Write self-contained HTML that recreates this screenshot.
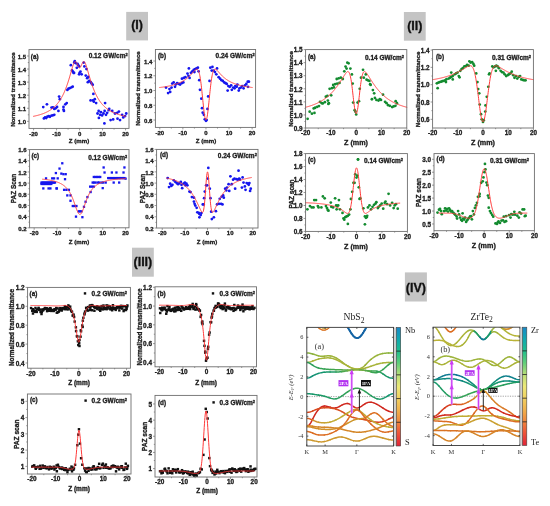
<!DOCTYPE html>
<html><head><meta charset="utf-8"><title>Z-scan figure</title>
<style>html,body{margin:0;padding:0;background:#fff;} body{width:550px;height:506px;overflow:hidden;} svg{display:block;filter:blur(0.35px);}</style>
</head><body>
<svg width="550" height="506" viewBox="0 0 550 506"><rect x="126.2" y="11.9" width="21.8" height="28.5" fill="#c4c4c4"/><text x="137.1" y="29.27" style="font-family:'Liberation Sans',sans-serif;font-size:12.5px;font-weight:bold" text-anchor="middle" fill="#111" stroke="#111" stroke-width="0.3" >(I)</text>
<rect x="403.9" y="12" width="21.8" height="28.7" fill="#c4c4c4"/><text x="414.8" y="30.18" style="font-family:'Liberation Sans',sans-serif;font-size:12.5px;font-weight:bold" text-anchor="middle" fill="#111" stroke="#111" stroke-width="0.3" >(II)</text>
<rect x="132" y="247.7" width="21.8" height="29" fill="#c4c4c4"/><text x="142.9" y="266.22" style="font-family:'Liberation Sans',sans-serif;font-size:12.5px;font-weight:bold" text-anchor="middle" fill="#111" stroke="#111" stroke-width="0.3" >(III)</text>
<rect x="404.9" y="272.4" width="22" height="29.1" fill="#c4c4c4"/><text x="415.9" y="291.68" style="font-family:'Liberation Sans',sans-serif;font-size:12.5px;font-weight:bold" text-anchor="middle" fill="#111" stroke="#111" stroke-width="0.3" >(IV)</text>
<g fill="#1616ee"><circle cx="43.25" cy="107.1" r="1.38"/><circle cx="46.93" cy="104.35" r="1.38"/><circle cx="43.94" cy="118.47" r="1.38"/><circle cx="45.09" cy="117.42" r="1.38"/><circle cx="46.24" cy="118.08" r="1.38"/><circle cx="47.39" cy="116.64" r="1.38"/><circle cx="48.77" cy="116.12" r="1.38"/><circle cx="49.92" cy="116.77" r="1.38"/><circle cx="51.53" cy="115.59" r="1.38"/><circle cx="52.91" cy="115.33" r="1.38"/><circle cx="54.29" cy="114.81" r="1.38"/><circle cx="51.53" cy="107.62" r="1.38"/><circle cx="52.91" cy="107.36" r="1.38"/><circle cx="54.29" cy="108.93" r="1.38"/><circle cx="55.67" cy="108.28" r="1.38"/><circle cx="57.05" cy="106.97" r="1.38"/><circle cx="58.43" cy="110.89" r="1.38"/><circle cx="59.11" cy="96.51" r="1.38"/><circle cx="59.8" cy="99.13" r="1.38"/><circle cx="63.48" cy="109.58" r="1.38"/><circle cx="63.94" cy="110.89" r="1.38"/><circle cx="63.48" cy="106.97" r="1.38"/><circle cx="65.32" cy="104.35" r="1.38"/><circle cx="66.7" cy="103.05" r="1.38"/><circle cx="67.39" cy="89.98" r="1.38"/><circle cx="68.54" cy="88.67" r="1.38"/><circle cx="69.92" cy="88.02" r="1.38"/><circle cx="71.53" cy="87.37" r="1.38"/><circle cx="72.68" cy="86.71" r="1.38"/><circle cx="70.84" cy="65.15" r="1.38"/><circle cx="71.99" cy="70.38" r="1.38"/><circle cx="72.91" cy="71.68" r="1.38"/><circle cx="73.6" cy="72.99" r="1.38"/><circle cx="74.06" cy="72.99" r="1.38"/><circle cx="74.29" cy="62.54" r="1.38"/><circle cx="74.75" cy="61.23" r="1.38"/><circle cx="75.9" cy="63.19" r="1.38"/><circle cx="76.82" cy="67.76" r="1.38"/><circle cx="77.51" cy="63.84" r="1.38"/><circle cx="78.2" cy="65.15" r="1.38"/><circle cx="79.11" cy="66.46" r="1.38"/><circle cx="79.57" cy="72.99" r="1.38"/><circle cx="80.49" cy="71.68" r="1.38"/><circle cx="81.64" cy="74.3" r="1.38"/><circle cx="79.11" cy="74.3" r="1.38"/><circle cx="83.71" cy="62.54" r="1.38"/><circle cx="84.4" cy="66.46" r="1.38"/><circle cx="86.47" cy="69.07" r="1.38"/><circle cx="85.78" cy="75.61" r="1.38"/><circle cx="87.16" cy="78.22" r="1.38"/><circle cx="88.31" cy="76.91" r="1.38"/><circle cx="87.85" cy="82.14" r="1.38"/><circle cx="89.23" cy="80.83" r="1.38"/><circle cx="90.84" cy="82.14" r="1.38"/><circle cx="91.53" cy="83.45" r="1.38"/><circle cx="92.68" cy="84.75" r="1.38"/><circle cx="93.37" cy="93.9" r="1.38"/><circle cx="90.61" cy="100.43" r="1.38"/><circle cx="92.91" cy="100.43" r="1.38"/><circle cx="93.83" cy="101.74" r="1.38"/><circle cx="94.75" cy="99.13" r="1.38"/><circle cx="96.13" cy="103.05" r="1.38"/><circle cx="105.09" cy="103.05" r="1.38"/><circle cx="97.51" cy="113.5" r="1.38"/><circle cx="98.66" cy="110.89" r="1.38"/><circle cx="100.03" cy="114.81" r="1.38"/><circle cx="100.95" cy="112.2" r="1.38"/><circle cx="102.1" cy="115.46" r="1.38"/><circle cx="103.48" cy="113.5" r="1.38"/><circle cx="104.63" cy="110.89" r="1.38"/><circle cx="106.01" cy="114.81" r="1.38"/><circle cx="107.16" cy="112.85" r="1.38"/><circle cx="108.77" cy="110.24" r="1.38"/><circle cx="98.89" cy="117.95" r="1.38"/><circle cx="104.4" cy="123.43" r="1.38"/><circle cx="109.23" cy="108.93" r="1.38"/><circle cx="112.22" cy="110.89" r="1.38"/><circle cx="114.98" cy="113.5" r="1.38"/><circle cx="117.28" cy="112.85" r="1.38"/><circle cx="118.89" cy="111.54" r="1.38"/><circle cx="122.1" cy="114.81" r="1.38"/><circle cx="125.09" cy="116.12" r="1.38"/><circle cx="110.61" cy="120.04" r="1.38"/><circle cx="113.14" cy="119.38" r="1.38"/><circle cx="117.51" cy="118.73" r="1.38"/><circle cx="120.03" cy="120.04" r="1.38"/><circle cx="123.25" cy="117.42" r="1.38"/><circle cx="126.24" cy="113.5" r="1.38"/></g>
<polyline points="33.6,116.29 33.83,116.24 34.06,116.19 34.29,116.15 34.52,116.1 34.75,116.05 34.98,116 35.21,115.94 35.44,115.89 35.67,115.84 35.9,115.78 36.13,115.73 36.36,115.68 36.59,115.62 36.82,115.56 37.05,115.5 37.29,115.45 37.52,115.39 37.75,115.33 37.98,115.26 38.21,115.2 38.44,115.14 38.67,115.08 38.9,115.01 39.13,114.94 39.36,114.88 39.59,114.81 39.82,114.74 40.05,114.67 40.28,114.6 40.51,114.53 40.74,114.45 40.97,114.38 41.2,114.3 41.43,114.23 41.66,114.15 41.89,114.07 42.12,113.99 42.36,113.91 42.59,113.82 42.82,113.74 43.05,113.65 43.28,113.57 43.51,113.48 43.74,113.39 43.97,113.3 44.2,113.2 44.43,113.11 44.66,113.01 44.89,112.91 45.12,112.81 45.35,112.71 45.58,112.61 45.81,112.5 46.04,112.4 46.27,112.29 46.5,112.18 46.73,112.07 46.96,111.95 47.19,111.83 47.43,111.72 47.66,111.6 47.89,111.47 48.12,111.35 48.35,111.22 48.58,111.09 48.81,110.96 49.04,110.82 49.27,110.69 49.5,110.55 49.73,110.41 49.96,110.26 50.19,110.11 50.42,109.96 50.65,109.81 50.88,109.66 51.11,109.5 51.34,109.34 51.57,109.17 51.8,109 52.03,108.83 52.27,108.66 52.5,108.48 52.73,108.3 52.96,108.11 53.19,107.92 53.42,107.73 53.65,107.53 53.88,107.33 54.11,107.13 54.34,106.92 54.57,106.71 54.8,106.49 55.03,106.27 55.26,106.04 55.49,105.81 55.72,105.58 55.95,105.34 56.18,105.09 56.41,104.84 56.64,104.59 56.87,104.33 57.1,104.06 57.34,103.79 57.57,103.51 57.8,103.23 58.03,102.94 58.26,102.64 58.49,102.34 58.72,102.03 58.95,101.71 59.18,101.39 59.41,101.06 59.64,100.72 59.87,100.38 60.1,100.03 60.33,99.67 60.56,99.3 60.79,98.93 61.02,98.55 61.25,98.16 61.48,97.76 61.71,97.35 61.94,96.93 62.17,96.51 62.41,96.07 62.64,95.63 62.87,95.17 63.1,94.71 63.33,94.23 63.56,93.75 63.79,93.26 64.02,92.75 64.25,92.24 64.48,91.71 64.71,91.17 64.94,90.62 65.17,90.06 65.4,89.49 65.63,88.91 65.86,88.32 66.09,87.71 66.32,87.09 66.55,86.46 66.78,85.82 67.01,85.17 67.25,84.5 67.48,83.83 67.71,83.14 67.94,82.44 68.17,81.72 68.4,81 68.63,80.27 68.86,79.52 69.09,78.76 69.32,78 69.55,77.22 69.78,76.44 70.01,75.65 70.24,74.85 70.47,74.05 70.7,73.24 70.93,72.43 71.16,71.62 71.39,70.81 71.62,70.01 71.85,69.21 72.08,68.43 72.32,67.66 72.55,66.91 72.78,66.19 73.01,65.5 73.24,64.84 73.47,64.23 73.7,63.66 73.93,63.15 74.16,62.71 74.39,62.32 74.62,62.02 74.85,61.79 75.08,61.64 75.31,61.58 75.54,61.6 75.77,61.71 76,61.91 76.23,62.18 76.46,62.52 76.69,62.92 76.92,63.38 77.15,63.88 77.39,64.4 77.62,64.93 77.85,65.46 78.08,65.96 78.31,66.43 78.54,66.85 78.77,67.2 79,67.47 79.23,67.66 79.46,67.75 79.69,67.75 79.92,67.66 80.15,67.47 80.38,67.2 80.61,66.85 80.84,66.43 81.07,65.96 81.3,65.46 81.53,64.93 81.76,64.4 81.99,63.88 82.23,63.38 82.46,62.92 82.69,62.52 82.92,62.18 83.15,61.91 83.38,61.71 83.61,61.6 83.84,61.58 84.07,61.64 84.3,61.79 84.53,62.02 84.76,62.32 84.99,62.71 85.22,63.15 85.45,63.66 85.68,64.23 85.91,64.84 86.14,65.5 86.37,66.19 86.6,66.91 86.83,67.66 87.06,68.43 87.3,69.21 87.53,70.01 87.76,70.81 87.99,71.62 88.22,72.43 88.45,73.24 88.68,74.05 88.91,74.85 89.14,75.65 89.37,76.44 89.6,77.22 89.83,78 90.06,78.76 90.29,79.52 90.52,80.27 90.75,81 90.98,81.72 91.21,82.44 91.44,83.14 91.67,83.83 91.9,84.5 92.13,85.17 92.37,85.82 92.6,86.46 92.83,87.09 93.06,87.71 93.29,88.32 93.52,88.91 93.75,89.49 93.98,90.06 94.21,90.62 94.44,91.17 94.67,91.71 94.9,92.24 95.13,92.75 95.36,93.26 95.59,93.75 95.82,94.23 96.05,94.71 96.28,95.17 96.51,95.63 96.74,96.07 96.97,96.51 97.2,96.93 97.44,97.35 97.67,97.76 97.9,98.16 98.13,98.55 98.36,98.93 98.59,99.3 98.82,99.67 99.05,100.03 99.28,100.38 99.51,100.72 99.74,101.06 99.97,101.39 100.2,101.71 100.43,102.03 100.66,102.34 100.89,102.64 101.12,102.94 101.35,103.23 101.58,103.51 101.81,103.79 102.04,104.06 102.28,104.33 102.51,104.59 102.74,104.84 102.97,105.09 103.2,105.34 103.43,105.58 103.66,105.81 103.89,106.04 104.12,106.27 104.35,106.49 104.58,106.71 104.81,106.92 105.04,107.13 105.27,107.33 105.5,107.53 105.73,107.73 105.96,107.92 106.19,108.11 106.42,108.3 106.65,108.48 106.88,108.66 107.11,108.83 107.35,109 107.58,109.17 107.81,109.34 108.04,109.5 108.27,109.66 108.5,109.81 108.73,109.96 108.96,110.11 109.19,110.26 109.42,110.41 109.65,110.55 109.88,110.69 110.11,110.82 110.34,110.96 110.57,111.09 110.8,111.22 111.03,111.35 111.26,111.47 111.49,111.6 111.72,111.72 111.95,111.83 112.18,111.95 112.42,112.07 112.65,112.18 112.88,112.29 113.11,112.4 113.34,112.5 113.57,112.61 113.8,112.71 114.03,112.81 114.26,112.91 114.49,113.01 114.72,113.11 114.95,113.2 115.18,113.3 115.41,113.39 115.64,113.48 115.87,113.57 116.1,113.65 116.33,113.74 116.56,113.82 116.79,113.91 117.02,113.99 117.26,114.07 117.49,114.15 117.72,114.23 117.95,114.3 118.18,114.38 118.41,114.45 118.64,114.53 118.87,114.6 119.1,114.67 119.33,114.74 119.56,114.81 119.79,114.88 120.02,114.94 120.25,115.01 120.48,115.08 120.71,115.14 120.94,115.2 121.17,115.26 121.4,115.33 121.63,115.39 121.86,115.45 122.09,115.5 122.33,115.56 122.56,115.62 122.79,115.68 123.02,115.73 123.25,115.78 123.48,115.84 123.71,115.89 123.94,115.94 124.17,116 124.4,116.05 124.63,116.1 124.86,116.15 125.09,116.19 125.32,116.24 125.55,116.29" fill="none" stroke="#ff3838" stroke-width="1.0" stroke-linejoin="round" stroke-linecap="round" />
<rect x="29" y="49.6" width="100" height="78.8" fill="none" stroke="#6e6e6e" stroke-width="0.9"/>
<text x="26" y="124.04" style="font-family:'Liberation Sans',sans-serif;font-size:6.0px;font-weight:bold" text-anchor="end" fill="#1c1c1c" stroke="#1c1c1c" stroke-width="0.32" >1.0</text>
<text x="26" y="110.98" style="font-family:'Liberation Sans',sans-serif;font-size:6.0px;font-weight:bold" text-anchor="end" fill="#1c1c1c" stroke="#1c1c1c" stroke-width="0.32" >1.1</text>
<text x="26" y="97.91" style="font-family:'Liberation Sans',sans-serif;font-size:6.0px;font-weight:bold" text-anchor="end" fill="#1c1c1c" stroke="#1c1c1c" stroke-width="0.32" >1.2</text>
<text x="26" y="84.84" style="font-family:'Liberation Sans',sans-serif;font-size:6.0px;font-weight:bold" text-anchor="end" fill="#1c1c1c" stroke="#1c1c1c" stroke-width="0.32" >1.3</text>
<text x="26" y="71.77" style="font-family:'Liberation Sans',sans-serif;font-size:6.0px;font-weight:bold" text-anchor="end" fill="#1c1c1c" stroke="#1c1c1c" stroke-width="0.32" >1.4</text>
<text x="26" y="58.7" style="font-family:'Liberation Sans',sans-serif;font-size:6.0px;font-weight:bold" text-anchor="end" fill="#1c1c1c" stroke="#1c1c1c" stroke-width="0.32" >1.5</text>
<text x="33.6" y="135.8" style="font-family:'Liberation Sans',sans-serif;font-size:6.0px;font-weight:bold" text-anchor="middle" fill="#1c1c1c" stroke="#1c1c1c" stroke-width="0.32" >-20</text>
<text x="56.59" y="135.8" style="font-family:'Liberation Sans',sans-serif;font-size:6.0px;font-weight:bold" text-anchor="middle" fill="#1c1c1c" stroke="#1c1c1c" stroke-width="0.32" >-10</text>
<text x="79.57" y="135.8" style="font-family:'Liberation Sans',sans-serif;font-size:6.0px;font-weight:bold" text-anchor="middle" fill="#1c1c1c" stroke="#1c1c1c" stroke-width="0.32" >0</text>
<text x="102.56" y="135.8" style="font-family:'Liberation Sans',sans-serif;font-size:6.0px;font-weight:bold" text-anchor="middle" fill="#1c1c1c" stroke="#1c1c1c" stroke-width="0.32" >10</text>
<text x="125.55" y="135.8" style="font-family:'Liberation Sans',sans-serif;font-size:6.0px;font-weight:bold" text-anchor="middle" fill="#1c1c1c" stroke="#1c1c1c" stroke-width="0.32" >20</text>
<path d="M27,121.34H29M27.8,114.81H29M27,108.28H29M27.8,101.74H29M27,95.21H29M27.8,88.67H29M27,82.14H29M27.8,75.61H29M27,69.07H29M27.8,62.54H29M27,56H29M33.6,128.4V130.4M45.09,128.4V129.6M56.59,128.4V130.4M68.08,128.4V129.6M79.57,128.4V130.4M91.07,128.4V129.6M102.56,128.4V130.4M114.06,128.4V129.6M125.55,128.4V130.4" stroke="#6e6e6e" stroke-width="0.7" fill="none"/>
<text transform="translate(14.7,89.5) rotate(-90)" style="font-family:'Liberation Sans',sans-serif;font-size:6.1px;font-weight:bold" text-anchor="middle" fill="#1c1c1c" stroke="#1c1c1c" stroke-width="0.32">Normalized transmittance</text>
<text x="79" y="143.2" style="font-family:'Liberation Sans',sans-serif;font-size:6.1px;font-weight:bold" text-anchor="middle" fill="#1c1c1c" stroke="#1c1c1c" stroke-width="0.32" >Z (mm)</text>
<text x="30.8" y="58.6" style="font-family:'Liberation Sans',sans-serif;font-size:6.3px;font-weight:bold" text-anchor="start" fill="#1c1c1c" stroke="#1c1c1c" stroke-width="0.32" >(a)</text>
<text x="127.7" y="58.4" style="font-family:'Liberation Sans',sans-serif;font-size:6.5px;font-weight:bold" text-anchor="end" fill="#1c1c1c" stroke="#1c1c1c" stroke-width="0.32">0.12 GW/cm<tspan style="font-size:3.90px" dy="-2.2">2</tspan></text>
<g fill="#1616ee"><circle cx="166.02" cy="87.56" r="1.38"/><circle cx="168.1" cy="93.1" r="1.38"/><circle cx="170.18" cy="91.99" r="1.38"/><circle cx="169.48" cy="89.04" r="1.38"/><circle cx="171.56" cy="87.56" r="1.38"/><circle cx="172.25" cy="83.51" r="1.38"/><circle cx="173.64" cy="82.4" r="1.38"/><circle cx="175.02" cy="86.83" r="1.38"/><circle cx="175.72" cy="84.61" r="1.38"/><circle cx="177.1" cy="83.14" r="1.38"/><circle cx="178.72" cy="83.88" r="1.38"/><circle cx="180.1" cy="84.61" r="1.38"/><circle cx="181.72" cy="83.14" r="1.38"/><circle cx="183.34" cy="82.4" r="1.38"/><circle cx="181.95" cy="78.71" r="1.38"/><circle cx="183.8" cy="77.97" r="1.38"/><circle cx="185.41" cy="77.24" r="1.38"/><circle cx="187.49" cy="73.55" r="1.38"/><circle cx="188.42" cy="75.76" r="1.38"/><circle cx="189.57" cy="77.97" r="1.38"/><circle cx="188.88" cy="68.38" r="1.38"/><circle cx="190.95" cy="72.81" r="1.38"/><circle cx="192.34" cy="71.34" r="1.38"/><circle cx="193.73" cy="69.86" r="1.38"/><circle cx="195.11" cy="69.12" r="1.38"/><circle cx="196.5" cy="68.38" r="1.38"/><circle cx="197.88" cy="67.65" r="1.38"/><circle cx="194.42" cy="72.07" r="1.38"/><circle cx="198.57" cy="71.34" r="1.38"/><circle cx="199.27" cy="80.19" r="1.38"/><circle cx="199.96" cy="89.78" r="1.38"/><circle cx="201.34" cy="98.63" r="1.38"/><circle cx="202.04" cy="108.22" r="1.38"/><circle cx="202.73" cy="112.65" r="1.38"/><circle cx="203.88" cy="114.86" r="1.38"/><circle cx="204.81" cy="119.29" r="1.38"/><circle cx="205.96" cy="120.76" r="1.38"/><circle cx="206.65" cy="120.02" r="1.38"/><circle cx="207.46" cy="108.96" r="1.38"/><circle cx="208.16" cy="96.42" r="1.38"/><circle cx="209.54" cy="80.93" r="1.38"/><circle cx="210.35" cy="67.65" r="1.38"/><circle cx="212.43" cy="66.91" r="1.38"/><circle cx="211.73" cy="70.6" r="1.38"/><circle cx="213.58" cy="70.6" r="1.38"/><circle cx="214.97" cy="72.07" r="1.38"/><circle cx="217.04" cy="68.38" r="1.38"/><circle cx="216.35" cy="74.29" r="1.38"/><circle cx="218.66" cy="77.24" r="1.38"/><circle cx="220.05" cy="78.71" r="1.38"/><circle cx="221.43" cy="80.19" r="1.38"/><circle cx="222.82" cy="80.93" r="1.38"/><circle cx="224.2" cy="82.4" r="1.38"/><circle cx="225.59" cy="83.14" r="1.38"/><circle cx="226.74" cy="83.88" r="1.38"/><circle cx="227.66" cy="90.52" r="1.38"/><circle cx="228.36" cy="86.09" r="1.38"/><circle cx="229.74" cy="86.83" r="1.38"/><circle cx="231.13" cy="85.35" r="1.38"/><circle cx="231.82" cy="89.78" r="1.38"/><circle cx="233.21" cy="87.56" r="1.38"/><circle cx="234.59" cy="88.3" r="1.38"/><circle cx="235.28" cy="86.09" r="1.38"/><circle cx="236.67" cy="86.83" r="1.38"/><circle cx="237.36" cy="84.61" r="1.38"/><circle cx="238.75" cy="90.52" r="1.38"/><circle cx="239.44" cy="88.3" r="1.38"/><circle cx="240.82" cy="87.56" r="1.38"/><circle cx="242.21" cy="86.09" r="1.38"/><circle cx="243.59" cy="88.3" r="1.38"/><circle cx="244.98" cy="85.35" r="1.38"/><circle cx="246.36" cy="83.88" r="1.38"/><circle cx="247.75" cy="81.66" r="1.38"/><circle cx="248.9" cy="81.66" r="1.38"/><circle cx="247.98" cy="86.83" r="1.38"/></g>
<polyline points="159.79,87.49 160.02,87.46 160.25,87.43 160.48,87.4 160.71,87.37 160.94,87.34 161.18,87.31 161.41,87.28 161.64,87.25 161.87,87.22 162.1,87.19 162.33,87.16 162.56,87.13 162.8,87.1 163.03,87.06 163.26,87.03 163.49,86.99 163.72,86.96 163.95,86.93 164.18,86.89 164.42,86.85 164.65,86.82 164.88,86.78 165.11,86.74 165.34,86.71 165.57,86.67 165.8,86.63 166.04,86.59 166.27,86.55 166.5,86.51 166.73,86.47 166.96,86.42 167.19,86.38 167.42,86.34 167.66,86.29 167.89,86.25 168.12,86.21 168.35,86.16 168.58,86.11 168.81,86.07 169.04,86.02 169.28,85.97 169.51,85.92 169.74,85.87 169.97,85.82 170.2,85.77 170.43,85.71 170.66,85.66 170.9,85.61 171.13,85.55 171.36,85.49 171.59,85.44 171.82,85.38 172.05,85.32 172.29,85.26 172.52,85.2 172.75,85.14 172.98,85.07 173.21,85.01 173.44,84.95 173.67,84.88 173.91,84.81 174.14,84.75 174.37,84.68 174.6,84.61 174.83,84.53 175.06,84.46 175.29,84.39 175.53,84.31 175.76,84.24 175.99,84.16 176.22,84.08 176.45,84 176.68,83.92 176.91,83.83 177.15,83.75 177.38,83.66 177.61,83.57 177.84,83.48 178.07,83.39 178.3,83.3 178.53,83.21 178.77,83.11 179,83.01 179.23,82.91 179.46,82.81 179.69,82.71 179.92,82.61 180.15,82.5 180.39,82.39 180.62,82.28 180.85,82.17 181.08,82.05 181.31,81.94 181.54,81.82 181.77,81.7 182.01,81.58 182.24,81.45 182.47,81.32 182.7,81.19 182.93,81.06 183.16,80.93 183.39,80.79 183.63,80.65 183.86,80.51 184.09,80.36 184.32,80.22 184.55,80.06 184.78,79.91 185.02,79.76 185.25,79.6 185.48,79.44 185.71,79.27 185.94,79.1 186.17,78.93 186.4,78.76 186.64,78.58 186.87,78.4 187.1,78.22 187.33,78.03 187.56,77.84 187.79,77.65 188.02,77.46 188.26,77.26 188.49,77.05 188.72,76.84 188.95,76.63 189.18,76.42 189.41,76.2 189.64,75.98 189.88,75.76 190.11,75.53 190.34,75.3 190.57,75.06 190.8,74.82 191.03,74.58 191.26,74.33 191.5,74.08 191.73,73.83 191.96,73.57 192.19,73.32 192.42,73.05 192.65,72.79 192.88,72.53 193.12,72.26 193.35,72 193.58,71.73 193.81,71.47 194.04,71.21 194.27,70.96 194.5,70.71 194.74,70.46 194.97,70.23 195.2,70.01 195.43,69.81 195.66,69.62 195.89,69.46 196.12,69.33 196.36,69.22 196.59,69.16 196.82,69.13 197.05,69.15 197.28,69.23 197.51,69.37 197.75,69.58 197.98,69.86 198.21,70.22 198.44,70.68 198.67,71.23 198.9,71.89 199.13,72.66 199.37,73.55 199.6,74.56 199.83,75.69 200.06,76.96 200.29,78.35 200.52,79.87 200.75,81.52 200.99,83.29 201.22,85.17 201.45,87.17 201.68,89.25 201.91,91.42 202.14,93.65 202.37,95.92 202.61,98.22 202.84,100.53 203.07,102.82 203.3,105.06 203.53,107.23 203.76,109.31 203.99,111.26 204.23,113.08 204.46,114.72 204.69,116.17 204.92,117.41 205.15,118.43 205.38,119.2 205.61,119.73 205.85,119.99 206.08,119.99 206.31,119.73 206.54,119.2 206.77,118.43 207,117.41 207.23,116.17 207.47,114.72 207.7,113.08 207.93,111.26 208.16,109.31 208.39,107.23 208.62,105.06 208.85,102.82 209.09,100.53 209.32,98.22 209.55,95.92 209.78,93.65 210.01,91.42 210.24,89.25 210.48,87.17 210.71,85.17 210.94,83.29 211.17,81.52 211.4,79.87 211.63,78.35 211.86,76.96 212.1,75.69 212.33,74.56 212.56,73.55 212.79,72.66 213.02,71.89 213.25,71.23 213.48,70.68 213.72,70.22 213.95,69.86 214.18,69.58 214.41,69.37 214.64,69.23 214.87,69.15 215.1,69.13 215.34,69.16 215.57,69.22 215.8,69.33 216.03,69.46 216.26,69.62 216.49,69.81 216.72,70.01 216.96,70.23 217.19,70.46 217.42,70.71 217.65,70.96 217.88,71.21 218.11,71.47 218.34,71.73 218.58,72 218.81,72.26 219.04,72.53 219.27,72.79 219.5,73.05 219.73,73.32 219.96,73.57 220.2,73.83 220.43,74.08 220.66,74.33 220.89,74.58 221.12,74.82 221.35,75.06 221.58,75.3 221.82,75.53 222.05,75.76 222.28,75.98 222.51,76.2 222.74,76.42 222.97,76.63 223.21,76.84 223.44,77.05 223.67,77.26 223.9,77.46 224.13,77.65 224.36,77.84 224.59,78.03 224.83,78.22 225.06,78.4 225.29,78.58 225.52,78.76 225.75,78.93 225.98,79.1 226.21,79.27 226.45,79.44 226.68,79.6 226.91,79.76 227.14,79.91 227.37,80.06 227.6,80.22 227.83,80.36 228.07,80.51 228.3,80.65 228.53,80.79 228.76,80.93 228.99,81.06 229.22,81.19 229.45,81.32 229.69,81.45 229.92,81.58 230.15,81.7 230.38,81.82 230.61,81.94 230.84,82.05 231.07,82.17 231.31,82.28 231.54,82.39 231.77,82.5 232,82.61 232.23,82.71 232.46,82.81 232.69,82.91 232.93,83.01 233.16,83.11 233.39,83.21 233.62,83.3 233.85,83.39 234.08,83.48 234.31,83.57 234.55,83.66 234.78,83.75 235.01,83.83 235.24,83.92 235.47,84 235.7,84.08 235.94,84.16 236.17,84.24 236.4,84.31 236.63,84.39 236.86,84.46 237.09,84.53 237.32,84.61 237.56,84.68 237.79,84.75 238.02,84.81 238.25,84.88 238.48,84.95 238.71,85.01 238.94,85.07 239.18,85.14 239.41,85.2 239.64,85.26 239.87,85.32 240.1,85.38 240.33,85.44 240.56,85.49 240.8,85.55 241.03,85.61 241.26,85.66 241.49,85.71 241.72,85.77 241.95,85.82 242.18,85.87 242.42,85.92 242.65,85.97 242.88,86.02 243.11,86.07 243.34,86.11 243.57,86.16 243.8,86.21 244.04,86.25 244.27,86.29 244.5,86.34 244.73,86.38 244.96,86.42 245.19,86.47 245.42,86.51 245.66,86.55 245.89,86.59 246.12,86.63 246.35,86.67 246.58,86.71 246.81,86.74 247.04,86.78 247.28,86.82 247.51,86.85 247.74,86.89 247.97,86.93 248.2,86.96 248.43,86.99 248.67,87.03 248.9,87.06 249.13,87.1 249.36,87.13 249.59,87.16 249.82,87.19 250.05,87.22 250.29,87.25 250.52,87.28 250.75,87.31 250.98,87.34 251.21,87.37 251.44,87.4 251.67,87.43 251.91,87.46 252.14,87.49" fill="none" stroke="#ff3838" stroke-width="1.0" stroke-linejoin="round" stroke-linecap="round" />
<rect x="155.4" y="49.5" width="100.2" height="77.9" fill="none" stroke="#6e6e6e" stroke-width="0.9"/>
<text x="152.4" y="122.72" style="font-family:'Liberation Sans',sans-serif;font-size:6.0px;font-weight:bold" text-anchor="end" fill="#1c1c1c" stroke="#1c1c1c" stroke-width="0.32" >0.6</text>
<text x="152.4" y="107.97" style="font-family:'Liberation Sans',sans-serif;font-size:6.0px;font-weight:bold" text-anchor="end" fill="#1c1c1c" stroke="#1c1c1c" stroke-width="0.32" >0.8</text>
<text x="152.4" y="93.22" style="font-family:'Liberation Sans',sans-serif;font-size:6.0px;font-weight:bold" text-anchor="end" fill="#1c1c1c" stroke="#1c1c1c" stroke-width="0.32" >1.0</text>
<text x="152.4" y="78.46" style="font-family:'Liberation Sans',sans-serif;font-size:6.0px;font-weight:bold" text-anchor="end" fill="#1c1c1c" stroke="#1c1c1c" stroke-width="0.32" >1.2</text>
<text x="152.4" y="63.71" style="font-family:'Liberation Sans',sans-serif;font-size:6.0px;font-weight:bold" text-anchor="end" fill="#1c1c1c" stroke="#1c1c1c" stroke-width="0.32" >1.4</text>
<text x="159.79" y="134.8" style="font-family:'Liberation Sans',sans-serif;font-size:6.0px;font-weight:bold" text-anchor="middle" fill="#1c1c1c" stroke="#1c1c1c" stroke-width="0.32" >-20</text>
<text x="182.87" y="134.8" style="font-family:'Liberation Sans',sans-serif;font-size:6.0px;font-weight:bold" text-anchor="middle" fill="#1c1c1c" stroke="#1c1c1c" stroke-width="0.32" >-10</text>
<text x="205.96" y="134.8" style="font-family:'Liberation Sans',sans-serif;font-size:6.0px;font-weight:bold" text-anchor="middle" fill="#1c1c1c" stroke="#1c1c1c" stroke-width="0.32" >0</text>
<text x="229.05" y="134.8" style="font-family:'Liberation Sans',sans-serif;font-size:6.0px;font-weight:bold" text-anchor="middle" fill="#1c1c1c" stroke="#1c1c1c" stroke-width="0.32" >10</text>
<text x="252.14" y="134.8" style="font-family:'Liberation Sans',sans-serif;font-size:6.0px;font-weight:bold" text-anchor="middle" fill="#1c1c1c" stroke="#1c1c1c" stroke-width="0.32" >20</text>
<path d="M153.4,120.02H155.4M154.2,112.65H155.4M153.4,105.27H155.4M154.2,97.89H155.4M153.4,90.52H155.4M154.2,83.14H155.4M153.4,75.76H155.4M154.2,68.38H155.4M153.4,61.01H155.4M159.79,127.4V129.4M171.33,127.4V128.6M182.87,127.4V129.4M194.42,127.4V128.6M205.96,127.4V129.4M217.51,127.4V128.6M229.05,127.4V129.4M240.59,127.4V128.6M252.14,127.4V129.4" stroke="#6e6e6e" stroke-width="0.7" fill="none"/>
<text transform="translate(140.3,88.5) rotate(-90)" style="font-family:'Liberation Sans',sans-serif;font-size:6.1px;font-weight:bold" text-anchor="middle" fill="#1c1c1c" stroke="#1c1c1c" stroke-width="0.32">Normalized transmittance</text>
<text x="206" y="143.2" style="font-family:'Liberation Sans',sans-serif;font-size:6.1px;font-weight:bold" text-anchor="middle" fill="#1c1c1c" stroke="#1c1c1c" stroke-width="0.32" >Z (mm)</text>
<text x="158" y="57.9" style="font-family:'Liberation Sans',sans-serif;font-size:6.3px;font-weight:bold" text-anchor="start" fill="#1c1c1c" stroke="#1c1c1c" stroke-width="0.32" >(b)</text>
<text x="254.6" y="58" style="font-family:'Liberation Sans',sans-serif;font-size:6.5px;font-weight:bold" text-anchor="end" fill="#1c1c1c" stroke="#1c1c1c" stroke-width="0.32">0.24 GW/cm<tspan style="font-size:3.90px" dy="-2.2">2</tspan></text>
<g fill="#1616ee"><rect x="40.33" y="181.41" width="2.3" height="2.3"/><rect x="41.37" y="181.41" width="2.3" height="2.3"/><rect x="42.41" y="181.41" width="2.3" height="2.3"/><rect x="43.44" y="181.41" width="2.3" height="2.3"/><rect x="44.48" y="181.41" width="2.3" height="2.3"/><rect x="45.52" y="181.41" width="2.3" height="2.3"/><rect x="46.55" y="181.41" width="2.3" height="2.3"/><rect x="47.59" y="181.41" width="2.3" height="2.3"/><rect x="48.63" y="181.41" width="2.3" height="2.3"/><rect x="49.67" y="181.41" width="2.3" height="2.3"/><rect x="50.7" y="181.41" width="2.3" height="2.3"/><rect x="51.74" y="181.41" width="2.3" height="2.3"/><rect x="52.78" y="181.41" width="2.3" height="2.3"/><rect x="53.81" y="181.41" width="2.3" height="2.3"/><rect x="40.33" y="182.8" width="2.3" height="2.3"/><rect x="41.56" y="182.8" width="2.3" height="2.3"/><rect x="42.79" y="182.8" width="2.3" height="2.3"/><rect x="44.02" y="182.8" width="2.3" height="2.3"/><rect x="45.25" y="182.8" width="2.3" height="2.3"/><rect x="46.47" y="182.8" width="2.3" height="2.3"/><rect x="47.7" y="182.8" width="2.3" height="2.3"/><rect x="48.93" y="182.8" width="2.3" height="2.3"/><rect x="50.16" y="182.8" width="2.3" height="2.3"/><rect x="42.16" y="187.27" width="2.3" height="2.3"/><rect x="47.42" y="187.27" width="2.3" height="2.3"/><rect x="49.24" y="187.27" width="2.3" height="2.3"/><rect x="55.64" y="187.27" width="2.3" height="2.3"/><rect x="55.41" y="187.27" width="2.3" height="2.3"/><rect x="44.9" y="177.22" width="2.3" height="2.3"/><rect x="51.07" y="177.22" width="2.3" height="2.3"/><rect x="52.9" y="177.22" width="2.3" height="2.3"/><rect x="56.56" y="177.22" width="2.3" height="2.3"/><rect x="54.73" y="171.91" width="2.3" height="2.3"/><rect x="60.21" y="172.47" width="2.3" height="2.3"/><rect x="62.27" y="173.03" width="2.3" height="2.3"/><rect x="64.55" y="173.03" width="2.3" height="2.3"/><rect x="58.38" y="167.44" width="2.3" height="2.3"/><rect x="61.13" y="162.13" width="2.3" height="2.3"/><rect x="63.87" y="178.05" width="2.3" height="2.3"/><rect x="62.95" y="188.67" width="2.3" height="2.3"/><rect x="65.24" y="188.67" width="2.3" height="2.3"/><rect x="67.75" y="188.67" width="2.3" height="2.3"/><rect x="66.15" y="194.25" width="2.3" height="2.3"/><rect x="69.35" y="194.25" width="2.3" height="2.3"/><rect x="69.35" y="199.62" width="2.3" height="2.3"/><rect x="71.64" y="204.87" width="2.3" height="2.3"/><rect x="73.47" y="204.87" width="2.3" height="2.3"/><rect x="75.29" y="204.87" width="2.3" height="2.3"/><rect x="77.58" y="210.17" width="2.3" height="2.3"/><rect x="78.72" y="210.17" width="2.3" height="2.3"/><rect x="80.32" y="210.17" width="2.3" height="2.3"/><rect x="74.84" y="215.48" width="2.3" height="2.3"/><rect x="81.23" y="216.04" width="2.3" height="2.3"/><rect x="82.83" y="205.65" width="2.3" height="2.3"/><rect x="84.43" y="200.62" width="2.3" height="2.3"/><rect x="86.26" y="195.93" width="2.3" height="2.3"/><rect x="89.46" y="190.9" width="2.3" height="2.3"/><rect x="89" y="185.48" width="2.3" height="2.3"/><rect x="90.83" y="185.48" width="2.3" height="2.3"/><rect x="92.66" y="185.48" width="2.3" height="2.3"/><rect x="101.57" y="186.99" width="2.3" height="2.3"/><rect x="92.66" y="175.82" width="2.3" height="2.3"/><rect x="94.26" y="175.82" width="2.3" height="2.3"/><rect x="95.86" y="175.82" width="2.3" height="2.3"/><rect x="97.46" y="175.82" width="2.3" height="2.3"/><rect x="99.06" y="175.82" width="2.3" height="2.3"/><rect x="107.06" y="176.94" width="2.3" height="2.3"/><rect x="108.53" y="176.94" width="2.3" height="2.3"/><rect x="110.01" y="176.94" width="2.3" height="2.3"/><rect x="111.48" y="176.94" width="2.3" height="2.3"/><rect x="112.96" y="176.94" width="2.3" height="2.3"/><rect x="114.43" y="176.94" width="2.3" height="2.3"/><rect x="115.91" y="176.94" width="2.3" height="2.3"/><rect x="117.38" y="176.94" width="2.3" height="2.3"/><rect x="118.86" y="176.94" width="2.3" height="2.3"/><rect x="120.33" y="176.94" width="2.3" height="2.3"/><rect x="121.8" y="176.94" width="2.3" height="2.3"/><rect x="123.28" y="176.94" width="2.3" height="2.3"/><rect x="91.52" y="181.41" width="2.3" height="2.3"/><rect x="92.89" y="181.41" width="2.3" height="2.3"/><rect x="94.49" y="181.41" width="2.3" height="2.3"/><rect x="96.77" y="181.41" width="2.3" height="2.3"/><rect x="97.92" y="181.41" width="2.3" height="2.3"/><rect x="100.2" y="181.41" width="2.3" height="2.3"/><rect x="102.03" y="181.41" width="2.3" height="2.3"/><rect x="104.54" y="181.41" width="2.3" height="2.3"/><rect x="112.54" y="181.41" width="2.3" height="2.3"/><rect x="118.02" y="181.41" width="2.3" height="2.3"/><rect x="103.4" y="171.35" width="2.3" height="2.3"/><rect x="110.71" y="171.35" width="2.3" height="2.3"/><rect x="115.28" y="171.35" width="2.3" height="2.3"/><rect x="122.37" y="171.35" width="2.3" height="2.3"/><rect x="102.49" y="166.32" width="2.3" height="2.3"/><rect x="123.28" y="166.32" width="2.3" height="2.3"/><rect x="124.42" y="177.5" width="2.3" height="2.3"/></g>
<polyline points="42.62,179.2 42.83,179.22 43.04,179.24 43.25,179.26 43.46,179.28 43.66,179.3 43.87,179.32 44.08,179.35 44.29,179.37 44.5,179.39 44.7,179.42 44.91,179.44 45.12,179.46 45.33,179.49 45.54,179.51 45.74,179.54 45.95,179.57 46.16,179.59 46.37,179.62 46.57,179.65 46.78,179.68 46.99,179.71 47.2,179.73 47.41,179.76 47.61,179.79 47.82,179.83 48.03,179.86 48.24,179.89 48.45,179.92 48.65,179.96 48.86,179.99 49.07,180.02 49.28,180.06 49.49,180.09 49.69,180.13 49.9,180.17 50.11,180.21 50.32,180.24 50.52,180.28 50.73,180.32 50.94,180.36 51.15,180.41 51.36,180.45 51.56,180.49 51.77,180.54 51.98,180.58 52.19,180.63 52.4,180.67 52.6,180.72 52.81,180.77 53.02,180.82 53.23,180.87 53.44,180.92 53.64,180.97 53.85,181.02 54.06,181.08 54.27,181.13 54.47,181.19 54.68,181.25 54.89,181.31 55.1,181.37 55.31,181.43 55.51,181.49 55.72,181.56 55.93,181.62 56.14,181.69 56.35,181.75 56.55,181.82 56.76,181.89 56.97,181.97 57.18,182.04 57.38,182.12 57.59,182.19 57.8,182.27 58.01,182.35 58.22,182.44 58.42,182.52 58.63,182.61 58.84,182.69 59.05,182.78 59.26,182.87 59.46,182.97 59.67,183.06 59.88,183.16 60.09,183.26 60.3,183.37 60.5,183.47 60.71,183.58 60.92,183.69 61.13,183.8 61.33,183.92 61.54,184.04 61.75,184.16 61.96,184.28 62.17,184.41 62.37,184.54 62.58,184.68 62.79,184.81 63,184.96 63.21,185.1 63.41,185.25 63.62,185.4 63.83,185.56 64.04,185.72 64.25,185.88 64.45,186.05 64.66,186.23 64.87,186.41 65.08,186.59 65.28,186.78 65.49,186.97 65.7,187.17 65.91,187.38 66.12,187.59 66.32,187.8 66.53,188.03 66.74,188.25 66.95,188.49 67.16,188.73 67.36,188.98 67.57,189.24 67.78,189.5 67.99,189.78 68.2,190.06 68.4,190.35 68.61,190.64 68.82,190.95 69.03,191.26 69.23,191.59 69.44,191.92 69.65,192.26 69.86,192.62 70.07,192.98 70.27,193.36 70.48,193.74 70.69,194.14 70.9,194.54 71.11,194.96 71.31,195.39 71.52,195.83 71.73,196.28 71.94,196.75 72.15,197.23 72.35,197.71 72.56,198.21 72.77,198.72 72.98,199.25 73.18,199.78 73.39,200.32 73.6,200.87 73.81,201.44 74.02,202.01 74.22,202.59 74.43,203.17 74.64,203.76 74.85,204.36 75.06,204.96 75.26,205.56 75.47,206.16 75.68,206.75 75.89,207.35 76.09,207.93 76.3,208.51 76.51,209.08 76.72,209.63 76.93,210.17 77.13,210.68 77.34,211.17 77.55,211.64 77.76,212.08 77.97,212.49 78.17,212.87 78.38,213.21 78.59,213.51 78.8,213.77 79.01,213.98 79.21,214.16 79.42,214.28 79.63,214.36 79.84,214.39 80.04,214.38 80.25,214.31 80.46,214.2 80.67,214.05 80.88,213.84 81.08,213.6 81.29,213.31 81.5,212.98 81.71,212.62 81.92,212.22 82.12,211.79 82.33,211.33 82.54,210.85 82.75,210.34 82.96,209.81 83.16,209.26 83.37,208.7 83.58,208.13 83.79,207.54 83.99,206.95 84.2,206.35 84.41,205.76 84.62,205.16 84.83,204.56 85.03,203.96 85.24,203.37 85.45,202.78 85.66,202.2 85.87,201.62 86.07,201.06 86.28,200.5 86.49,199.96 86.7,199.42 86.91,198.89 87.11,198.38 87.32,197.88 87.53,197.39 87.74,196.91 87.94,196.44 88.15,195.98 88.36,195.54 88.57,195.1 88.78,194.68 88.98,194.27 89.19,193.87 89.4,193.48 89.61,193.1 89.82,192.74 90.02,192.38 90.23,192.03 90.44,191.7 90.65,191.37 90.86,191.05 91.06,190.74 91.27,190.44 91.48,190.15 91.69,189.87 91.89,189.59 92.1,189.33 92.31,189.07 92.52,188.81 92.73,188.57 92.93,188.33 93.14,188.1 93.35,187.88 93.56,187.66 93.77,187.44 93.97,187.24 94.18,187.04 94.39,186.84 94.6,186.65 94.8,186.47 95.01,186.28 95.22,186.11 95.43,185.94 95.64,185.77 95.84,185.61 96.05,185.45 96.26,185.3 96.47,185.15 96.68,185 96.88,184.86 97.09,184.72 97.3,184.59 97.51,184.45 97.72,184.33 97.92,184.2 98.13,184.08 98.34,183.96 98.55,183.84 98.75,183.73 98.96,183.62 99.17,183.51 99.38,183.4 99.59,183.3 99.79,183.2 100,183.1 100.21,183 100.42,182.91 100.63,182.81 100.83,182.72 101.04,182.63 101.25,182.55 101.46,182.46 101.67,182.38 101.87,182.3 102.08,182.22 102.29,182.14 102.5,182.07 102.7,181.99 102.91,181.92 103.12,181.85 103.33,181.78 103.54,181.71 103.74,181.64 103.95,181.58 104.16,181.51 104.37,181.45 104.58,181.39 104.78,181.33 104.99,181.27 105.2,181.21 105.41,181.15 105.62,181.1 105.82,181.04 106.03,180.99 106.24,180.94 106.45,180.88 106.65,180.83 106.86,180.78 107.07,180.74 107.28,180.69 107.49,180.64 107.69,180.59 107.9,180.55 108.11,180.51 108.32,180.46 108.53,180.42 108.73,180.38 108.94,180.34 109.15,180.3 109.36,180.26 109.56,180.22 109.77,180.18 109.98,180.14 110.19,180.11 110.4,180.07 110.6,180.04 110.81,180 111.02,179.97 111.23,179.93 111.44,179.9 111.64,179.87 111.85,179.84 112.06,179.81 112.27,179.77 112.48,179.74 112.68,179.72 112.89,179.69 113.1,179.66 113.31,179.63 113.51,179.6 113.72,179.58 113.93,179.55 114.14,179.52 114.35,179.5 114.55,179.47 114.76,179.45 114.97,179.42 115.18,179.4 115.39,179.38 115.59,179.35 115.8,179.33 116.01,179.31 116.22,179.29 116.43,179.27 116.63,179.24 116.84,179.22 117.05,179.2 117.26,179.18 117.46,179.16 117.67,179.14 117.88,179.13 118.09,179.11 118.3,179.09 118.5,179.07 118.71,179.05 118.92,179.04 119.13,179.02 119.34,179 119.54,178.99 119.75,178.97 119.96,178.95 120.17,178.94 120.38,178.92 120.58,178.91 120.79,178.89 121,178.88 121.21,178.86 121.41,178.85 121.62,178.83 121.83,178.82 122.04,178.81 122.25,178.79 122.45,178.78 122.66,178.77 122.87,178.75 123.08,178.74 123.29,178.73 123.49,178.72 123.7,178.7 123.91,178.69 124.12,178.68 124.33,178.67 124.53,178.66 124.74,178.65 124.95,178.64 125.16,178.63 125.36,178.62 125.57,178.6" fill="none" stroke="#ff3838" stroke-width="1.0" stroke-linejoin="round" stroke-linecap="round" />
<rect x="29.6" y="149.6" width="99.4" height="78.2" fill="none" stroke="#6e6e6e" stroke-width="0.9"/>
<text x="26.6" y="230.5" style="font-family:'Liberation Sans',sans-serif;font-size:6.0px;font-weight:bold" text-anchor="end" fill="#1c1c1c" stroke="#1c1c1c" stroke-width="0.32" >0.2</text>
<text x="26.6" y="219.33" style="font-family:'Liberation Sans',sans-serif;font-size:6.0px;font-weight:bold" text-anchor="end" fill="#1c1c1c" stroke="#1c1c1c" stroke-width="0.32" >0.4</text>
<text x="26.6" y="208.16" style="font-family:'Liberation Sans',sans-serif;font-size:6.0px;font-weight:bold" text-anchor="end" fill="#1c1c1c" stroke="#1c1c1c" stroke-width="0.32" >0.6</text>
<text x="26.6" y="196.99" style="font-family:'Liberation Sans',sans-serif;font-size:6.0px;font-weight:bold" text-anchor="end" fill="#1c1c1c" stroke="#1c1c1c" stroke-width="0.32" >0.8</text>
<text x="26.6" y="185.81" style="font-family:'Liberation Sans',sans-serif;font-size:6.0px;font-weight:bold" text-anchor="end" fill="#1c1c1c" stroke="#1c1c1c" stroke-width="0.32" >1.0</text>
<text x="26.6" y="174.64" style="font-family:'Liberation Sans',sans-serif;font-size:6.0px;font-weight:bold" text-anchor="end" fill="#1c1c1c" stroke="#1c1c1c" stroke-width="0.32" >1.2</text>
<text x="26.6" y="163.47" style="font-family:'Liberation Sans',sans-serif;font-size:6.0px;font-weight:bold" text-anchor="end" fill="#1c1c1c" stroke="#1c1c1c" stroke-width="0.32" >1.4</text>
<text x="26.6" y="152.3" style="font-family:'Liberation Sans',sans-serif;font-size:6.0px;font-weight:bold" text-anchor="end" fill="#1c1c1c" stroke="#1c1c1c" stroke-width="0.32" >1.6</text>
<text x="34.17" y="235.2" style="font-family:'Liberation Sans',sans-serif;font-size:6.0px;font-weight:bold" text-anchor="middle" fill="#1c1c1c" stroke="#1c1c1c" stroke-width="0.32" >-20</text>
<text x="57.02" y="235.2" style="font-family:'Liberation Sans',sans-serif;font-size:6.0px;font-weight:bold" text-anchor="middle" fill="#1c1c1c" stroke="#1c1c1c" stroke-width="0.32" >-10</text>
<text x="79.87" y="235.2" style="font-family:'Liberation Sans',sans-serif;font-size:6.0px;font-weight:bold" text-anchor="middle" fill="#1c1c1c" stroke="#1c1c1c" stroke-width="0.32" >0</text>
<text x="102.72" y="235.2" style="font-family:'Liberation Sans',sans-serif;font-size:6.0px;font-weight:bold" text-anchor="middle" fill="#1c1c1c" stroke="#1c1c1c" stroke-width="0.32" >10</text>
<text x="125.57" y="235.2" style="font-family:'Liberation Sans',sans-serif;font-size:6.0px;font-weight:bold" text-anchor="middle" fill="#1c1c1c" stroke="#1c1c1c" stroke-width="0.32" >20</text>
<path d="M27.6,227.8H29.6M28.4,222.21H29.6M27.6,216.63H29.6M28.4,211.04H29.6M27.6,205.46H29.6M28.4,199.87H29.6M27.6,194.29H29.6M28.4,188.7H29.6M27.6,183.11H29.6M28.4,177.53H29.6M27.6,171.94H29.6M28.4,166.36H29.6M27.6,160.77H29.6M28.4,155.19H29.6M27.6,149.6H29.6M34.17,227.8V229.8M45.6,227.8V229M57.02,227.8V229.8M68.45,227.8V229M79.87,227.8V229.8M91.3,227.8V229M102.72,227.8V229.8M114.15,227.8V229M125.57,227.8V229.8" stroke="#6e6e6e" stroke-width="0.7" fill="none"/>
<text transform="translate(15.7,188.5) rotate(-90)" style="font-family:'Liberation Sans',sans-serif;font-size:6.4px;font-weight:bold" text-anchor="middle" fill="#1c1c1c" stroke="#1c1c1c" stroke-width="0.32">PAZ Scan</text>
<text x="79" y="243.8" style="font-family:'Liberation Sans',sans-serif;font-size:6.1px;font-weight:bold" text-anchor="middle" fill="#1c1c1c" stroke="#1c1c1c" stroke-width="0.32" >Z (mm)</text>
<text x="31.4" y="158.3" style="font-family:'Liberation Sans',sans-serif;font-size:6.3px;font-weight:bold" text-anchor="start" fill="#1c1c1c" stroke="#1c1c1c" stroke-width="0.32" >(c)</text>
<text x="127.2" y="160.4" style="font-family:'Liberation Sans',sans-serif;font-size:6.5px;font-weight:bold" text-anchor="end" fill="#1c1c1c" stroke="#1c1c1c" stroke-width="0.32">0.12 GW/cm<tspan style="font-size:3.90px" dy="-2.2">2</tspan></text>
<g fill="#1616ee"><circle cx="167.69" cy="178.03" r="1.38"/><circle cx="169.05" cy="187.02" r="1.38"/><circle cx="170.18" cy="183.65" r="1.38"/><circle cx="171.31" cy="185.89" r="1.38"/><circle cx="172.44" cy="184.77" r="1.38"/><circle cx="173.8" cy="180.28" r="1.38"/><circle cx="175.39" cy="181.96" r="1.38"/><circle cx="176.74" cy="183.09" r="1.38"/><circle cx="178.1" cy="184.21" r="1.38"/><circle cx="179.46" cy="183.09" r="1.38"/><circle cx="180.82" cy="181.96" r="1.38"/><circle cx="181.5" cy="184.77" r="1.38"/><circle cx="182.18" cy="188.14" r="1.38"/><circle cx="183.53" cy="183.65" r="1.38"/><circle cx="184.89" cy="182.52" r="1.38"/><circle cx="185.35" cy="185.33" r="1.38"/><circle cx="186.48" cy="183.65" r="1.38"/><circle cx="187.38" cy="185.33" r="1.38"/><circle cx="189.42" cy="191.51" r="1.38"/><circle cx="190.55" cy="192.07" r="1.38"/><circle cx="191.91" cy="197.12" r="1.38"/><circle cx="193.95" cy="197.68" r="1.38"/><circle cx="193.95" cy="201.61" r="1.38"/><circle cx="194.62" cy="203.86" r="1.38"/><circle cx="195.3" cy="205.54" r="1.38"/><circle cx="196.66" cy="207.79" r="1.38"/><circle cx="197.34" cy="212.28" r="1.38"/><circle cx="198.7" cy="212.84" r="1.38"/><circle cx="199.38" cy="213.96" r="1.38"/><circle cx="200.74" cy="215.09" r="1.38"/><circle cx="199.38" cy="217.33" r="1.38"/><circle cx="201.42" cy="213.12" r="1.38"/><circle cx="202.77" cy="204.42" r="1.38"/><circle cx="203.68" cy="204.42" r="1.38"/><circle cx="204.13" cy="198.24" r="1.38"/><circle cx="204.81" cy="191.51" r="1.38"/><circle cx="206.17" cy="185.33" r="1.38"/><circle cx="207.07" cy="185.33" r="1.38"/><circle cx="207.75" cy="178.59" r="1.38"/><circle cx="208.32" cy="167.93" r="1.38"/><circle cx="209.79" cy="188.7" r="1.38"/><circle cx="210.47" cy="198.24" r="1.38"/><circle cx="211.15" cy="211.72" r="1.38"/><circle cx="211.83" cy="219.02" r="1.38"/><circle cx="213.86" cy="217.33" r="1.38"/><circle cx="215.9" cy="211.16" r="1.38"/><circle cx="217.03" cy="204.42" r="1.38"/><circle cx="219.07" cy="203.86" r="1.38"/><circle cx="221.11" cy="203.86" r="1.38"/><circle cx="222.46" cy="204.42" r="1.38"/><circle cx="219.75" cy="198.81" r="1.38"/><circle cx="221.79" cy="196.56" r="1.38"/><circle cx="223.82" cy="197.68" r="1.38"/><circle cx="223.14" cy="195.44" r="1.38"/><circle cx="225.18" cy="188.7" r="1.38"/><circle cx="226.99" cy="187.58" r="1.38"/><circle cx="226.31" cy="190.38" r="1.38"/><circle cx="229.25" cy="190.95" r="1.38"/><circle cx="228.58" cy="184.21" r="1.38"/><circle cx="230.39" cy="176.35" r="1.38"/><circle cx="231.74" cy="184.21" r="1.38"/><circle cx="233.1" cy="179.72" r="1.38"/><circle cx="234.46" cy="178.59" r="1.38"/><circle cx="235.14" cy="188.7" r="1.38"/><circle cx="236.5" cy="179.16" r="1.38"/><circle cx="237.86" cy="179.72" r="1.38"/><circle cx="239.21" cy="178.59" r="1.38"/><circle cx="238.53" cy="170.73" r="1.38"/><circle cx="239.89" cy="179.72" r="1.38"/><circle cx="242.61" cy="177.47" r="1.38"/><circle cx="241.93" cy="187.58" r="1.38"/><circle cx="243.51" cy="182.52" r="1.38"/><circle cx="244.87" cy="186.45" r="1.38"/><circle cx="245.55" cy="189.82" r="1.38"/><circle cx="246.68" cy="183.09" r="1.38"/><circle cx="248.04" cy="183.65" r="1.38"/><circle cx="248.72" cy="184.77" r="1.38"/><circle cx="249.4" cy="183.09" r="1.38"/><circle cx="250.08" cy="190.95" r="1.38"/><circle cx="250.76" cy="188.7" r="1.38"/></g>
<polyline points="166.79,178.15 167,178.19 167.21,178.23 167.42,178.28 167.63,178.32 167.84,178.37 168.05,178.41 168.27,178.46 168.48,178.51 168.69,178.56 168.9,178.61 169.11,178.66 169.32,178.71 169.54,178.76 169.75,178.81 169.96,178.86 170.17,178.92 170.38,178.97 170.59,179.02 170.81,179.08 171.02,179.14 171.23,179.19 171.44,179.25 171.65,179.31 171.86,179.37 172.08,179.43 172.29,179.49 172.5,179.56 172.71,179.62 172.92,179.69 173.13,179.75 173.34,179.82 173.56,179.89 173.77,179.95 173.98,180.02 174.19,180.09 174.4,180.17 174.61,180.24 174.83,180.31 175.04,180.39 175.25,180.47 175.46,180.54 175.67,180.62 175.88,180.7 176.1,180.78 176.31,180.87 176.52,180.95 176.73,181.04 176.94,181.12 177.15,181.21 177.36,181.3 177.58,181.39 177.79,181.49 178,181.58 178.21,181.68 178.42,181.77 178.63,181.87 178.85,181.97 179.06,182.08 179.27,182.18 179.48,182.29 179.69,182.39 179.9,182.5 180.12,182.61 180.33,182.73 180.54,182.84 180.75,182.96 180.96,183.08 181.17,183.2 181.39,183.33 181.6,183.45 181.81,183.58 182.02,183.71 182.23,183.84 182.44,183.98 182.65,184.11 182.87,184.25 183.08,184.4 183.29,184.54 183.5,184.69 183.71,184.84 183.92,184.99 184.14,185.15 184.35,185.31 184.56,185.47 184.77,185.63 184.98,185.8 185.19,185.97 185.41,186.14 185.62,186.32 185.83,186.5 186.04,186.68 186.25,186.87 186.46,187.06 186.67,187.25 186.89,187.45 187.1,187.65 187.31,187.86 187.52,188.06 187.73,188.28 187.94,188.49 188.16,188.71 188.37,188.94 188.58,189.17 188.79,189.4 189,189.64 189.21,189.88 189.43,190.12 189.64,190.37 189.85,190.63 190.06,190.89 190.27,191.15 190.48,191.42 190.69,191.69 190.91,191.97 191.12,192.26 191.33,192.55 191.54,192.84 191.75,193.14 191.96,193.44 192.18,193.75 192.39,194.07 192.6,194.39 192.81,194.72 193.02,195.05 193.23,195.38 193.45,195.73 193.66,196.08 193.87,196.43 194.08,196.79 194.29,197.15 194.5,197.52 194.72,197.9 194.93,198.28 195.14,198.67 195.35,199.06 195.56,199.46 195.77,199.86 195.98,200.27 196.2,200.69 196.41,201.1 196.62,201.53 196.83,201.96 197.04,202.39 197.25,202.82 197.47,203.27 197.68,203.71 197.89,204.16 198.1,204.61 198.31,205.07 198.52,205.52 198.74,205.98 198.95,206.44 199.16,206.91 199.37,207.37 199.58,207.83 199.79,208.29 200,208.75 200.22,209.2 200.43,209.65 200.64,210.08 200.85,210.51 201.06,210.91 201.27,211.29 201.49,211.64 201.7,211.94 201.91,212.19 202.12,212.37 202.33,212.47 202.54,212.47 202.76,212.34 202.97,212.06 203.18,211.62 203.39,210.98 203.6,210.11 203.81,209.01 204.03,207.65 204.24,206.02 204.45,204.12 204.66,201.95 204.87,199.53 205.08,196.89 205.29,194.07 205.51,191.14 205.72,188.14 205.93,185.18 206.14,182.31 206.35,179.64 206.56,177.25 206.78,175.22 206.99,173.63 207.2,172.52 207.41,171.94 207.62,171.91 207.83,172.44 208.05,173.5 208.26,175.06 208.47,177.05 208.68,179.41 208.89,182.05 209.1,184.9 209.31,187.86 209.53,190.86 209.74,193.8 209.95,196.63 210.16,199.29 210.37,201.73 210.58,203.92 210.8,205.85 211.01,207.51 211.22,208.89 211.43,210.02 211.64,210.9 211.85,211.57 212.07,212.03 212.28,212.32 212.49,212.46 212.7,212.48 212.91,212.39 213.12,212.21 213.34,211.97 213.55,211.67 213.76,211.32 213.97,210.95 214.18,210.55 214.39,210.12 214.6,209.69 214.82,209.24 215.03,208.79 215.24,208.33 215.45,207.87 215.66,207.41 215.87,206.95 216.09,206.49 216.3,206.03 216.51,205.57 216.72,205.11 216.93,204.65 217.14,204.2 217.36,203.75 217.57,203.31 217.78,202.87 217.99,202.43 218.2,202 218.41,201.57 218.62,201.14 218.84,200.72 219.05,200.31 219.26,199.9 219.47,199.5 219.68,199.1 219.89,198.71 220.11,198.32 220.32,197.94 220.53,197.56 220.74,197.19 220.95,196.82 221.16,196.46 221.38,196.11 221.59,195.76 221.8,195.42 222.01,195.08 222.22,194.75 222.43,194.42 222.65,194.1 222.86,193.78 223.07,193.47 223.28,193.17 223.49,192.87 223.7,192.57 223.91,192.28 224.13,192 224.34,191.72 224.55,191.45 224.76,191.18 224.97,190.91 225.18,190.65 225.4,190.4 225.61,190.15 225.82,189.9 226.03,189.66 226.24,189.42 226.45,189.19 226.67,188.96 226.88,188.73 227.09,188.51 227.3,188.3 227.51,188.08 227.72,187.88 227.93,187.67 228.15,187.47 228.36,187.27 228.57,187.08 228.78,186.89 228.99,186.7 229.2,186.52 229.42,186.34 229.63,186.16 229.84,185.99 230.05,185.81 230.26,185.65 230.47,185.48 230.69,185.32 230.9,185.16 231.11,185.01 231.32,184.85 231.53,184.7 231.74,184.56 231.96,184.41 232.17,184.27 232.38,184.13 232.59,183.99 232.8,183.85 233.01,183.72 233.22,183.59 233.44,183.46 233.65,183.34 233.86,183.21 234.07,183.09 234.28,182.97 234.49,182.85 234.71,182.74 234.92,182.63 235.13,182.51 235.34,182.4 235.55,182.3 235.76,182.19 235.98,182.09 236.19,181.98 236.4,181.88 236.61,181.78 236.82,181.68 237.03,181.59 237.24,181.49 237.46,181.4 237.67,181.31 237.88,181.22 238.09,181.13 238.3,181.04 238.51,180.96 238.73,180.87 238.94,180.79 239.15,180.71 239.36,180.63 239.57,180.55 239.78,180.47 240,180.4 240.21,180.32 240.42,180.25 240.63,180.17 240.84,180.1 241.05,180.03 241.27,179.96 241.48,179.89 241.69,179.82 241.9,179.76 242.11,179.69 242.32,179.63 242.53,179.56 242.75,179.5 242.96,179.44 243.17,179.38 243.38,179.32 243.59,179.26 243.8,179.2 244.02,179.14 244.23,179.09 244.44,179.03 244.65,178.97 244.86,178.92 245.07,178.87 245.29,178.81 245.5,178.76 245.71,178.71 245.92,178.66 246.13,178.61 246.34,178.56 246.55,178.51 246.77,178.47 246.98,178.42 247.19,178.37 247.4,178.33 247.61,178.28 247.82,178.24 248.04,178.19 248.25,178.15 248.46,178.11 248.67,178.06 248.88,178.02 249.09,177.98 249.31,177.94 249.52,177.9 249.73,177.86 249.94,177.82 250.15,177.78 250.36,177.75 250.58,177.71 250.79,177.67 251,177.63 251.21,177.6" fill="none" stroke="#ff3838" stroke-width="1.0" stroke-linejoin="round" stroke-linecap="round" />
<rect x="156.6" y="149.4" width="101.4" height="78.6" fill="none" stroke="#6e6e6e" stroke-width="0.9"/>
<text x="153.6" y="230.7" style="font-family:'Liberation Sans',sans-serif;font-size:6.0px;font-weight:bold" text-anchor="end" fill="#1c1c1c" stroke="#1c1c1c" stroke-width="0.32" >0.2</text>
<text x="153.6" y="219.47" style="font-family:'Liberation Sans',sans-serif;font-size:6.0px;font-weight:bold" text-anchor="end" fill="#1c1c1c" stroke="#1c1c1c" stroke-width="0.32" >0.4</text>
<text x="153.6" y="208.24" style="font-family:'Liberation Sans',sans-serif;font-size:6.0px;font-weight:bold" text-anchor="end" fill="#1c1c1c" stroke="#1c1c1c" stroke-width="0.32" >0.6</text>
<text x="153.6" y="197.01" style="font-family:'Liberation Sans',sans-serif;font-size:6.0px;font-weight:bold" text-anchor="end" fill="#1c1c1c" stroke="#1c1c1c" stroke-width="0.32" >0.8</text>
<text x="153.6" y="185.79" style="font-family:'Liberation Sans',sans-serif;font-size:6.0px;font-weight:bold" text-anchor="end" fill="#1c1c1c" stroke="#1c1c1c" stroke-width="0.32" >1.0</text>
<text x="153.6" y="174.56" style="font-family:'Liberation Sans',sans-serif;font-size:6.0px;font-weight:bold" text-anchor="end" fill="#1c1c1c" stroke="#1c1c1c" stroke-width="0.32" >1.2</text>
<text x="153.6" y="163.33" style="font-family:'Liberation Sans',sans-serif;font-size:6.0px;font-weight:bold" text-anchor="end" fill="#1c1c1c" stroke="#1c1c1c" stroke-width="0.32" >1.4</text>
<text x="153.6" y="152.1" style="font-family:'Liberation Sans',sans-serif;font-size:6.0px;font-weight:bold" text-anchor="end" fill="#1c1c1c" stroke="#1c1c1c" stroke-width="0.32" >1.6</text>
<text x="162.26" y="235.4" style="font-family:'Liberation Sans',sans-serif;font-size:6.0px;font-weight:bold" text-anchor="middle" fill="#1c1c1c" stroke="#1c1c1c" stroke-width="0.32" >-20</text>
<text x="184.89" y="235.4" style="font-family:'Liberation Sans',sans-serif;font-size:6.0px;font-weight:bold" text-anchor="middle" fill="#1c1c1c" stroke="#1c1c1c" stroke-width="0.32" >-10</text>
<text x="207.53" y="235.4" style="font-family:'Liberation Sans',sans-serif;font-size:6.0px;font-weight:bold" text-anchor="middle" fill="#1c1c1c" stroke="#1c1c1c" stroke-width="0.32" >0</text>
<text x="230.16" y="235.4" style="font-family:'Liberation Sans',sans-serif;font-size:6.0px;font-weight:bold" text-anchor="middle" fill="#1c1c1c" stroke="#1c1c1c" stroke-width="0.32" >10</text>
<text x="252.79" y="235.4" style="font-family:'Liberation Sans',sans-serif;font-size:6.0px;font-weight:bold" text-anchor="middle" fill="#1c1c1c" stroke="#1c1c1c" stroke-width="0.32" >20</text>
<path d="M154.6,228H156.6M155.4,222.39H156.6M154.6,216.77H156.6M155.4,211.16H156.6M154.6,205.54H156.6M155.4,199.93H156.6M154.6,194.31H156.6M155.4,188.7H156.6M154.6,183.09H156.6M155.4,177.47H156.6M154.6,171.86H156.6M155.4,166.24H156.6M154.6,160.63H156.6M155.4,155.01H156.6M154.6,149.4H156.6M162.26,228V230M173.58,228V229.2M184.89,228V230M196.21,228V229.2M207.53,228V230M218.84,228V229.2M230.16,228V230M241.48,228V229.2M252.79,228V230" stroke="#6e6e6e" stroke-width="0.7" fill="none"/>
<text transform="translate(144.7,188.5) rotate(-90)" style="font-family:'Liberation Sans',sans-serif;font-size:6.4px;font-weight:bold" text-anchor="middle" fill="#1c1c1c" stroke="#1c1c1c" stroke-width="0.32">PAZ Scan</text>
<text x="207" y="243.8" style="font-family:'Liberation Sans',sans-serif;font-size:6.1px;font-weight:bold" text-anchor="middle" fill="#1c1c1c" stroke="#1c1c1c" stroke-width="0.32" >Z (mm)</text>
<text x="160" y="157.3" style="font-family:'Liberation Sans',sans-serif;font-size:6.3px;font-weight:bold" text-anchor="start" fill="#1c1c1c" stroke="#1c1c1c" stroke-width="0.32" >(d)</text>
<text x="256.8" y="158.4" style="font-family:'Liberation Sans',sans-serif;font-size:6.5px;font-weight:bold" text-anchor="end" fill="#1c1c1c" stroke="#1c1c1c" stroke-width="0.32">0.24 GW/cm<tspan style="font-size:3.90px" dy="-2.2">2</tspan></text>
<g fill="#138b2f"><circle cx="307.62" cy="118.85" r="1.38"/><circle cx="309.65" cy="111.67" r="1.38"/><circle cx="311.93" cy="113.63" r="1.38"/><circle cx="314.46" cy="112.97" r="1.38"/><circle cx="313.7" cy="108.4" r="1.38"/><circle cx="315.21" cy="107.75" r="1.38"/><circle cx="317.24" cy="106.83" r="1.38"/><circle cx="319.01" cy="106.05" r="1.38"/><circle cx="320.02" cy="101.87" r="1.38"/><circle cx="321.79" cy="103.17" r="1.38"/><circle cx="322.8" cy="103.43" r="1.38"/><circle cx="324.83" cy="102.13" r="1.38"/><circle cx="327.86" cy="100.56" r="1.38"/><circle cx="328.37" cy="103.96" r="1.38"/><circle cx="328.88" cy="103.17" r="1.38"/><circle cx="325.84" cy="96.64" r="1.38"/><circle cx="327.36" cy="95.99" r="1.38"/><circle cx="331.15" cy="95.33" r="1.38"/><circle cx="329.63" cy="88.8" r="1.38"/><circle cx="331.91" cy="88.15" r="1.38"/><circle cx="333.94" cy="87.49" r="1.38"/><circle cx="333.18" cy="84.88" r="1.38"/><circle cx="335.2" cy="84.23" r="1.38"/><circle cx="337.23" cy="83.57" r="1.38"/><circle cx="339.5" cy="82.92" r="1.38"/><circle cx="336.72" cy="79" r="1.38"/><circle cx="338.74" cy="78.35" r="1.38"/><circle cx="340.77" cy="77.69" r="1.38"/><circle cx="342.79" cy="79" r="1.38"/><circle cx="344.31" cy="71.29" r="1.38"/><circle cx="345.57" cy="66.59" r="1.38"/><circle cx="347.35" cy="62.67" r="1.38"/><circle cx="348.61" cy="63.32" r="1.38"/><circle cx="346.59" cy="68.55" r="1.38"/><circle cx="350.38" cy="68.55" r="1.38"/><circle cx="351.9" cy="74.43" r="1.38"/><circle cx="352.66" cy="83.57" r="1.38"/><circle cx="353.16" cy="102.52" r="1.38"/><circle cx="354.68" cy="110.23" r="1.38"/><circle cx="356.2" cy="114.41" r="1.38"/><circle cx="355.44" cy="111.67" r="1.38"/><circle cx="357.59" cy="102.52" r="1.38"/><circle cx="358.98" cy="101.21" r="1.38"/><circle cx="359.74" cy="88.8" r="1.38"/><circle cx="361.01" cy="77.69" r="1.38"/><circle cx="363.79" cy="77.69" r="1.38"/><circle cx="363.03" cy="69.85" r="1.38"/><circle cx="365.81" cy="74.43" r="1.38"/><circle cx="366.57" cy="79.65" r="1.38"/><circle cx="367.84" cy="80.31" r="1.38"/><circle cx="369.36" cy="80.96" r="1.38"/><circle cx="370.12" cy="84.23" r="1.38"/><circle cx="370.62" cy="84.88" r="1.38"/><circle cx="372.9" cy="90.11" r="1.38"/><circle cx="374.16" cy="93.37" r="1.38"/><circle cx="371.89" cy="99.25" r="1.38"/><circle cx="374.92" cy="97.95" r="1.38"/><circle cx="376.44" cy="99.91" r="1.38"/><circle cx="378.46" cy="100.56" r="1.38"/><circle cx="379.73" cy="99.25" r="1.38"/><circle cx="380.99" cy="99.91" r="1.38"/><circle cx="383.02" cy="94.68" r="1.38"/><circle cx="385.04" cy="101.87" r="1.38"/><circle cx="386.56" cy="103.17" r="1.38"/><circle cx="388.08" cy="105.13" r="1.38"/><circle cx="389.85" cy="105.79" r="1.38"/><circle cx="392.13" cy="107.09" r="1.38"/><circle cx="393.64" cy="106.44" r="1.38"/><circle cx="395.42" cy="105.79" r="1.38"/><circle cx="396.93" cy="103.17" r="1.38"/><circle cx="395.67" cy="101.21" r="1.38"/></g>
<polyline points="305.6,107.25 305.85,107.19 306.11,107.12 306.36,107.05 306.61,106.99 306.87,106.92 307.12,106.85 307.38,106.77 307.63,106.7 307.88,106.63 308.14,106.56 308.39,106.48 308.64,106.41 308.9,106.33 309.15,106.25 309.4,106.17 309.66,106.09 309.91,106.01 310.17,105.93 310.42,105.85 310.67,105.76 310.93,105.68 311.18,105.59 311.43,105.51 311.69,105.42 311.94,105.33 312.19,105.24 312.45,105.15 312.7,105.05 312.96,104.96 313.21,104.87 313.46,104.77 313.72,104.67 313.97,104.57 314.22,104.47 314.48,104.37 314.73,104.27 314.98,104.16 315.24,104.06 315.49,103.95 315.75,103.84 316,103.73 316.25,103.62 316.51,103.5 316.76,103.39 317.01,103.27 317.27,103.15 317.52,103.04 317.77,102.91 318.03,102.79 318.28,102.67 318.54,102.54 318.79,102.41 319.04,102.28 319.3,102.15 319.55,102.02 319.8,101.88 320.06,101.74 320.31,101.6 320.56,101.46 320.82,101.32 321.07,101.17 321.33,101.03 321.58,100.88 321.83,100.72 322.09,100.57 322.34,100.41 322.59,100.26 322.85,100.1 323.1,99.93 323.35,99.77 323.61,99.6 323.86,99.43 324.12,99.26 324.37,99.08 324.62,98.91 324.88,98.73 325.13,98.54 325.38,98.36 325.64,98.17 325.89,97.98 326.14,97.79 326.4,97.59 326.65,97.39 326.91,97.19 327.16,96.99 327.41,96.78 327.67,96.57 327.92,96.36 328.17,96.14 328.43,95.92 328.68,95.7 328.93,95.47 329.19,95.24 329.44,95.01 329.7,94.78 329.95,94.54 330.2,94.3 330.46,94.05 330.71,93.8 330.96,93.55 331.22,93.29 331.47,93.04 331.72,92.77 331.98,92.51 332.23,92.24 332.49,91.96 332.74,91.69 332.99,91.4 333.25,91.12 333.5,90.83 333.75,90.54 334.01,90.24 334.26,89.94 334.51,89.64 334.77,89.33 335.02,89.02 335.28,88.71 335.53,88.39 335.78,88.07 336.04,87.74 336.29,87.41 336.54,87.08 336.8,86.74 337.05,86.4 337.3,86.05 337.56,85.7 337.81,85.35 338.07,85 338.32,84.64 338.57,84.27 338.83,83.91 339.08,83.54 339.33,83.16 339.59,82.79 339.84,82.41 340.09,82.03 340.35,81.64 340.6,81.25 340.86,80.86 341.11,80.47 341.36,80.07 341.62,79.68 341.87,79.28 342.12,78.88 342.38,78.47 342.63,78.07 342.88,77.67 343.14,77.26 343.39,76.86 343.65,76.46 343.9,76.05 344.15,75.66 344.41,75.26 344.66,74.87 344.91,74.49 345.17,74.12 345.42,73.75 345.67,73.41 345.93,73.07 346.18,72.76 346.44,72.47 346.69,72.21 346.94,71.99 347.2,71.81 347.45,71.67 347.7,71.59 347.96,71.57 348.21,71.62 348.46,71.76 348.72,71.98 348.97,72.31 349.23,72.74 349.48,73.29 349.73,73.98 349.99,74.79 350.24,75.75 350.49,76.86 350.75,78.12 351,79.52 351.25,81.08 351.51,82.78 351.76,84.61 352.02,86.56 352.27,88.62 352.52,90.77 352.78,92.97 353.03,95.22 353.28,97.47 353.54,99.69 353.79,101.86 354.04,103.94 354.3,105.89 354.55,107.69 354.81,109.29 355.06,110.68 355.31,111.82 355.57,112.7 355.82,113.29 356.07,113.59 356.33,113.59 356.58,113.29 356.83,112.7 357.09,111.82 357.34,110.68 357.59,109.29 357.85,107.69 358.1,105.89 358.36,103.94 358.61,101.86 358.86,99.69 359.12,97.47 359.37,95.22 359.62,92.97 359.88,90.77 360.13,88.62 360.38,86.56 360.64,84.61 360.89,82.78 361.15,81.08 361.4,79.52 361.65,78.12 361.91,76.86 362.16,75.75 362.41,74.79 362.67,73.98 362.92,73.29 363.17,72.74 363.43,72.31 363.68,71.98 363.94,71.76 364.19,71.62 364.44,71.57 364.7,71.59 364.95,71.67 365.2,71.81 365.46,71.99 365.71,72.21 365.96,72.47 366.22,72.76 366.47,73.07 366.73,73.41 366.98,73.75 367.23,74.12 367.49,74.49 367.74,74.87 367.99,75.26 368.25,75.66 368.5,76.05 368.75,76.46 369.01,76.86 369.26,77.26 369.52,77.67 369.77,78.07 370.02,78.47 370.28,78.88 370.53,79.28 370.78,79.68 371.04,80.07 371.29,80.47 371.54,80.86 371.8,81.25 372.05,81.64 372.31,82.03 372.56,82.41 372.81,82.79 373.07,83.16 373.32,83.54 373.57,83.91 373.83,84.27 374.08,84.64 374.33,85 374.59,85.35 374.84,85.7 375.1,86.05 375.35,86.4 375.6,86.74 375.86,87.08 376.11,87.41 376.36,87.74 376.62,88.07 376.87,88.39 377.12,88.71 377.38,89.02 377.63,89.33 377.89,89.64 378.14,89.94 378.39,90.24 378.65,90.54 378.9,90.83 379.15,91.12 379.41,91.4 379.66,91.69 379.91,91.96 380.17,92.24 380.42,92.51 380.68,92.77 380.93,93.04 381.18,93.29 381.44,93.55 381.69,93.8 381.94,94.05 382.2,94.3 382.45,94.54 382.7,94.78 382.96,95.01 383.21,95.24 383.47,95.47 383.72,95.7 383.97,95.92 384.23,96.14 384.48,96.36 384.73,96.57 384.99,96.78 385.24,96.99 385.49,97.19 385.75,97.39 386,97.59 386.26,97.79 386.51,97.98 386.76,98.17 387.02,98.36 387.27,98.54 387.52,98.73 387.78,98.91 388.03,99.08 388.28,99.26 388.54,99.43 388.79,99.6 389.05,99.77 389.3,99.93 389.55,100.1 389.81,100.26 390.06,100.41 390.31,100.57 390.57,100.72 390.82,100.88 391.07,101.03 391.33,101.17 391.58,101.32 391.84,101.46 392.09,101.6 392.34,101.74 392.6,101.88 392.85,102.02 393.1,102.15 393.36,102.28 393.61,102.41 393.86,102.54 394.12,102.67 394.37,102.79 394.63,102.91 394.88,103.04 395.13,103.15 395.39,103.27 395.64,103.39 395.89,103.5 396.15,103.62 396.4,103.73 396.65,103.84 396.91,103.95 397.16,104.06 397.42,104.16 397.67,104.27 397.92,104.37 398.18,104.47 398.43,104.57 398.68,104.67 398.94,104.77 399.19,104.87 399.44,104.96 399.7,105.05 399.95,105.15 400.21,105.24 400.46,105.33 400.71,105.42 400.97,105.51 401.22,105.59 401.47,105.68 401.73,105.76 401.98,105.85 402.23,105.93 402.49,106.01 402.74,106.09 403,106.17 403.25,106.25 403.5,106.33 403.76,106.41 404.01,106.48 404.26,106.56 404.52,106.63 404.77,106.7 405.02,106.77 405.28,106.85 405.53,106.92 405.79,106.99 406.04,107.05 406.29,107.12 406.55,107.19 406.8,107.25" fill="none" stroke="#ff3838" stroke-width="1.0" stroke-linejoin="round" stroke-linecap="round" />
<rect x="305.6" y="49.6" width="101.2" height="78.4" fill="none" stroke="#6e6e6e" stroke-width="0.9"/>
<text x="302.6" y="130.7" style="font-family:'Liberation Sans',sans-serif;font-size:6.3px;font-weight:bold" text-anchor="end" fill="#1c1c1c" stroke="#1c1c1c" stroke-width="0.32" >0.9</text>
<text x="302.6" y="117.63" style="font-family:'Liberation Sans',sans-serif;font-size:6.3px;font-weight:bold" text-anchor="end" fill="#1c1c1c" stroke="#1c1c1c" stroke-width="0.32" >1.0</text>
<text x="302.6" y="104.57" style="font-family:'Liberation Sans',sans-serif;font-size:6.3px;font-weight:bold" text-anchor="end" fill="#1c1c1c" stroke="#1c1c1c" stroke-width="0.32" >1.1</text>
<text x="302.6" y="91.5" style="font-family:'Liberation Sans',sans-serif;font-size:6.3px;font-weight:bold" text-anchor="end" fill="#1c1c1c" stroke="#1c1c1c" stroke-width="0.32" >1.2</text>
<text x="302.6" y="78.43" style="font-family:'Liberation Sans',sans-serif;font-size:6.3px;font-weight:bold" text-anchor="end" fill="#1c1c1c" stroke="#1c1c1c" stroke-width="0.32" >1.3</text>
<text x="302.6" y="65.37" style="font-family:'Liberation Sans',sans-serif;font-size:6.3px;font-weight:bold" text-anchor="end" fill="#1c1c1c" stroke="#1c1c1c" stroke-width="0.32" >1.4</text>
<text x="302.6" y="52.3" style="font-family:'Liberation Sans',sans-serif;font-size:6.3px;font-weight:bold" text-anchor="end" fill="#1c1c1c" stroke="#1c1c1c" stroke-width="0.32" >1.5</text>
<text x="305.6" y="135.4" style="font-family:'Liberation Sans',sans-serif;font-size:6.3px;font-weight:bold" text-anchor="middle" fill="#1c1c1c" stroke="#1c1c1c" stroke-width="0.32" >-20</text>
<text x="330.9" y="135.4" style="font-family:'Liberation Sans',sans-serif;font-size:6.3px;font-weight:bold" text-anchor="middle" fill="#1c1c1c" stroke="#1c1c1c" stroke-width="0.32" >-10</text>
<text x="356.2" y="135.4" style="font-family:'Liberation Sans',sans-serif;font-size:6.3px;font-weight:bold" text-anchor="middle" fill="#1c1c1c" stroke="#1c1c1c" stroke-width="0.32" >0</text>
<text x="381.5" y="135.4" style="font-family:'Liberation Sans',sans-serif;font-size:6.3px;font-weight:bold" text-anchor="middle" fill="#1c1c1c" stroke="#1c1c1c" stroke-width="0.32" >10</text>
<text x="406.8" y="135.4" style="font-family:'Liberation Sans',sans-serif;font-size:6.3px;font-weight:bold" text-anchor="middle" fill="#1c1c1c" stroke="#1c1c1c" stroke-width="0.32" >20</text>
<path d="M303.6,128H305.6M304.4,121.47H305.6M303.6,114.93H305.6M304.4,108.4H305.6M303.6,101.87H305.6M304.4,95.33H305.6M303.6,88.8H305.6M304.4,82.27H305.6M303.6,75.73H305.6M304.4,69.2H305.6M303.6,62.67H305.6M304.4,56.13H305.6M303.6,49.6H305.6M305.6,128V130M318.25,128V129.2M330.9,128V130M343.55,128V129.2M356.2,128V130M368.85,128V129.2M381.5,128V130M394.15,128V129.2M406.8,128V130" stroke="#6e6e6e" stroke-width="0.7" fill="none"/>
<text transform="translate(292.93,89) rotate(-90)" style="font-family:'Liberation Sans',sans-serif;font-size:6.2px;font-weight:bold" text-anchor="middle" fill="#1c1c1c" stroke="#1c1c1c" stroke-width="0.32">Normalized transmittance</text>
<text x="356" y="145.19" style="font-family:'Liberation Sans',sans-serif;font-size:7.2px;font-weight:bold" text-anchor="middle" fill="#1c1c1c" stroke="#1c1c1c" stroke-width="0.32" >Z (mm)</text>
<text x="308" y="59.3" style="font-family:'Liberation Sans',sans-serif;font-size:6.3px;font-weight:bold" text-anchor="start" fill="#1c1c1c" stroke="#1c1c1c" stroke-width="0.32" >(a)</text>
<text x="404" y="60" style="font-family:'Liberation Sans',sans-serif;font-size:6.5px;font-weight:bold" text-anchor="end" fill="#1c1c1c" stroke="#1c1c1c" stroke-width="0.32">0.14 GW/cm<tspan style="font-size:3.90px" dy="-2.2">2</tspan></text>
<g fill="#138b2f"><circle cx="437.64" cy="88.15" r="1.38"/><circle cx="436.88" cy="83.3" r="1.38"/><circle cx="438.4" cy="82.52" r="1.38"/><circle cx="439.66" cy="82.09" r="1.38"/><circle cx="441.17" cy="81.65" r="1.38"/><circle cx="442.43" cy="81.22" r="1.38"/><circle cx="443.94" cy="80.79" r="1.38"/><circle cx="445.2" cy="80.35" r="1.38"/><circle cx="445.96" cy="82.09" r="1.38"/><circle cx="446.46" cy="79.14" r="1.38"/><circle cx="448.73" cy="78.62" r="1.38"/><circle cx="449.99" cy="77.75" r="1.38"/><circle cx="451.25" cy="76.89" r="1.38"/><circle cx="452.76" cy="76.02" r="1.38"/><circle cx="451.25" cy="72.56" r="1.38"/><circle cx="452.76" cy="79.49" r="1.38"/><circle cx="454.78" cy="74.29" r="1.38"/><circle cx="456.04" cy="73.42" r="1.38"/><circle cx="457.55" cy="72.56" r="1.38"/><circle cx="458.81" cy="76.02" r="1.38"/><circle cx="460.32" cy="70.82" r="1.38"/><circle cx="459.56" cy="77.32" r="1.38"/><circle cx="461.58" cy="69.09" r="1.38"/><circle cx="462.84" cy="68.23" r="1.38"/><circle cx="464.35" cy="66.49" r="1.38"/><circle cx="465.86" cy="66.06" r="1.38"/><circle cx="467.12" cy="64.76" r="1.38"/><circle cx="468.64" cy="65.63" r="1.38"/><circle cx="469.39" cy="61.3" r="1.38"/><circle cx="470.65" cy="62.59" r="1.38"/><circle cx="472.16" cy="62.16" r="1.38"/><circle cx="473.42" cy="63.89" r="1.38"/><circle cx="474.18" cy="65.63" r="1.38"/><circle cx="476.2" cy="73.42" r="1.38"/><circle cx="477.46" cy="82.09" r="1.38"/><circle cx="478.21" cy="89.02" r="1.38"/><circle cx="479.22" cy="93.35" r="1.38"/><circle cx="479.72" cy="104.61" r="1.38"/><circle cx="480.98" cy="114.14" r="1.38"/><circle cx="481.74" cy="119.34" r="1.38"/><circle cx="483" cy="121.94" r="1.38"/><circle cx="483.76" cy="120.2" r="1.38"/><circle cx="485.52" cy="105.48" r="1.38"/><circle cx="485.27" cy="111.54" r="1.38"/><circle cx="486.78" cy="96.81" r="1.38"/><circle cx="488.29" cy="86.85" r="1.38"/><circle cx="489.05" cy="74.29" r="1.38"/><circle cx="489.55" cy="73.42" r="1.38"/><circle cx="492.32" cy="66.49" r="1.38"/><circle cx="493.58" cy="67.36" r="1.38"/><circle cx="495.1" cy="66.49" r="1.38"/><circle cx="496.36" cy="65.63" r="1.38"/><circle cx="497.62" cy="66.49" r="1.38"/><circle cx="498.88" cy="68.23" r="1.38"/><circle cx="495.85" cy="70.82" r="1.38"/><circle cx="500.64" cy="70.82" r="1.38"/><circle cx="501.9" cy="72.12" r="1.38"/><circle cx="503.41" cy="72.56" r="1.38"/><circle cx="504.67" cy="74.29" r="1.38"/><circle cx="506.18" cy="76.02" r="1.38"/><circle cx="507.7" cy="75.16" r="1.38"/><circle cx="508.96" cy="74.29" r="1.38"/><circle cx="510.47" cy="73.42" r="1.38"/><circle cx="511.73" cy="71.69" r="1.38"/><circle cx="513.24" cy="75.16" r="1.38"/><circle cx="514.5" cy="77.75" r="1.38"/><circle cx="516.01" cy="76.02" r="1.38"/><circle cx="517.27" cy="78.62" r="1.38"/><circle cx="518.78" cy="76.89" r="1.38"/><circle cx="520.04" cy="76.02" r="1.38"/><circle cx="521.3" cy="79.49" r="1.38"/><circle cx="522.82" cy="79.92" r="1.38"/><circle cx="524.08" cy="80.35" r="1.38"/><circle cx="525.59" cy="80.35" r="1.38"/></g>
<polyline points="432.6,79.66 432.85,79.62 433.11,79.58 433.36,79.54 433.61,79.5 433.86,79.45 434.12,79.41 434.37,79.37 434.62,79.32 434.87,79.28 435.13,79.23 435.38,79.19 435.63,79.14 435.88,79.1 436.14,79.05 436.39,79 436.64,78.95 436.89,78.91 437.15,78.86 437.4,78.81 437.65,78.76 437.91,78.71 438.16,78.66 438.41,78.6 438.66,78.55 438.92,78.5 439.17,78.44 439.42,78.39 439.67,78.33 439.93,78.28 440.18,78.22 440.43,78.17 440.68,78.11 440.94,78.05 441.19,77.99 441.44,77.93 441.69,77.87 441.95,77.81 442.2,77.75 442.45,77.69 442.71,77.62 442.96,77.56 443.21,77.49 443.46,77.43 443.72,77.36 443.97,77.29 444.22,77.23 444.47,77.16 444.73,77.09 444.98,77.02 445.23,76.95 445.48,76.87 445.74,76.8 445.99,76.73 446.24,76.65 446.49,76.58 446.75,76.5 447,76.42 447.25,76.34 447.51,76.27 447.76,76.19 448.01,76.1 448.26,76.02 448.52,75.94 448.77,75.86 449.02,75.77 449.27,75.68 449.53,75.6 449.78,75.51 450.03,75.42 450.28,75.33 450.54,75.24 450.79,75.15 451.04,75.05 451.29,74.96 451.55,74.86 451.8,74.77 452.05,74.67 452.31,74.57 452.56,74.47 452.81,74.37 453.06,74.27 453.32,74.16 453.57,74.06 453.82,73.95 454.07,73.85 454.33,73.74 454.58,73.63 454.83,73.52 455.08,73.4 455.34,73.29 455.59,73.18 455.84,73.06 456.09,72.95 456.35,72.83 456.6,72.71 456.85,72.59 457.11,72.47 457.36,72.34 457.61,72.22 457.86,72.09 458.12,71.97 458.37,71.84 458.62,71.71 458.87,71.58 459.13,71.45 459.38,71.31 459.63,71.18 459.88,71.04 460.14,70.91 460.39,70.77 460.64,70.63 460.89,70.49 461.15,70.35 461.4,70.2 461.65,70.06 461.91,69.91 462.16,69.77 462.41,69.62 462.66,69.47 462.92,69.32 463.17,69.17 463.42,69.02 463.67,68.87 463.93,68.72 464.18,68.57 464.43,68.41 464.68,68.26 464.94,68.11 465.19,67.95 465.44,67.8 465.69,67.65 465.95,67.49 466.2,67.34 466.45,67.19 466.71,67.05 466.96,66.9 467.21,66.76 467.46,66.62 467.72,66.49 467.97,66.37 468.22,66.25 468.47,66.13 468.73,66.03 468.98,65.94 469.23,65.86 469.48,65.8 469.74,65.75 469.99,65.73 470.24,65.72 470.49,65.74 470.75,65.79 471,65.86 471.25,65.97 471.51,66.12 471.76,66.32 472.01,66.55 472.26,66.84 472.52,67.18 472.77,67.58 473.02,68.04 473.27,68.57 473.53,69.17 473.78,69.85 474.03,70.61 474.28,71.45 474.54,72.37 474.79,73.39 475.04,74.49 475.29,75.69 475.55,76.97 475.8,78.35 476.05,79.82 476.31,81.38 476.56,83.03 476.81,84.75 477.06,86.55 477.32,88.41 477.57,90.34 477.82,92.31 478.07,94.33 478.33,96.37 478.58,98.43 478.83,100.49 479.08,102.54 479.34,104.56 479.59,106.54 479.84,108.47 480.09,110.32 480.35,112.08 480.6,113.74 480.85,115.28 481.11,116.68 481.36,117.95 481.61,119.05 481.86,119.99 482.12,120.75 482.37,121.33 482.62,121.72 482.87,121.91 483.13,121.91 483.38,121.72 483.63,121.33 483.88,120.75 484.14,119.99 484.39,119.05 484.64,117.95 484.89,116.68 485.15,115.28 485.4,113.74 485.65,112.08 485.91,110.32 486.16,108.47 486.41,106.54 486.66,104.56 486.92,102.54 487.17,100.49 487.42,98.43 487.67,96.37 487.93,94.33 488.18,92.31 488.43,90.34 488.68,88.41 488.94,86.55 489.19,84.75 489.44,83.03 489.69,81.38 489.95,79.82 490.2,78.35 490.45,76.97 490.71,75.69 490.96,74.49 491.21,73.39 491.46,72.37 491.72,71.45 491.97,70.61 492.22,69.85 492.47,69.17 492.73,68.57 492.98,68.04 493.23,67.58 493.48,67.18 493.74,66.84 493.99,66.55 494.24,66.32 494.49,66.12 494.75,65.97 495,65.86 495.25,65.79 495.51,65.74 495.76,65.72 496.01,65.73 496.26,65.75 496.52,65.8 496.77,65.86 497.02,65.94 497.27,66.03 497.53,66.13 497.78,66.25 498.03,66.37 498.28,66.49 498.54,66.62 498.79,66.76 499.04,66.9 499.29,67.05 499.55,67.19 499.8,67.34 500.05,67.49 500.31,67.65 500.56,67.8 500.81,67.95 501.06,68.11 501.32,68.26 501.57,68.41 501.82,68.57 502.07,68.72 502.33,68.87 502.58,69.02 502.83,69.17 503.08,69.32 503.34,69.47 503.59,69.62 503.84,69.77 504.09,69.91 504.35,70.06 504.6,70.2 504.85,70.35 505.11,70.49 505.36,70.63 505.61,70.77 505.86,70.91 506.12,71.04 506.37,71.18 506.62,71.31 506.87,71.45 507.13,71.58 507.38,71.71 507.63,71.84 507.88,71.97 508.14,72.09 508.39,72.22 508.64,72.34 508.89,72.47 509.15,72.59 509.4,72.71 509.65,72.83 509.91,72.95 510.16,73.06 510.41,73.18 510.66,73.29 510.92,73.4 511.17,73.52 511.42,73.63 511.67,73.74 511.93,73.85 512.18,73.95 512.43,74.06 512.68,74.16 512.94,74.27 513.19,74.37 513.44,74.47 513.69,74.57 513.95,74.67 514.2,74.77 514.45,74.86 514.71,74.96 514.96,75.05 515.21,75.15 515.46,75.24 515.72,75.33 515.97,75.42 516.22,75.51 516.47,75.6 516.73,75.68 516.98,75.77 517.23,75.86 517.48,75.94 517.74,76.02 517.99,76.1 518.24,76.19 518.49,76.27 518.75,76.34 519,76.42 519.25,76.5 519.51,76.58 519.76,76.65 520.01,76.73 520.26,76.8 520.52,76.87 520.77,76.95 521.02,77.02 521.27,77.09 521.53,77.16 521.78,77.23 522.03,77.29 522.28,77.36 522.54,77.43 522.79,77.49 523.04,77.56 523.29,77.62 523.55,77.69 523.8,77.75 524.05,77.81 524.31,77.87 524.56,77.93 524.81,77.99 525.06,78.05 525.32,78.11 525.57,78.17 525.82,78.22 526.07,78.28 526.33,78.33 526.58,78.39 526.83,78.44 527.08,78.5 527.34,78.55 527.59,78.6 527.84,78.66 528.09,78.71 528.35,78.76 528.6,78.81 528.85,78.86 529.11,78.91 529.36,78.95 529.61,79 529.86,79.05 530.12,79.1 530.37,79.14 530.62,79.19 530.87,79.23 531.13,79.28 531.38,79.32 531.63,79.37 531.88,79.41 532.14,79.45 532.39,79.5 532.64,79.54 532.89,79.58 533.15,79.62 533.4,79.66" fill="none" stroke="#ff3838" stroke-width="1.0" stroke-linejoin="round" stroke-linecap="round" />
<rect x="432.6" y="49.6" width="100.8" height="78.4" fill="none" stroke="#6e6e6e" stroke-width="0.9"/>
<text x="429.6" y="122.04" style="font-family:'Liberation Sans',sans-serif;font-size:6.3px;font-weight:bold" text-anchor="end" fill="#1c1c1c" stroke="#1c1c1c" stroke-width="0.32" >0.6</text>
<text x="429.6" y="104.71" style="font-family:'Liberation Sans',sans-serif;font-size:6.3px;font-weight:bold" text-anchor="end" fill="#1c1c1c" stroke="#1c1c1c" stroke-width="0.32" >0.8</text>
<text x="429.6" y="87.39" style="font-family:'Liberation Sans',sans-serif;font-size:6.3px;font-weight:bold" text-anchor="end" fill="#1c1c1c" stroke="#1c1c1c" stroke-width="0.32" >1.0</text>
<text x="429.6" y="70.06" style="font-family:'Liberation Sans',sans-serif;font-size:6.3px;font-weight:bold" text-anchor="end" fill="#1c1c1c" stroke="#1c1c1c" stroke-width="0.32" >1.2</text>
<text x="429.6" y="52.73" style="font-family:'Liberation Sans',sans-serif;font-size:6.3px;font-weight:bold" text-anchor="end" fill="#1c1c1c" stroke="#1c1c1c" stroke-width="0.32" >1.4</text>
<text x="432.6" y="135.4" style="font-family:'Liberation Sans',sans-serif;font-size:6.3px;font-weight:bold" text-anchor="middle" fill="#1c1c1c" stroke="#1c1c1c" stroke-width="0.32" >-20</text>
<text x="457.8" y="135.4" style="font-family:'Liberation Sans',sans-serif;font-size:6.3px;font-weight:bold" text-anchor="middle" fill="#1c1c1c" stroke="#1c1c1c" stroke-width="0.32" >-10</text>
<text x="483" y="135.4" style="font-family:'Liberation Sans',sans-serif;font-size:6.3px;font-weight:bold" text-anchor="middle" fill="#1c1c1c" stroke="#1c1c1c" stroke-width="0.32" >0</text>
<text x="508.2" y="135.4" style="font-family:'Liberation Sans',sans-serif;font-size:6.3px;font-weight:bold" text-anchor="middle" fill="#1c1c1c" stroke="#1c1c1c" stroke-width="0.32" >10</text>
<text x="533.4" y="135.4" style="font-family:'Liberation Sans',sans-serif;font-size:6.3px;font-weight:bold" text-anchor="middle" fill="#1c1c1c" stroke="#1c1c1c" stroke-width="0.32" >20</text>
<path d="M430.6,119.34H432.6M431.4,110.67H432.6M430.6,102.01H432.6M431.4,93.35H432.6M430.6,84.69H432.6M431.4,76.02H432.6M430.6,67.36H432.6M431.4,58.7H432.6M430.6,50.03H432.6M432.6,128V130M445.2,128V129.2M457.8,128V130M470.4,128V129.2M483,128V130M495.6,128V129.2M508.2,128V130M520.8,128V129.2M533.4,128V130" stroke="#6e6e6e" stroke-width="0.7" fill="none"/>
<text transform="translate(419.73,89.5) rotate(-90)" style="font-family:'Liberation Sans',sans-serif;font-size:6.2px;font-weight:bold" text-anchor="middle" fill="#1c1c1c" stroke="#1c1c1c" stroke-width="0.32">Normalized transmittance</text>
<text x="483" y="145.19" style="font-family:'Liberation Sans',sans-serif;font-size:7.2px;font-weight:bold" text-anchor="middle" fill="#1c1c1c" stroke="#1c1c1c" stroke-width="0.32" >Z (mm)</text>
<text x="436" y="59.3" style="font-family:'Liberation Sans',sans-serif;font-size:6.3px;font-weight:bold" text-anchor="start" fill="#1c1c1c" stroke="#1c1c1c" stroke-width="0.32" >(b)</text>
<text x="531" y="60" style="font-family:'Liberation Sans',sans-serif;font-size:6.5px;font-weight:bold" text-anchor="end" fill="#1c1c1c" stroke="#1c1c1c" stroke-width="0.32">0.31 GW/cm<tspan style="font-size:3.90px" dy="-2.2">2</tspan></text>
<g fill="#138b2f"><circle cx="307.38" cy="209.36" r="1.38"/><circle cx="309.93" cy="206.12" r="1.38"/><circle cx="311.71" cy="207.41" r="1.38"/><circle cx="313.49" cy="207.41" r="1.38"/><circle cx="314.25" cy="200.02" r="1.38"/><circle cx="316.03" cy="200.02" r="1.38"/><circle cx="317.82" cy="206.12" r="1.38"/><circle cx="318.58" cy="207.41" r="1.38"/><circle cx="321.38" cy="207.41" r="1.38"/><circle cx="322.91" cy="196.39" r="1.38"/><circle cx="324.69" cy="198.34" r="1.38"/><circle cx="325.96" cy="206.12" r="1.38"/><circle cx="326.98" cy="208.06" r="1.38"/><circle cx="327.74" cy="210" r="1.38"/><circle cx="328.5" cy="210.65" r="1.38"/><circle cx="330.8" cy="202.55" r="1.38"/><circle cx="331.3" cy="206.76" r="1.38"/><circle cx="333.09" cy="207.41" r="1.38"/><circle cx="335.12" cy="198.34" r="1.38"/><circle cx="336.14" cy="205.47" r="1.38"/><circle cx="337.16" cy="206.12" r="1.38"/><circle cx="338.18" cy="205.47" r="1.38"/><circle cx="336.65" cy="209.36" r="1.38"/><circle cx="338.94" cy="200.02" r="1.38"/><circle cx="339.96" cy="209.36" r="1.38"/><circle cx="342.5" cy="212.92" r="1.38"/><circle cx="343.52" cy="218.43" r="1.38"/><circle cx="344.28" cy="219.73" r="1.38"/><circle cx="345.3" cy="217.14" r="1.38"/><circle cx="346.57" cy="216.49" r="1.38"/><circle cx="347.85" cy="215.84" r="1.38"/><circle cx="349.12" cy="214.54" r="1.38"/><circle cx="347.85" cy="223.88" r="1.38"/><circle cx="350.39" cy="209.36" r="1.38"/><circle cx="350.9" cy="198.98" r="1.38"/><circle cx="352.17" cy="191.85" r="1.38"/><circle cx="353.45" cy="182.78" r="1.38"/><circle cx="354.59" cy="182.78" r="1.38"/><circle cx="355.23" cy="174.35" r="1.38"/><circle cx="356.5" cy="177.59" r="1.38"/><circle cx="357.26" cy="175.64" r="1.38"/><circle cx="358.79" cy="187.31" r="1.38"/><circle cx="359.55" cy="198.98" r="1.38"/><circle cx="358.03" cy="159.44" r="1.38"/><circle cx="360.32" cy="198.34" r="1.38"/><circle cx="363.37" cy="208.32" r="1.38"/><circle cx="364.9" cy="216.49" r="1.38"/><circle cx="365.92" cy="217.78" r="1.38"/><circle cx="366.68" cy="217.14" r="1.38"/><circle cx="367.19" cy="215.84" r="1.38"/><circle cx="364.9" cy="224.27" r="1.38"/><circle cx="367.95" cy="207.41" r="1.38"/><circle cx="369.48" cy="205.47" r="1.38"/><circle cx="371.01" cy="209.36" r="1.38"/><circle cx="372.53" cy="206.76" r="1.38"/><circle cx="374.06" cy="204.82" r="1.38"/><circle cx="375.59" cy="203.52" r="1.38"/><circle cx="376.35" cy="202.22" r="1.38"/><circle cx="377.88" cy="208.06" r="1.38"/><circle cx="378.64" cy="206.76" r="1.38"/><circle cx="380.17" cy="205.47" r="1.38"/><circle cx="381.7" cy="203.52" r="1.38"/><circle cx="383.22" cy="208.71" r="1.38"/><circle cx="384.75" cy="202.87" r="1.38"/><circle cx="385.51" cy="201.58" r="1.38"/><circle cx="387.04" cy="204.17" r="1.38"/><circle cx="388.57" cy="193.8" r="1.38"/><circle cx="390.09" cy="205.47" r="1.38"/><circle cx="392.13" cy="202.87" r="1.38"/><circle cx="393.66" cy="208.06" r="1.38"/><circle cx="395.95" cy="204.17" r="1.38"/><circle cx="394.67" cy="205.47" r="1.38"/><circle cx="397.73" cy="208.71" r="1.38"/></g>
<polyline points="305.6,202.72 305.84,202.73 306.07,202.74 306.31,202.75 306.54,202.76 306.78,202.77 307.02,202.78 307.25,202.79 307.49,202.8 307.72,202.82 307.96,202.83 308.2,202.84 308.43,202.85 308.67,202.86 308.9,202.87 309.14,202.89 309.38,202.9 309.61,202.91 309.85,202.92 310.08,202.94 310.32,202.95 310.56,202.96 310.79,202.98 311.03,202.99 311.26,203 311.5,203.02 311.74,203.03 311.97,203.05 312.21,203.06 312.44,203.07 312.68,203.09 312.92,203.1 313.15,203.12 313.39,203.14 313.62,203.15 313.86,203.17 314.1,203.18 314.33,203.2 314.57,203.22 314.8,203.23 315.04,203.25 315.28,203.27 315.51,203.29 315.75,203.3 315.98,203.32 316.22,203.34 316.46,203.36 316.69,203.38 316.93,203.4 317.16,203.42 317.4,203.44 317.64,203.46 317.87,203.48 318.11,203.5 318.34,203.52 318.58,203.55 318.82,203.57 319.05,203.59 319.29,203.61 319.52,203.64 319.76,203.66 320,203.68 320.23,203.71 320.47,203.73 320.7,203.76 320.94,203.78 321.18,203.81 321.41,203.84 321.65,203.86 321.88,203.89 322.12,203.92 322.36,203.95 322.59,203.98 322.83,204.01 323.06,204.04 323.3,204.07 323.54,204.1 323.77,204.13 324.01,204.16 324.24,204.2 324.48,204.23 324.72,204.26 324.95,204.3 325.19,204.33 325.42,204.37 325.66,204.41 325.9,204.44 326.13,204.48 326.37,204.52 326.6,204.56 326.84,204.6 327.08,204.64 327.31,204.68 327.55,204.73 327.78,204.77 328.02,204.81 328.26,204.86 328.49,204.9 328.73,204.95 328.96,205 329.2,205.05 329.44,205.1 329.67,205.15 329.91,205.2 330.14,205.25 330.38,205.31 330.62,205.36 330.85,205.42 331.09,205.48 331.32,205.53 331.56,205.59 331.8,205.66 332.03,205.72 332.27,205.78 332.5,205.85 332.74,205.91 332.98,205.98 333.21,206.05 333.45,206.12 333.68,206.19 333.92,206.26 334.16,206.34 334.39,206.42 334.63,206.5 334.86,206.58 335.1,206.66 335.34,206.74 335.57,206.83 335.81,206.91 336.04,207 336.28,207.09 336.52,207.19 336.75,207.28 336.99,207.38 337.22,207.48 337.46,207.58 337.7,207.69 337.93,207.79 338.17,207.9 338.4,208.01 338.64,208.13 338.88,208.24 339.11,208.36 339.35,208.48 339.58,208.61 339.82,208.73 340.06,208.86 340.29,208.99 340.53,209.13 340.76,209.27 341,209.41 341.24,209.55 341.47,209.7 341.71,209.85 341.94,210 342.18,210.16 342.42,210.31 342.65,210.48 342.89,210.64 343.12,210.81 343.36,210.98 343.6,211.15 343.83,211.32 344.07,211.49 344.3,211.67 344.54,211.85 344.78,212.02 345.01,212.19 345.25,212.36 345.48,212.53 345.72,212.69 345.96,212.84 346.19,212.98 346.43,213.11 346.66,213.22 346.9,213.31 347.14,213.38 347.37,213.42 347.61,213.42 347.84,213.38 348.08,213.29 348.32,213.15 348.55,212.95 348.79,212.68 349.02,212.33 349.26,211.9 349.5,211.37 349.73,210.74 349.97,210.01 350.2,209.16 350.44,208.19 350.68,207.1 350.91,205.87 351.15,204.52 351.38,203.04 351.62,201.44 351.86,199.71 352.09,197.88 352.33,195.94 352.56,193.91 352.8,191.82 353.04,189.67 353.27,187.49 353.51,185.3 353.74,183.13 353.98,181.01 354.22,178.95 354.45,177 354.69,175.17 354.92,173.5 355.16,172.01 355.4,170.72 355.63,169.65 355.87,168.82 356.1,168.24 356.34,167.92 356.58,167.88 356.81,168.1 357.05,168.58 357.28,169.33 357.52,170.31 357.76,171.53 357.99,172.95 358.23,174.57 358.46,176.34 358.7,178.25 358.94,180.28 359.17,182.38 359.41,184.54 359.64,186.72 359.88,188.91 360.12,191.07 360.35,193.18 360.59,195.24 360.82,197.21 361.06,199.08 361.3,200.85 361.53,202.49 361.77,204.02 362,205.41 362.24,206.68 362.48,207.82 362.71,208.83 362.95,209.72 363.18,210.5 363.42,211.16 363.66,211.72 363.89,212.19 364.13,212.56 364.36,212.86 364.6,213.09 364.84,213.25 365.07,213.35 365.31,213.41 365.54,213.42 365.78,213.4 366.02,213.34 366.25,213.26 366.49,213.15 366.72,213.03 366.96,212.89 367.2,212.75 367.43,212.59 367.67,212.42 367.9,212.25 368.14,212.08 368.38,211.91 368.61,211.73 368.85,211.56 369.08,211.38 369.32,211.21 369.56,211.04 369.79,210.87 370.03,210.7 370.26,210.53 370.5,210.37 370.74,210.21 370.97,210.05 371.21,209.9 371.44,209.75 371.68,209.6 371.92,209.46 372.15,209.32 372.39,209.18 372.62,209.04 372.86,208.91 373.1,208.78 373.33,208.65 373.57,208.52 373.8,208.4 374.04,208.28 374.28,208.17 374.51,208.05 374.75,207.94 374.98,207.83 375.22,207.72 375.46,207.62 375.69,207.52 375.93,207.42 376.16,207.32 376.4,207.22 376.64,207.13 376.87,207.04 377.11,206.95 377.34,206.86 377.58,206.77 377.82,206.69 378.05,206.6 378.29,206.52 378.52,206.44 378.76,206.37 379,206.29 379.23,206.22 379.47,206.14 379.7,206.07 379.94,206 380.18,205.94 380.41,205.87 380.65,205.8 380.88,205.74 381.12,205.68 381.36,205.62 381.59,205.56 381.83,205.5 382.06,205.44 382.3,205.38 382.54,205.33 382.77,205.27 383.01,205.22 383.24,205.17 383.48,205.12 383.72,205.07 383.95,205.02 384.19,204.97 384.42,204.92 384.66,204.87 384.9,204.83 385.13,204.78 385.37,204.74 385.6,204.7 385.84,204.66 386.08,204.61 386.31,204.57 386.55,204.53 386.78,204.5 387.02,204.46 387.26,204.42 387.49,204.38 387.73,204.35 387.96,204.31 388.2,204.28 388.44,204.24 388.67,204.21 388.91,204.17 389.14,204.14 389.38,204.11 389.62,204.08 389.85,204.05 390.09,204.02 390.32,203.99 390.56,203.96 390.8,203.93 391.03,203.9 391.27,203.87 391.5,203.85 391.74,203.82 391.98,203.79 392.21,203.77 392.45,203.74 392.68,203.72 392.92,203.69 393.16,203.67 393.39,203.64 393.63,203.62 393.86,203.6 394.1,203.58 394.34,203.55 394.57,203.53 394.81,203.51 395.04,203.49 395.28,203.47 395.52,203.45 395.75,203.43 395.99,203.41 396.22,203.39 396.46,203.37 396.7,203.35 396.93,203.33 397.17,203.31 397.4,203.29 397.64,203.27 397.88,203.26 398.11,203.24 398.35,203.22 398.58,203.21 398.82,203.19 399.06,203.17 399.29,203.16 399.53,203.14 399.76,203.13" fill="none" stroke="#ff3838" stroke-width="1.0" stroke-linejoin="round" stroke-linecap="round" />
<rect x="305.6" y="153.6" width="101.8" height="77.8" fill="none" stroke="#6e6e6e" stroke-width="0.9"/>
<text x="302.6" y="234.1" style="font-family:'Liberation Sans',sans-serif;font-size:6.3px;font-weight:bold" text-anchor="end" fill="#1c1c1c" stroke="#1c1c1c" stroke-width="0.32" >0.6</text>
<text x="302.6" y="221.13" style="font-family:'Liberation Sans',sans-serif;font-size:6.3px;font-weight:bold" text-anchor="end" fill="#1c1c1c" stroke="#1c1c1c" stroke-width="0.32" >0.8</text>
<text x="302.6" y="208.17" style="font-family:'Liberation Sans',sans-serif;font-size:6.3px;font-weight:bold" text-anchor="end" fill="#1c1c1c" stroke="#1c1c1c" stroke-width="0.32" >1.0</text>
<text x="302.6" y="195.2" style="font-family:'Liberation Sans',sans-serif;font-size:6.3px;font-weight:bold" text-anchor="end" fill="#1c1c1c" stroke="#1c1c1c" stroke-width="0.32" >1.2</text>
<text x="302.6" y="182.23" style="font-family:'Liberation Sans',sans-serif;font-size:6.3px;font-weight:bold" text-anchor="end" fill="#1c1c1c" stroke="#1c1c1c" stroke-width="0.32" >1.4</text>
<text x="302.6" y="169.27" style="font-family:'Liberation Sans',sans-serif;font-size:6.3px;font-weight:bold" text-anchor="end" fill="#1c1c1c" stroke="#1c1c1c" stroke-width="0.32" >1.6</text>
<text x="302.6" y="156.3" style="font-family:'Liberation Sans',sans-serif;font-size:6.3px;font-weight:bold" text-anchor="end" fill="#1c1c1c" stroke="#1c1c1c" stroke-width="0.32" >1.8</text>
<text x="305.6" y="238.8" style="font-family:'Liberation Sans',sans-serif;font-size:6.3px;font-weight:bold" text-anchor="middle" fill="#1c1c1c" stroke="#1c1c1c" stroke-width="0.32" >-20</text>
<text x="331.05" y="238.8" style="font-family:'Liberation Sans',sans-serif;font-size:6.3px;font-weight:bold" text-anchor="middle" fill="#1c1c1c" stroke="#1c1c1c" stroke-width="0.32" >-10</text>
<text x="356.5" y="238.8" style="font-family:'Liberation Sans',sans-serif;font-size:6.3px;font-weight:bold" text-anchor="middle" fill="#1c1c1c" stroke="#1c1c1c" stroke-width="0.32" >0</text>
<text x="381.95" y="238.8" style="font-family:'Liberation Sans',sans-serif;font-size:6.3px;font-weight:bold" text-anchor="middle" fill="#1c1c1c" stroke="#1c1c1c" stroke-width="0.32" >10</text>
<text x="407.4" y="238.8" style="font-family:'Liberation Sans',sans-serif;font-size:6.3px;font-weight:bold" text-anchor="middle" fill="#1c1c1c" stroke="#1c1c1c" stroke-width="0.32" >20</text>
<path d="M303.6,231.4H305.6M304.4,224.92H305.6M303.6,218.43H305.6M304.4,211.95H305.6M303.6,205.47H305.6M304.4,198.98H305.6M303.6,192.5H305.6M304.4,186.02H305.6M303.6,179.53H305.6M304.4,173.05H305.6M303.6,166.57H305.6M304.4,160.08H305.6M303.6,153.6H305.6M305.6,231.4V233.4M318.33,231.4V232.6M331.05,231.4V233.4M343.77,231.4V232.6M356.5,231.4V233.4M369.23,231.4V232.6M381.95,231.4V233.4M394.67,231.4V232.6M407.4,231.4V233.4" stroke="#6e6e6e" stroke-width="0.7" fill="none"/>
<text transform="translate(294.44,194) rotate(-90)" style="font-family:'Liberation Sans',sans-serif;font-size:6.5px;font-weight:bold" text-anchor="middle" fill="#1c1c1c" stroke="#1c1c1c" stroke-width="0.32">PAZ scan</text>
<text x="356" y="248.99" style="font-family:'Liberation Sans',sans-serif;font-size:7.2px;font-weight:bold" text-anchor="middle" fill="#1c1c1c" stroke="#1c1c1c" stroke-width="0.32" >Z (mm)</text>
<text x="308" y="161.7" style="font-family:'Liberation Sans',sans-serif;font-size:6.3px;font-weight:bold" text-anchor="start" fill="#1c1c1c" stroke="#1c1c1c" stroke-width="0.32" >(c)</text>
<text x="403" y="163.4" style="font-family:'Liberation Sans',sans-serif;font-size:6.5px;font-weight:bold" text-anchor="end" fill="#1c1c1c" stroke="#1c1c1c" stroke-width="0.32">0.14 GW/cm<tspan style="font-size:3.90px" dy="-2.2">2</tspan></text>
<circle cx="358" cy="159.4" r="1.3" fill="#138b2f"/>
<g fill="#138b2f"><circle cx="437.51" cy="212.59" r="1.38"/><circle cx="439.02" cy="209.74" r="1.38"/><circle cx="440.02" cy="208.97" r="1.38"/><circle cx="441.03" cy="211.04" r="1.38"/><circle cx="441.78" cy="214.14" r="1.38"/><circle cx="444.04" cy="211.04" r="1.38"/><circle cx="445.04" cy="208.45" r="1.38"/><circle cx="446.05" cy="210.52" r="1.38"/><circle cx="447.05" cy="208.97" r="1.38"/><circle cx="448.06" cy="211.55" r="1.38"/><circle cx="449.06" cy="208.45" r="1.38"/><circle cx="450.06" cy="210" r="1.38"/><circle cx="451.07" cy="211.55" r="1.38"/><circle cx="452.07" cy="211.04" r="1.38"/><circle cx="453.08" cy="212.59" r="1.38"/><circle cx="454.08" cy="213.62" r="1.38"/><circle cx="455.08" cy="214.66" r="1.38"/><circle cx="456.59" cy="216.47" r="1.38"/><circle cx="457.09" cy="218.54" r="1.38"/><circle cx="458.1" cy="211.04" r="1.38"/><circle cx="459.1" cy="214.4" r="1.38"/><circle cx="460.1" cy="217.51" r="1.38"/><circle cx="461.11" cy="219.83" r="1.38"/><circle cx="462.11" cy="220.87" r="1.38"/><circle cx="462.61" cy="213.37" r="1.38"/><circle cx="463.12" cy="218.54" r="1.38"/><circle cx="464.12" cy="219.57" r="1.38"/><circle cx="465.12" cy="217.51" r="1.38"/><circle cx="466.13" cy="221.9" r="1.38"/><circle cx="467.13" cy="220.35" r="1.38"/><circle cx="468.14" cy="218.8" r="1.38"/><circle cx="469.14" cy="217.76" r="1.38"/><circle cx="470.14" cy="216.47" r="1.38"/><circle cx="471.15" cy="216.21" r="1.38"/><circle cx="471.9" cy="219.32" r="1.38"/><circle cx="472.9" cy="211.04" r="1.38"/><circle cx="473.91" cy="214.4" r="1.38"/><circle cx="474.91" cy="207.93" r="1.38"/><circle cx="475.92" cy="205.34" r="1.38"/><circle cx="476.92" cy="202.76" r="1.38"/><circle cx="477.93" cy="196.81" r="1.38"/><circle cx="479.43" cy="196.29" r="1.38"/><circle cx="479.68" cy="193.96" r="1.38"/><circle cx="484.95" cy="163.95" r="1.38"/><circle cx="485.45" cy="169.38" r="1.38"/><circle cx="484.45" cy="172.23" r="1.38"/><circle cx="483.45" cy="177.4" r="1.38"/><circle cx="481.19" cy="182.84" r="1.38"/><circle cx="482.69" cy="181.28" r="1.38"/><circle cx="486.46" cy="182.58" r="1.38"/><circle cx="487.21" cy="185.16" r="1.38"/><circle cx="487.96" cy="195.51" r="1.38"/><circle cx="488.72" cy="197.84" r="1.38"/><circle cx="488.72" cy="207.67" r="1.38"/><circle cx="489.97" cy="211.04" r="1.38"/><circle cx="490.98" cy="213.11" r="1.38"/><circle cx="492.23" cy="214.92" r="1.38"/><circle cx="493.24" cy="216.73" r="1.38"/><circle cx="495.5" cy="223.46" r="1.38"/><circle cx="497.75" cy="222.42" r="1.38"/><circle cx="498.51" cy="221.39" r="1.38"/><circle cx="500.01" cy="222.94" r="1.38"/><circle cx="501.52" cy="220.61" r="1.38"/><circle cx="503.02" cy="220.35" r="1.38"/><circle cx="504.53" cy="221.9" r="1.38"/><circle cx="506.04" cy="221.13" r="1.38"/><circle cx="497" cy="223.97" r="1.38"/><circle cx="503.78" cy="216.73" r="1.38"/><circle cx="506.04" cy="216.21" r="1.38"/><circle cx="509.05" cy="215.18" r="1.38"/><circle cx="510.55" cy="217.51" r="1.38"/><circle cx="511.31" cy="214.14" r="1.38"/><circle cx="512.81" cy="214.66" r="1.38"/><circle cx="514.32" cy="211.81" r="1.38"/><circle cx="515.07" cy="214.66" r="1.38"/><circle cx="517.33" cy="215.69" r="1.38"/><circle cx="518.84" cy="217.51" r="1.38"/><circle cx="519.59" cy="212.33" r="1.38"/><circle cx="521.1" cy="213.62" r="1.38"/><circle cx="522.6" cy="209.48" r="1.38"/><circle cx="524.11" cy="209.48" r="1.38"/><circle cx="524.86" cy="216.21" r="1.38"/><circle cx="525.62" cy="215.69" r="1.38"/></g>
<polyline points="439.02,213.11 439.24,213.11 439.46,213.11 439.68,213.11 439.9,213.11 440.12,213.11 440.34,213.11 440.56,213.11 440.78,213.11 441,213.11 441.22,213.11 441.44,213.11 441.66,213.11 441.88,213.11 442.1,213.11 442.32,213.11 442.54,213.11 442.76,213.11 442.98,213.11 443.2,213.11 443.42,213.11 443.64,213.11 443.86,213.12 444.08,213.12 444.3,213.12 444.52,213.12 444.74,213.12 444.96,213.12 445.18,213.12 445.41,213.13 445.63,213.13 445.85,213.13 446.07,213.13 446.29,213.14 446.51,213.14 446.73,213.14 446.95,213.15 447.17,213.15 447.39,213.15 447.61,213.16 447.83,213.16 448.05,213.17 448.27,213.18 448.49,213.18 448.71,213.19 448.93,213.2 449.15,213.2 449.37,213.21 449.59,213.22 449.81,213.23 450.03,213.24 450.25,213.26 450.47,213.27 450.69,213.28 450.91,213.3 451.13,213.31 451.35,213.33 451.57,213.35 451.79,213.37 452.01,213.39 452.23,213.41 452.45,213.43 452.67,213.46 452.89,213.48 453.11,213.51 453.33,213.54 453.55,213.57 453.77,213.6 453.99,213.64 454.21,213.67 454.43,213.71 454.65,213.75 454.87,213.79 455.09,213.84 455.31,213.88 455.53,213.93 455.75,213.98 455.97,214.03 456.19,214.09 456.41,214.14 456.63,214.2 456.85,214.26 457.07,214.33 457.29,214.39 457.51,214.46 457.73,214.53 457.96,214.6 458.18,214.68 458.4,214.75 458.62,214.83 458.84,214.91 459.06,214.99 459.28,215.08 459.5,215.16 459.72,215.25 459.94,215.34 460.16,215.43 460.38,215.52 460.6,215.62 460.82,215.71 461.04,215.8 461.26,215.9 461.48,216 461.7,216.09 461.92,216.19 462.14,216.29 462.36,216.39 462.58,216.48 462.8,216.58 463.02,216.67 463.24,216.77 463.46,216.86 463.68,216.96 463.9,217.05 464.12,217.14 464.34,217.22 464.56,217.31 464.78,217.39 465,217.47 465.22,217.55 465.44,217.62 465.66,217.69 465.88,217.76 466.1,217.82 466.32,217.88 466.54,217.94 466.76,217.99 466.98,218.03 467.2,218.08 467.42,218.11 467.64,218.14 467.86,218.17 468.08,218.19 468.3,218.2 468.52,218.21 468.74,218.21 468.96,218.2 469.18,218.19 469.4,218.17 469.62,218.14 469.84,218.1 470.06,218.05 470.28,218 470.51,217.93 470.73,217.85 470.95,217.76 471.17,217.66 471.39,217.54 471.61,217.41 471.83,217.26 472.05,217.1 472.27,216.91 472.49,216.71 472.71,216.49 472.93,216.24 473.15,215.97 473.37,215.67 473.59,215.34 473.81,214.98 474.03,214.59 474.25,214.16 474.47,213.7 474.69,213.2 474.91,212.66 475.13,212.07 475.35,211.44 475.57,210.76 475.79,210.03 476.01,209.26 476.23,208.43 476.45,207.55 476.67,206.62 476.89,205.63 477.11,204.59 477.33,203.5 477.55,202.36 477.77,201.17 477.99,199.93 478.21,198.64 478.43,197.31 478.65,195.94 478.87,194.54 479.09,193.11 479.31,191.66 479.53,190.18 479.75,188.7 479.97,187.21 480.19,185.73 480.41,184.25 480.63,182.8 480.85,181.37 481.07,179.98 481.29,178.63 481.51,177.34 481.73,176.11 481.95,174.94 482.17,173.86 482.39,172.86 482.61,171.95 482.83,171.15 483.06,170.44 483.28,169.85 483.5,169.37 483.72,169.01 483.94,168.76 484.16,168.64 484.38,168.7 484.6,168.9 484.82,169.21 485.04,169.64 485.26,170.19 485.48,170.85 485.7,171.62 485.92,172.49 486.14,173.45 486.36,174.5 486.58,175.63 486.8,176.84 487.02,178.11 487.24,179.43 487.46,180.81 487.68,182.22 487.9,183.67 488.12,185.13 488.34,186.62 488.56,188.1 488.78,189.59 489,191.07 489.22,192.53 489.44,193.97 489.66,195.39 489.88,196.77 490.1,198.11 490.32,199.42 490.54,200.68 490.76,201.89 490.98,203.05 491.2,204.16 491.42,205.22 491.64,206.23 491.86,207.18 492.08,208.09 492.3,208.93 492.52,209.73 492.74,210.48 492.96,211.17 493.18,211.82 493.4,212.43 493.62,212.99 493.84,213.5 494.06,213.98 494.28,214.42 494.5,214.83 494.72,215.2 494.94,215.54 495.16,215.85 495.38,216.13 495.61,216.39 495.83,216.62 496.05,216.83 496.27,217.03 496.49,217.2 496.71,217.35 496.93,217.49 497.15,217.61 497.37,217.72 497.59,217.82 497.81,217.9 498.03,217.97 498.25,218.03 498.47,218.08 498.69,218.13 498.91,218.16 499.13,218.18 499.35,218.2 499.57,218.21 499.79,218.21 500.01,218.21 500.23,218.2 500.45,218.18 500.67,218.15 500.89,218.13 501.11,218.09 501.33,218.05 501.55,218.01 501.77,217.96 501.99,217.91 502.21,217.85 502.43,217.79 502.65,217.72 502.87,217.65 503.09,217.58 503.31,217.5 503.53,217.42 503.75,217.34 503.97,217.26 504.19,217.17 504.41,217.08 504.63,216.99 504.85,216.9 505.07,216.81 505.29,216.71 505.51,216.62 505.73,216.52 505.95,216.42 506.17,216.33 506.39,216.23 506.61,216.13 506.83,216.04 507.05,215.94 507.27,215.84 507.49,215.75 507.71,215.65 507.93,215.56 508.16,215.47 508.38,215.38 508.6,215.29 508.82,215.2 509.04,215.11 509.26,215.03 509.48,214.94 509.7,214.86 509.92,214.78 510.14,214.71 510.36,214.63 510.58,214.56 510.8,214.49 511.02,214.42 511.24,214.35 511.46,214.29 511.68,214.23 511.9,214.17 512.12,214.11 512.34,214.05 512.56,214 512.78,213.95 513,213.9 513.22,213.86 513.44,213.81 513.66,213.77 513.88,213.73 514.1,213.69 514.32,213.65 514.54,213.62 514.76,213.58 514.98,213.55 515.2,213.52 515.42,213.49 515.64,213.47 515.86,213.44 516.08,213.42 516.3,213.4 516.52,213.38 516.74,213.36 516.96,213.34 517.18,213.32 517.4,213.3 517.62,213.29 517.84,213.28 518.06,213.26 518.28,213.25 518.5,213.24 518.72,213.23 518.94,213.22 519.16,213.21 519.38,213.2 519.6,213.19 519.82,213.18 520.04,213.18 520.26,213.17 520.48,213.17 520.71,213.16 520.93,213.16 521.15,213.15 521.37,213.15 521.59,213.14 521.81,213.14 522.03,213.14 522.25,213.13 522.47,213.13 522.69,213.13 522.91,213.13 523.13,213.12 523.35,213.12 523.57,213.12 523.79,213.12 524.01,213.12 524.23,213.12 524.45,213.12 524.67,213.12 524.89,213.11 525.11,213.11 525.33,213.11 525.55,213.11 525.77,213.11 525.99,213.11 526.21,213.11 526.43,213.11 526.65,213.11 526.87,213.11" fill="none" stroke="#ff3838" stroke-width="1.0" stroke-linejoin="round" stroke-linecap="round" />
<rect x="434" y="153.6" width="100.4" height="77.1" fill="none" stroke="#6e6e6e" stroke-width="0.9"/>
<text x="431" y="226.67" style="font-family:'Liberation Sans',sans-serif;font-size:6.3px;font-weight:bold" text-anchor="end" fill="#1c1c1c" stroke="#1c1c1c" stroke-width="0.32" >0.5</text>
<text x="431" y="213.74" style="font-family:'Liberation Sans',sans-serif;font-size:6.3px;font-weight:bold" text-anchor="end" fill="#1c1c1c" stroke="#1c1c1c" stroke-width="0.32" >1.0</text>
<text x="431" y="200.8" style="font-family:'Liberation Sans',sans-serif;font-size:6.3px;font-weight:bold" text-anchor="end" fill="#1c1c1c" stroke="#1c1c1c" stroke-width="0.32" >1.5</text>
<text x="431" y="187.86" style="font-family:'Liberation Sans',sans-serif;font-size:6.3px;font-weight:bold" text-anchor="end" fill="#1c1c1c" stroke="#1c1c1c" stroke-width="0.32" >2.0</text>
<text x="431" y="174.93" style="font-family:'Liberation Sans',sans-serif;font-size:6.3px;font-weight:bold" text-anchor="end" fill="#1c1c1c" stroke="#1c1c1c" stroke-width="0.32" >2.5</text>
<text x="431" y="161.99" style="font-family:'Liberation Sans',sans-serif;font-size:6.3px;font-weight:bold" text-anchor="end" fill="#1c1c1c" stroke="#1c1c1c" stroke-width="0.32" >3.0</text>
<text x="434" y="238.1" style="font-family:'Liberation Sans',sans-serif;font-size:6.3px;font-weight:bold" text-anchor="middle" fill="#1c1c1c" stroke="#1c1c1c" stroke-width="0.32" >-20</text>
<text x="459.1" y="238.1" style="font-family:'Liberation Sans',sans-serif;font-size:6.3px;font-weight:bold" text-anchor="middle" fill="#1c1c1c" stroke="#1c1c1c" stroke-width="0.32" >-10</text>
<text x="484.2" y="238.1" style="font-family:'Liberation Sans',sans-serif;font-size:6.3px;font-weight:bold" text-anchor="middle" fill="#1c1c1c" stroke="#1c1c1c" stroke-width="0.32" >0</text>
<text x="509.3" y="238.1" style="font-family:'Liberation Sans',sans-serif;font-size:6.3px;font-weight:bold" text-anchor="middle" fill="#1c1c1c" stroke="#1c1c1c" stroke-width="0.32" >10</text>
<text x="534.4" y="238.1" style="font-family:'Liberation Sans',sans-serif;font-size:6.3px;font-weight:bold" text-anchor="middle" fill="#1c1c1c" stroke="#1c1c1c" stroke-width="0.32" >20</text>
<path d="M432,223.97H434M432.8,217.51H434M432,211.04H434M432.8,204.57H434M432,198.1H434M432.8,191.63H434M432,185.16H434M432.8,178.7H434M432,172.23H434M432.8,165.76H434M432,159.29H434M434,230.7V232.7M446.55,230.7V231.9M459.1,230.7V232.7M471.65,230.7V231.9M484.2,230.7V232.7M496.75,230.7V231.9M509.3,230.7V232.7M521.85,230.7V231.9M534.4,230.7V232.7" stroke="#6e6e6e" stroke-width="0.7" fill="none"/>
<text transform="translate(421.44,192.5) rotate(-90)" style="font-family:'Liberation Sans',sans-serif;font-size:6.5px;font-weight:bold" text-anchor="middle" fill="#1c1c1c" stroke="#1c1c1c" stroke-width="0.32">PAZ scan</text>
<text x="483.8" y="247.59" style="font-family:'Liberation Sans',sans-serif;font-size:7.2px;font-weight:bold" text-anchor="middle" fill="#1c1c1c" stroke="#1c1c1c" stroke-width="0.32" >Z (mm)</text>
<text x="436.6" y="161.3" style="font-family:'Liberation Sans',sans-serif;font-size:6.3px;font-weight:bold" text-anchor="start" fill="#1c1c1c" stroke="#1c1c1c" stroke-width="0.32" >(d)</text>
<text x="529" y="163.4" style="font-family:'Liberation Sans',sans-serif;font-size:6.5px;font-weight:bold" text-anchor="end" fill="#1c1c1c" stroke="#1c1c1c" stroke-width="0.32">0.31 GW/cm<tspan style="font-size:3.90px" dy="-2.2">2</tspan></text>
<g fill="#111111"><rect x="29.86" y="306.83" width="2.44" height="2.44"/><rect x="31.03" y="309.63" width="2.44" height="2.44"/><rect x="31.61" y="308" width="2.44" height="2.44"/><rect x="31.76" y="312.29" width="2.44" height="2.44"/><rect x="32.36" y="309.09" width="2.44" height="2.44"/><rect x="33.04" y="309.9" width="2.44" height="2.44"/><rect x="33.86" y="310.61" width="2.44" height="2.44"/><rect x="34.25" y="306.73" width="2.44" height="2.44"/><rect x="34.64" y="309.52" width="2.44" height="2.44"/><rect x="35.53" y="310.7" width="2.44" height="2.44"/><rect x="35.91" y="308.25" width="2.44" height="2.44"/><rect x="37.34" y="306.65" width="2.44" height="2.44"/><rect x="38.02" y="308.67" width="2.44" height="2.44"/><rect x="37.51" y="307.53" width="2.44" height="2.44"/><rect x="38.89" y="308.39" width="2.44" height="2.44"/><rect x="39.32" y="310.74" width="2.44" height="2.44"/><rect x="40.3" y="312.79" width="2.44" height="2.44"/><rect x="40.61" y="310.62" width="2.44" height="2.44"/><rect x="41.05" y="308.38" width="2.44" height="2.44"/><rect x="41.82" y="309.27" width="2.44" height="2.44"/><rect x="42.03" y="308.39" width="2.44" height="2.44"/><rect x="42.98" y="307.92" width="2.44" height="2.44"/><rect x="43.72" y="306.8" width="2.44" height="2.44"/><rect x="43.88" y="307.15" width="2.44" height="2.44"/><rect x="45.04" y="307.3" width="2.44" height="2.44"/><rect x="45.46" y="307.1" width="2.44" height="2.44"/><rect x="46.26" y="307.93" width="2.44" height="2.44"/><rect x="45.87" y="309.91" width="2.44" height="2.44"/><rect x="46.88" y="307.67" width="2.44" height="2.44"/><rect x="47.97" y="309.52" width="2.44" height="2.44"/><rect x="48.2" y="309.02" width="2.44" height="2.44"/><rect x="49.04" y="306.97" width="2.44" height="2.44"/><rect x="49.76" y="308.87" width="2.44" height="2.44"/><rect x="49.41" y="307.58" width="2.44" height="2.44"/><rect x="50.06" y="309.71" width="2.44" height="2.44"/><rect x="51.4" y="308.77" width="2.44" height="2.44"/><rect x="52.03" y="309.2" width="2.44" height="2.44"/><rect x="52.44" y="309.77" width="2.44" height="2.44"/><rect x="52.53" y="309.18" width="2.44" height="2.44"/><rect x="53.26" y="307.95" width="2.44" height="2.44"/><rect x="54.02" y="308.34" width="2.44" height="2.44"/><rect x="54.47" y="308.42" width="2.44" height="2.44"/><rect x="55.03" y="306.81" width="2.44" height="2.44"/><rect x="55.57" y="311.48" width="2.44" height="2.44"/><rect x="56.67" y="311.06" width="2.44" height="2.44"/><rect x="56.44" y="307.23" width="2.44" height="2.44"/><rect x="57.63" y="310.39" width="2.44" height="2.44"/><rect x="58.23" y="308.67" width="2.44" height="2.44"/><rect x="59.08" y="306.92" width="2.44" height="2.44"/><rect x="58.61" y="308.92" width="2.44" height="2.44"/><rect x="59.92" y="307.95" width="2.44" height="2.44"/><rect x="60.5" y="309.32" width="2.44" height="2.44"/><rect x="60.87" y="307.32" width="2.44" height="2.44"/><rect x="60.97" y="307.83" width="2.44" height="2.44"/><rect x="61.54" y="306.86" width="2.44" height="2.44"/><rect x="62.28" y="307.01" width="2.44" height="2.44"/><rect x="63.61" y="305.14" width="2.44" height="2.44"/><rect x="63.44" y="307.98" width="2.44" height="2.44"/><rect x="64" y="306.9" width="2.44" height="2.44"/><rect x="64.84" y="307.77" width="2.44" height="2.44"/><rect x="65.59" y="306.02" width="2.44" height="2.44"/><rect x="66.43" y="308.23" width="2.44" height="2.44"/><rect x="67.14" y="304.17" width="2.44" height="2.44"/><rect x="67.08" y="305.37" width="2.44" height="2.44"/><rect x="68.44" y="305.95" width="2.44" height="2.44"/><rect x="67.96" y="307.32" width="2.44" height="2.44"/><rect x="68.97" y="305.43" width="2.44" height="2.44"/><rect x="69.35" y="308.27" width="2.44" height="2.44"/><rect x="70.11" y="309.86" width="2.44" height="2.44"/><rect x="70.81" y="310.69" width="2.44" height="2.44"/><rect x="71.46" y="314.36" width="2.44" height="2.44"/><rect x="71.95" y="313.88" width="2.44" height="2.44"/><rect x="72.3" y="313.38" width="2.44" height="2.44"/><rect x="72.88" y="315.73" width="2.44" height="2.44"/><rect x="73.49" y="320.36" width="2.44" height="2.44"/><rect x="74.67" y="326.07" width="2.44" height="2.44"/><rect x="74.88" y="329.91" width="2.44" height="2.44"/><rect x="75.67" y="334.95" width="2.44" height="2.44"/><rect x="76.15" y="335.28" width="2.44" height="2.44"/><rect x="76.66" y="340.1" width="2.44" height="2.44"/><rect x="77.61" y="339.6" width="2.44" height="2.44"/><rect x="77.98" y="341.91" width="2.44" height="2.44"/><rect x="78.26" y="338.77" width="2.44" height="2.44"/><rect x="79.65" y="329.1" width="2.44" height="2.44"/><rect x="79.34" y="335.45" width="2.44" height="2.44"/><rect x="79.82" y="330.05" width="2.44" height="2.44"/><rect x="80.98" y="324.24" width="2.44" height="2.44"/><rect x="81.42" y="325.76" width="2.44" height="2.44"/><rect x="81.63" y="319.48" width="2.44" height="2.44"/><rect x="82.13" y="316.57" width="2.44" height="2.44"/><rect x="83.23" y="313.18" width="2.44" height="2.44"/><rect x="83.52" y="311.95" width="2.44" height="2.44"/><rect x="83.88" y="310.34" width="2.44" height="2.44"/><rect x="84.93" y="306.58" width="2.44" height="2.44"/><rect x="85.69" y="308.8" width="2.44" height="2.44"/><rect x="85.56" y="307.24" width="2.44" height="2.44"/><rect x="86.7" y="309.37" width="2.44" height="2.44"/><rect x="86.79" y="305.9" width="2.44" height="2.44"/><rect x="88.22" y="305.63" width="2.44" height="2.44"/><rect x="88.77" y="308.8" width="2.44" height="2.44"/><rect x="88.76" y="304.21" width="2.44" height="2.44"/><rect x="89.15" y="306.49" width="2.44" height="2.44"/><rect x="90.72" y="303.88" width="2.44" height="2.44"/><rect x="90.82" y="304.82" width="2.44" height="2.44"/><rect x="90.95" y="309.01" width="2.44" height="2.44"/><rect x="91.51" y="304.51" width="2.44" height="2.44"/><rect x="92.97" y="305.64" width="2.44" height="2.44"/><rect x="93.2" y="309.51" width="2.44" height="2.44"/><rect x="93.45" y="306.28" width="2.44" height="2.44"/><rect x="94.41" y="306.56" width="2.44" height="2.44"/><rect x="94.68" y="306.51" width="2.44" height="2.44"/><rect x="95.84" y="305.03" width="2.44" height="2.44"/><rect x="96.07" y="307.84" width="2.44" height="2.44"/><rect x="97.22" y="306.16" width="2.44" height="2.44"/><rect x="97.27" y="305.62" width="2.44" height="2.44"/><rect x="98.32" y="306.26" width="2.44" height="2.44"/><rect x="98.12" y="308.4" width="2.44" height="2.44"/><rect x="99.03" y="309.54" width="2.44" height="2.44"/><rect x="99.6" y="307.88" width="2.44" height="2.44"/><rect x="100.55" y="304.84" width="2.44" height="2.44"/><rect x="100.26" y="305.44" width="2.44" height="2.44"/><rect x="101.75" y="308.13" width="2.44" height="2.44"/><rect x="102.3" y="304.31" width="2.44" height="2.44"/><rect x="102.41" y="307.65" width="2.44" height="2.44"/><rect x="102.56" y="306.08" width="2.44" height="2.44"/><rect x="104.02" y="307.73" width="2.44" height="2.44"/><rect x="104.5" y="306.94" width="2.44" height="2.44"/><rect x="105.37" y="304.14" width="2.44" height="2.44"/><rect x="105.53" y="307.93" width="2.44" height="2.44"/><rect x="106.6" y="305.4" width="2.44" height="2.44"/><rect x="106.4" y="305.68" width="2.44" height="2.44"/><rect x="107.02" y="304.6" width="2.44" height="2.44"/><rect x="108.07" y="307.31" width="2.44" height="2.44"/><rect x="108.62" y="305.11" width="2.44" height="2.44"/><rect x="109.24" y="308.15" width="2.44" height="2.44"/><rect x="110.03" y="306.94" width="2.44" height="2.44"/><rect x="110.4" y="306.54" width="2.44" height="2.44"/><rect x="110.95" y="309.04" width="2.44" height="2.44"/><rect x="111.72" y="304" width="2.44" height="2.44"/><rect x="112.07" y="306.37" width="2.44" height="2.44"/><rect x="112.25" y="307.69" width="2.44" height="2.44"/><rect x="113.46" y="307.25" width="2.44" height="2.44"/><rect x="113.35" y="307.14" width="2.44" height="2.44"/><rect x="114.49" y="308.69" width="2.44" height="2.44"/><rect x="114.87" y="307.02" width="2.44" height="2.44"/><rect x="115.27" y="306.97" width="2.44" height="2.44"/><rect x="115.62" y="306.01" width="2.44" height="2.44"/><rect x="117.05" y="306.3" width="2.44" height="2.44"/><rect x="116.67" y="305.75" width="2.44" height="2.44"/><rect x="118.12" y="309.17" width="2.44" height="2.44"/><rect x="118.57" y="306.47" width="2.44" height="2.44"/><rect x="118.89" y="305.65" width="2.44" height="2.44"/><rect x="119.71" y="304.97" width="2.44" height="2.44"/><rect x="119.84" y="304.63" width="2.44" height="2.44"/><rect x="121.12" y="304.99" width="2.44" height="2.44"/><rect x="120.89" y="307.36" width="2.44" height="2.44"/><rect x="121.96" y="304.88" width="2.44" height="2.44"/><rect x="122.4" y="309.86" width="2.44" height="2.44"/><rect x="123.24" y="308.67" width="2.44" height="2.44"/><rect x="123.59" y="305" width="2.44" height="2.44"/><rect x="124.75" y="308.81" width="2.44" height="2.44"/><rect x="125.21" y="306.06" width="2.44" height="2.44"/><rect x="125.85" y="305.32" width="2.44" height="2.44"/><rect x="125.4" y="307.48" width="2.44" height="2.44"/><rect x="126.14" y="304.23" width="2.44" height="2.44"/><rect x="77.06" y="343.83" width="2.44" height="2.44"/><rect x="78.26" y="344.77" width="2.44" height="2.44"/></g>
<polyline points="30.95,305.47 31.19,305.47 31.43,305.47 31.67,305.47 31.91,305.48 32.15,305.48 32.38,305.48 32.62,305.48 32.86,305.48 33.1,305.48 33.34,305.48 33.58,305.49 33.82,305.49 34.06,305.49 34.3,305.49 34.54,305.49 34.78,305.49 35.02,305.5 35.26,305.5 35.5,305.5 35.74,305.5 35.98,305.5 36.22,305.51 36.46,305.51 36.7,305.51 36.94,305.51 37.18,305.51 37.42,305.52 37.66,305.52 37.9,305.52 38.14,305.52 38.38,305.53 38.62,305.53 38.86,305.53 39.1,305.53 39.34,305.54 39.58,305.54 39.81,305.54 40.05,305.54 40.29,305.55 40.53,305.55 40.77,305.55 41.01,305.56 41.25,305.56 41.49,305.56 41.73,305.57 41.97,305.57 42.21,305.57 42.45,305.58 42.69,305.58 42.93,305.58 43.17,305.59 43.41,305.59 43.65,305.59 43.89,305.6 44.13,305.6 44.37,305.61 44.61,305.61 44.85,305.61 45.09,305.62 45.33,305.62 45.57,305.63 45.81,305.63 46.05,305.64 46.29,305.64 46.53,305.65 46.77,305.65 47,305.66 47.24,305.66 47.48,305.67 47.72,305.67 47.96,305.68 48.2,305.69 48.44,305.69 48.68,305.7 48.92,305.7 49.16,305.71 49.4,305.72 49.64,305.72 49.88,305.73 50.12,305.74 50.36,305.74 50.6,305.75 50.84,305.76 51.08,305.77 51.32,305.77 51.56,305.78 51.8,305.79 52.04,305.8 52.28,305.81 52.52,305.81 52.76,305.82 53,305.83 53.24,305.84 53.48,305.85 53.72,305.85 53.96,305.86 54.19,305.87 54.43,305.88 54.67,305.88 54.91,305.89 55.15,305.9 55.39,305.9 55.63,305.91 55.87,305.91 56.11,305.92 56.35,305.92 56.59,305.92 56.83,305.93 57.07,305.93 57.31,305.93 57.55,305.93 57.79,305.92 58.03,305.92 58.27,305.91 58.51,305.91 58.75,305.9 58.99,305.89 59.23,305.88 59.47,305.87 59.71,305.85 59.95,305.84 60.19,305.82 60.43,305.8 60.67,305.78 60.91,305.76 61.15,305.73 61.38,305.71 61.62,305.68 61.86,305.66 62.1,305.63 62.34,305.6 62.58,305.58 62.82,305.55 63.06,305.52 63.3,305.5 63.54,305.48 63.78,305.45 64.02,305.43 64.26,305.42 64.5,305.41 64.74,305.4 64.98,305.39 65.22,305.39 65.46,305.4 65.7,305.42 65.94,305.44 66.18,305.47 66.42,305.51 66.66,305.56 66.9,305.62 67.14,305.69 67.38,305.78 67.62,305.87 67.86,305.99 68.1,306.11 68.34,306.26 68.58,306.42 68.81,306.6 69.05,306.79 69.29,307.01 69.53,307.25 69.77,307.51 70.01,307.8 70.25,308.11 70.49,308.45 70.73,308.82 70.97,309.22 71.21,309.65 71.45,310.11 71.69,310.61 71.93,311.15 72.17,311.73 72.41,312.36 72.65,313.03 72.89,313.75 73.13,314.53 73.37,315.36 73.61,316.25 73.85,317.21 74.09,318.23 74.33,319.32 74.57,320.49 74.81,321.72 75.05,323.03 75.29,324.41 75.53,325.86 75.77,327.36 76,328.91 76.24,330.5 76.48,332.1 76.72,333.7 76.96,335.25 77.2,336.74 77.44,338.12 77.68,339.35 77.92,340.4 78.16,341.24 78.4,341.83 78.64,342.15 78.88,342.15 79.12,341.83 79.36,341.24 79.6,340.4 79.84,339.35 80.08,338.12 80.32,336.74 80.56,335.25 80.8,333.7 81.04,332.1 81.28,330.5 81.52,328.91 81.76,327.36 82,325.86 82.24,324.41 82.48,323.03 82.72,321.72 82.96,320.49 83.19,319.32 83.43,318.23 83.67,317.21 83.91,316.25 84.15,315.36 84.39,314.53 84.63,313.75 84.87,313.03 85.11,312.36 85.35,311.73 85.59,311.15 85.83,310.61 86.07,310.11 86.31,309.65 86.55,309.22 86.79,308.82 87.03,308.45 87.27,308.11 87.51,307.8 87.75,307.51 87.99,307.25 88.23,307.01 88.47,306.79 88.71,306.6 88.95,306.42 89.19,306.26 89.43,306.11 89.67,305.99 89.91,305.87 90.15,305.78 90.38,305.69 90.62,305.62 90.86,305.56 91.1,305.51 91.34,305.47 91.58,305.44 91.82,305.42 92.06,305.4 92.3,305.39 92.54,305.39 92.78,305.4 93.02,305.41 93.26,305.42 93.5,305.43 93.74,305.45 93.98,305.48 94.22,305.5 94.46,305.52 94.7,305.55 94.94,305.58 95.18,305.6 95.42,305.63 95.66,305.66 95.9,305.68 96.14,305.71 96.38,305.73 96.62,305.76 96.86,305.78 97.1,305.8 97.34,305.82 97.57,305.84 97.81,305.85 98.05,305.87 98.29,305.88 98.53,305.89 98.77,305.9 99.01,305.91 99.25,305.91 99.49,305.92 99.73,305.92 99.97,305.93 100.21,305.93 100.45,305.93 100.69,305.93 100.93,305.92 101.17,305.92 101.41,305.92 101.65,305.91 101.89,305.91 102.13,305.9 102.37,305.9 102.61,305.89 102.85,305.88 103.09,305.88 103.33,305.87 103.57,305.86 103.81,305.85 104.05,305.85 104.29,305.84 104.53,305.83 104.77,305.82 105,305.81 105.24,305.81 105.48,305.8 105.72,305.79 105.96,305.78 106.2,305.77 106.44,305.77 106.68,305.76 106.92,305.75 107.16,305.74 107.4,305.74 107.64,305.73 107.88,305.72 108.12,305.72 108.36,305.71 108.6,305.7 108.84,305.7 109.08,305.69 109.32,305.69 109.56,305.68 109.8,305.67 110.04,305.67 110.28,305.66 110.52,305.66 110.76,305.65 111,305.65 111.24,305.64 111.48,305.64 111.72,305.63 111.96,305.63 112.19,305.62 112.43,305.62 112.67,305.61 112.91,305.61 113.15,305.61 113.39,305.6 113.63,305.6 113.87,305.59 114.11,305.59 114.35,305.59 114.59,305.58 114.83,305.58 115.07,305.58 115.31,305.57 115.55,305.57 115.79,305.57 116.03,305.56 116.27,305.56 116.51,305.56 116.75,305.55 116.99,305.55 117.23,305.55 117.47,305.54 117.71,305.54 117.95,305.54 118.19,305.54 118.43,305.53 118.67,305.53 118.91,305.53 119.15,305.53 119.38,305.52 119.62,305.52 119.86,305.52 120.1,305.52 120.34,305.51 120.58,305.51 120.82,305.51 121.06,305.51 121.3,305.51 121.54,305.5 121.78,305.5 122.02,305.5 122.26,305.5 122.5,305.5 122.74,305.49 122.98,305.49 123.22,305.49 123.46,305.49 123.7,305.49 123.94,305.49 124.18,305.48 124.42,305.48 124.66,305.48 124.9,305.48 125.14,305.48 125.38,305.48 125.62,305.48 125.86,305.47 126.1,305.47 126.34,305.47 126.57,305.47" fill="none" stroke="#ff3838" stroke-width="1.0" stroke-linejoin="round" stroke-linecap="round" />
<rect x="27.6" y="287.4" width="102.8" height="80.8" fill="none" stroke="#6e6e6e" stroke-width="0.9"/>
<text x="24.6" y="365.7" style="font-family:'Liberation Sans',sans-serif;font-size:6.4px;font-weight:bold" text-anchor="end" fill="#1c1c1c" stroke="#1c1c1c" stroke-width="0.32" >0.4</text>
<text x="24.6" y="346.8" style="font-family:'Liberation Sans',sans-serif;font-size:6.4px;font-weight:bold" text-anchor="end" fill="#1c1c1c" stroke="#1c1c1c" stroke-width="0.32" >0.6</text>
<text x="24.6" y="327.9" style="font-family:'Liberation Sans',sans-serif;font-size:6.4px;font-weight:bold" text-anchor="end" fill="#1c1c1c" stroke="#1c1c1c" stroke-width="0.32" >0.8</text>
<text x="24.6" y="309" style="font-family:'Liberation Sans',sans-serif;font-size:6.4px;font-weight:bold" text-anchor="end" fill="#1c1c1c" stroke="#1c1c1c" stroke-width="0.32" >1.0</text>
<text x="24.6" y="290.1" style="font-family:'Liberation Sans',sans-serif;font-size:6.4px;font-weight:bold" text-anchor="end" fill="#1c1c1c" stroke="#1c1c1c" stroke-width="0.32" >1.2</text>
<text x="30.95" y="375.6" style="font-family:'Liberation Sans',sans-serif;font-size:6.4px;font-weight:bold" text-anchor="middle" fill="#1c1c1c" stroke="#1c1c1c" stroke-width="0.32" >-20</text>
<text x="54.85" y="375.6" style="font-family:'Liberation Sans',sans-serif;font-size:6.4px;font-weight:bold" text-anchor="middle" fill="#1c1c1c" stroke="#1c1c1c" stroke-width="0.32" >-10</text>
<text x="78.76" y="375.6" style="font-family:'Liberation Sans',sans-serif;font-size:6.4px;font-weight:bold" text-anchor="middle" fill="#1c1c1c" stroke="#1c1c1c" stroke-width="0.32" >0</text>
<text x="102.67" y="375.6" style="font-family:'Liberation Sans',sans-serif;font-size:6.4px;font-weight:bold" text-anchor="middle" fill="#1c1c1c" stroke="#1c1c1c" stroke-width="0.32" >10</text>
<text x="126.57" y="375.6" style="font-family:'Liberation Sans',sans-serif;font-size:6.4px;font-weight:bold" text-anchor="middle" fill="#1c1c1c" stroke="#1c1c1c" stroke-width="0.32" >20</text>
<path d="M25.6,363H27.6M26.4,353.55H27.6M25.6,344.1H27.6M26.4,334.65H27.6M25.6,325.2H27.6M26.4,315.75H27.6M25.6,306.3H27.6M26.4,296.85H27.6M25.6,287.4H27.6M30.95,368.2V370.2M42.9,368.2V369.4M54.85,368.2V370.2M66.81,368.2V369.4M78.76,368.2V370.2M90.71,368.2V369.4M102.67,368.2V370.2M114.62,368.2V369.4M126.57,368.2V370.2" stroke="#6e6e6e" stroke-width="0.7" fill="none"/>
<text transform="translate(13.87,327.5) rotate(-90)" style="font-family:'Liberation Sans',sans-serif;font-size:6.3px;font-weight:bold" text-anchor="middle" fill="#1c1c1c" stroke="#1c1c1c" stroke-width="0.32">Normalized transmittance</text>
<text x="79" y="384.74" style="font-family:'Liberation Sans',sans-serif;font-size:6.5px;font-weight:bold" text-anchor="middle" fill="#1c1c1c" stroke="#1c1c1c" stroke-width="0.32" >Z (mm)</text>
<text x="29.6" y="295.7" style="font-family:'Liberation Sans',sans-serif;font-size:6.3px;font-weight:bold" text-anchor="start" fill="#1c1c1c" stroke="#1c1c1c" stroke-width="0.32" >(a)</text>
<text x="127" y="295.8" style="font-family:'Liberation Sans',sans-serif;font-size:6.5px;font-weight:bold" text-anchor="end" fill="#1c1c1c" stroke="#1c1c1c" stroke-width="0.32">0.2 GW/cm<tspan style="font-size:3.90px" dy="-2.2">2</tspan></text>
<rect x="83.8" y="292.2" width="2.4" height="2.4" fill="#111111"/>
<g fill="#111111"><rect x="159.03" y="311.79" width="2.44" height="2.44"/><rect x="158.73" y="307.11" width="2.44" height="2.44"/><rect x="160.02" y="308.11" width="2.44" height="2.44"/><rect x="160.73" y="309.06" width="2.44" height="2.44"/><rect x="161.01" y="306.53" width="2.44" height="2.44"/><rect x="161.26" y="307.84" width="2.44" height="2.44"/><rect x="161.81" y="308.05" width="2.44" height="2.44"/><rect x="163.04" y="306.84" width="2.44" height="2.44"/><rect x="162.92" y="307.67" width="2.44" height="2.44"/><rect x="163.4" y="306.49" width="2.44" height="2.44"/><rect x="164.68" y="308.65" width="2.44" height="2.44"/><rect x="165.57" y="310.3" width="2.44" height="2.44"/><rect x="165.03" y="312.53" width="2.44" height="2.44"/><rect x="166.2" y="304.93" width="2.44" height="2.44"/><rect x="167.12" y="308.77" width="2.44" height="2.44"/><rect x="167.46" y="307.77" width="2.44" height="2.44"/><rect x="168.17" y="308.69" width="2.44" height="2.44"/><rect x="168.24" y="305.76" width="2.44" height="2.44"/><rect x="169.55" y="309.64" width="2.44" height="2.44"/><rect x="169.88" y="308.49" width="2.44" height="2.44"/><rect x="170.25" y="309.2" width="2.44" height="2.44"/><rect x="170.36" y="308.57" width="2.44" height="2.44"/><rect x="171.2" y="308.74" width="2.44" height="2.44"/><rect x="172.13" y="307.79" width="2.44" height="2.44"/><rect x="172.43" y="307.57" width="2.44" height="2.44"/><rect x="173" y="310.13" width="2.44" height="2.44"/><rect x="173.79" y="306.57" width="2.44" height="2.44"/><rect x="174.24" y="309.97" width="2.44" height="2.44"/><rect x="174.98" y="308.83" width="2.44" height="2.44"/><rect x="175.49" y="306.3" width="2.44" height="2.44"/><rect x="176.31" y="308.7" width="2.44" height="2.44"/><rect x="176.55" y="305.97" width="2.44" height="2.44"/><rect x="177.58" y="308.39" width="2.44" height="2.44"/><rect x="177.46" y="306.44" width="2.44" height="2.44"/><rect x="177.77" y="306.83" width="2.44" height="2.44"/><rect x="178.59" y="308.68" width="2.44" height="2.44"/><rect x="178.94" y="307.78" width="2.44" height="2.44"/><rect x="180.36" y="305.2" width="2.44" height="2.44"/><rect x="180.01" y="309.6" width="2.44" height="2.44"/><rect x="181.27" y="306.84" width="2.44" height="2.44"/><rect x="181.75" y="306.49" width="2.44" height="2.44"/><rect x="182.64" y="308.22" width="2.44" height="2.44"/><rect x="182.49" y="307.79" width="2.44" height="2.44"/><rect x="183.84" y="307.74" width="2.44" height="2.44"/><rect x="183.82" y="307.6" width="2.44" height="2.44"/><rect x="184.87" y="306.02" width="2.44" height="2.44"/><rect x="184.9" y="306.94" width="2.44" height="2.44"/><rect x="186.17" y="307.49" width="2.44" height="2.44"/><rect x="186.08" y="307.59" width="2.44" height="2.44"/><rect x="186.47" y="307.1" width="2.44" height="2.44"/><rect x="187.31" y="307.47" width="2.44" height="2.44"/><rect x="187.54" y="305.72" width="2.44" height="2.44"/><rect x="188.96" y="307.87" width="2.44" height="2.44"/><rect x="188.75" y="304.47" width="2.44" height="2.44"/><rect x="189.6" y="305.65" width="2.44" height="2.44"/><rect x="190.83" y="305.63" width="2.44" height="2.44"/><rect x="191.46" y="302.7" width="2.44" height="2.44"/><rect x="191.41" y="303.96" width="2.44" height="2.44"/><rect x="192.42" y="306.8" width="2.44" height="2.44"/><rect x="192.32" y="307.71" width="2.44" height="2.44"/><rect x="193.3" y="305.95" width="2.44" height="2.44"/><rect x="194.23" y="308.41" width="2.44" height="2.44"/><rect x="194.37" y="304.87" width="2.44" height="2.44"/><rect x="195.01" y="303.93" width="2.44" height="2.44"/><rect x="194.94" y="302.87" width="2.44" height="2.44"/><rect x="195.89" y="306.49" width="2.44" height="2.44"/><rect x="196.14" y="308" width="2.44" height="2.44"/><rect x="196.98" y="307.89" width="2.44" height="2.44"/><rect x="197.58" y="308.13" width="2.44" height="2.44"/><rect x="198.68" y="309.41" width="2.44" height="2.44"/><rect x="198.39" y="309.54" width="2.44" height="2.44"/><rect x="199.42" y="315.68" width="2.44" height="2.44"/><rect x="199.86" y="313.69" width="2.44" height="2.44"/><rect x="200.81" y="321.24" width="2.44" height="2.44"/><rect x="201.05" y="320.29" width="2.44" height="2.44"/><rect x="201.26" y="322.84" width="2.44" height="2.44"/><rect x="202.82" y="339.63" width="2.44" height="2.44"/><rect x="203.26" y="344.62" width="2.44" height="2.44"/><rect x="203.97" y="350.35" width="2.44" height="2.44"/><rect x="204" y="351.43" width="2.44" height="2.44"/><rect x="204.8" y="359.47" width="2.44" height="2.44"/><rect x="205.26" y="357.64" width="2.44" height="2.44"/><rect x="205.94" y="356.54" width="2.44" height="2.44"/><rect x="206.12" y="356.54" width="2.44" height="2.44"/><rect x="206.74" y="347.68" width="2.44" height="2.44"/><rect x="206.99" y="345.57" width="2.44" height="2.44"/><rect x="207.89" y="333.48" width="2.44" height="2.44"/><rect x="208.39" y="331.28" width="2.44" height="2.44"/><rect x="209.34" y="320.94" width="2.44" height="2.44"/><rect x="209.92" y="321.03" width="2.44" height="2.44"/><rect x="210.39" y="316.45" width="2.44" height="2.44"/><rect x="210.75" y="315.23" width="2.44" height="2.44"/><rect x="211.06" y="312.57" width="2.44" height="2.44"/><rect x="212.7" y="309.33" width="2.44" height="2.44"/><rect x="212.53" y="309.51" width="2.44" height="2.44"/><rect x="213.28" y="306.84" width="2.44" height="2.44"/><rect x="214.43" y="304.7" width="2.44" height="2.44"/><rect x="214.37" y="306.4" width="2.44" height="2.44"/><rect x="214.8" y="305.75" width="2.44" height="2.44"/><rect x="215.61" y="305.69" width="2.44" height="2.44"/><rect x="216.25" y="305.31" width="2.44" height="2.44"/><rect x="217.15" y="302.27" width="2.44" height="2.44"/><rect x="216.8" y="302.47" width="2.44" height="2.44"/><rect x="217.84" y="303.21" width="2.44" height="2.44"/><rect x="218.79" y="305.78" width="2.44" height="2.44"/><rect x="219.29" y="304.69" width="2.44" height="2.44"/><rect x="219.71" y="306.85" width="2.44" height="2.44"/><rect x="219.64" y="305.85" width="2.44" height="2.44"/><rect x="220.58" y="304.55" width="2.44" height="2.44"/><rect x="221.41" y="307.88" width="2.44" height="2.44"/><rect x="221.67" y="305.46" width="2.44" height="2.44"/><rect x="222.5" y="307.18" width="2.44" height="2.44"/><rect x="223.26" y="304.06" width="2.44" height="2.44"/><rect x="223.23" y="306.36" width="2.44" height="2.44"/><rect x="223.68" y="302.39" width="2.44" height="2.44"/><rect x="224.59" y="309.31" width="2.44" height="2.44"/><rect x="224.89" y="308.22" width="2.44" height="2.44"/><rect x="225.55" y="305.87" width="2.44" height="2.44"/><rect x="226.96" y="305.37" width="2.44" height="2.44"/><rect x="226.92" y="306.04" width="2.44" height="2.44"/><rect x="227.32" y="306.94" width="2.44" height="2.44"/><rect x="228.52" y="306.43" width="2.44" height="2.44"/><rect x="228.34" y="307.34" width="2.44" height="2.44"/><rect x="229.66" y="307.89" width="2.44" height="2.44"/><rect x="229.92" y="307.76" width="2.44" height="2.44"/><rect x="230.64" y="307.64" width="2.44" height="2.44"/><rect x="230.69" y="307.57" width="2.44" height="2.44"/><rect x="231.3" y="306.88" width="2.44" height="2.44"/><rect x="232.42" y="306.97" width="2.44" height="2.44"/><rect x="232.29" y="309.63" width="2.44" height="2.44"/><rect x="233.1" y="303.79" width="2.44" height="2.44"/><rect x="234.02" y="308.68" width="2.44" height="2.44"/><rect x="234.23" y="307.47" width="2.44" height="2.44"/><rect x="234.98" y="307.85" width="2.44" height="2.44"/><rect x="236.19" y="306.4" width="2.44" height="2.44"/><rect x="236.77" y="304.38" width="2.44" height="2.44"/><rect x="236.92" y="306.57" width="2.44" height="2.44"/><rect x="237.46" y="305.21" width="2.44" height="2.44"/><rect x="237.42" y="306.32" width="2.44" height="2.44"/><rect x="239.13" y="308.72" width="2.44" height="2.44"/><rect x="239.23" y="306.88" width="2.44" height="2.44"/><rect x="240.06" y="305.41" width="2.44" height="2.44"/><rect x="240.36" y="306.78" width="2.44" height="2.44"/><rect x="241.31" y="303.39" width="2.44" height="2.44"/><rect x="241.54" y="307.17" width="2.44" height="2.44"/><rect x="242.26" y="305.66" width="2.44" height="2.44"/><rect x="242.18" y="310.02" width="2.44" height="2.44"/><rect x="243.08" y="306.19" width="2.44" height="2.44"/><rect x="243.97" y="306.32" width="2.44" height="2.44"/><rect x="243.85" y="308.15" width="2.44" height="2.44"/><rect x="244.82" y="306.63" width="2.44" height="2.44"/><rect x="245.07" y="305.93" width="2.44" height="2.44"/><rect x="246.04" y="307.52" width="2.44" height="2.44"/><rect x="246.99" y="306.05" width="2.44" height="2.44"/><rect x="246.7" y="307.56" width="2.44" height="2.44"/><rect x="248.11" y="307.37" width="2.44" height="2.44"/><rect x="248.41" y="308.07" width="2.44" height="2.44"/><rect x="249.01" y="306.6" width="2.44" height="2.44"/><rect x="249.13" y="306.4" width="2.44" height="2.44"/><rect x="249.98" y="307.45" width="2.44" height="2.44"/><rect x="250.39" y="307.43" width="2.44" height="2.44"/><rect x="250.66" y="306.48" width="2.44" height="2.44"/><rect x="251.23" y="304.97" width="2.44" height="2.44"/><rect x="252.3" y="307.78" width="2.44" height="2.44"/><rect x="253.22" y="306.64" width="2.44" height="2.44"/></g>
<polyline points="159.46,305.22 159.7,305.22 159.94,305.22 160.17,305.22 160.41,305.23 160.64,305.23 160.88,305.23 161.11,305.23 161.35,305.23 161.58,305.23 161.82,305.23 162.06,305.24 162.29,305.24 162.53,305.24 162.76,305.24 163,305.24 163.23,305.24 163.47,305.25 163.7,305.25 163.94,305.25 164.17,305.25 164.41,305.25 164.65,305.25 164.88,305.26 165.12,305.26 165.35,305.26 165.59,305.26 165.82,305.27 166.06,305.27 166.29,305.27 166.53,305.27 166.77,305.27 167,305.28 167.24,305.28 167.47,305.28 167.71,305.28 167.94,305.29 168.18,305.29 168.41,305.29 168.65,305.29 168.89,305.3 169.12,305.3 169.36,305.3 169.59,305.31 169.83,305.31 170.06,305.31 170.3,305.31 170.53,305.32 170.77,305.32 171.01,305.32 171.24,305.33 171.48,305.33 171.71,305.34 171.95,305.34 172.18,305.34 172.42,305.35 172.65,305.35 172.89,305.35 173.13,305.36 173.36,305.36 173.6,305.37 173.83,305.37 174.07,305.38 174.3,305.38 174.54,305.38 174.77,305.39 175.01,305.39 175.25,305.4 175.48,305.4 175.72,305.41 175.95,305.41 176.19,305.42 176.42,305.42 176.66,305.43 176.89,305.43 177.13,305.44 177.37,305.44 177.6,305.45 177.84,305.45 178.07,305.46 178.31,305.46 178.54,305.47 178.78,305.47 179.01,305.48 179.25,305.48 179.49,305.48 179.72,305.49 179.96,305.49 180.19,305.49 180.43,305.5 180.66,305.5 180.9,305.5 181.13,305.5 181.37,305.5 181.61,305.5 181.84,305.5 182.08,305.5 182.31,305.49 182.55,305.49 182.78,305.48 183.02,305.48 183.25,305.47 183.49,305.46 183.73,305.45 183.96,305.43 184.2,305.42 184.43,305.41 184.67,305.39 184.9,305.37 185.14,305.35 185.37,305.33 185.61,305.3 185.84,305.28 186.08,305.25 186.32,305.22 186.55,305.19 186.79,305.16 187.02,305.13 187.26,305.09 187.49,305.06 187.73,305.02 187.96,304.98 188.2,304.94 188.44,304.9 188.67,304.86 188.91,304.83 189.14,304.79 189.38,304.75 189.61,304.71 189.85,304.68 190.08,304.65 190.32,304.61 190.56,304.59 190.79,304.56 191.03,304.54 191.26,304.52 191.5,304.51 191.73,304.5 191.97,304.5 192.2,304.51 192.44,304.52 192.68,304.53 192.91,304.56 193.15,304.6 193.38,304.64 193.62,304.69 193.85,304.76 194.09,304.83 194.32,304.92 194.56,305.01 194.8,305.12 195.03,305.25 195.27,305.38 195.5,305.54 195.74,305.7 195.97,305.89 196.21,306.09 196.44,306.3 196.68,306.54 196.92,306.79 197.15,307.07 197.39,307.37 197.62,307.69 197.86,308.04 198.09,308.41 198.33,308.81 198.56,309.25 198.8,309.71 199.04,310.22 199.27,310.76 199.51,311.34 199.74,311.97 199.98,312.65 200.21,313.39 200.45,314.19 200.68,315.06 200.92,316 201.16,317.02 201.39,318.14 201.63,319.35 201.86,320.66 202.1,322.1 202.33,323.66 202.57,325.36 202.8,327.2 203.04,329.19 203.28,331.34 203.51,333.63 203.75,336.08 203.98,338.66 204.22,341.34 204.45,344.1 204.69,346.88 204.92,349.61 205.16,352.21 205.39,354.6 205.63,356.67 205.87,358.34 206.1,359.51 206.34,360.12 206.57,360.12 206.81,359.51 207.04,358.34 207.28,356.67 207.51,354.6 207.75,352.21 207.99,349.61 208.22,346.88 208.46,344.1 208.69,341.34 208.93,338.66 209.16,336.08 209.4,333.63 209.63,331.34 209.87,329.19 210.11,327.2 210.34,325.36 210.58,323.66 210.81,322.1 211.05,320.66 211.28,319.35 211.52,318.14 211.75,317.02 211.99,316 212.23,315.06 212.46,314.19 212.7,313.39 212.93,312.65 213.17,311.97 213.4,311.34 213.64,310.76 213.87,310.22 214.11,309.71 214.35,309.25 214.58,308.81 214.82,308.41 215.05,308.04 215.29,307.69 215.52,307.37 215.76,307.07 215.99,306.79 216.23,306.54 216.47,306.3 216.7,306.09 216.94,305.89 217.17,305.7 217.41,305.54 217.64,305.38 217.88,305.25 218.11,305.12 218.35,305.01 218.59,304.92 218.82,304.83 219.06,304.76 219.29,304.69 219.53,304.64 219.76,304.6 220,304.56 220.23,304.53 220.47,304.52 220.71,304.51 220.94,304.5 221.18,304.5 221.41,304.51 221.65,304.52 221.88,304.54 222.12,304.56 222.35,304.59 222.59,304.61 222.83,304.65 223.06,304.68 223.3,304.71 223.53,304.75 223.77,304.79 224,304.83 224.24,304.86 224.47,304.9 224.71,304.94 224.94,304.98 225.18,305.02 225.42,305.06 225.65,305.09 225.89,305.13 226.12,305.16 226.36,305.19 226.59,305.22 226.83,305.25 227.06,305.28 227.3,305.3 227.54,305.33 227.77,305.35 228.01,305.37 228.24,305.39 228.48,305.41 228.71,305.42 228.95,305.43 229.18,305.45 229.42,305.46 229.66,305.47 229.89,305.48 230.13,305.48 230.36,305.49 230.6,305.49 230.83,305.5 231.07,305.5 231.3,305.5 231.54,305.5 231.78,305.5 232.01,305.5 232.25,305.5 232.48,305.5 232.72,305.49 232.95,305.49 233.19,305.49 233.42,305.48 233.66,305.48 233.9,305.48 234.13,305.47 234.37,305.47 234.6,305.46 234.84,305.46 235.07,305.45 235.31,305.45 235.54,305.44 235.78,305.44 236.02,305.43 236.25,305.43 236.49,305.42 236.72,305.42 236.96,305.41 237.19,305.41 237.43,305.4 237.66,305.4 237.9,305.39 238.14,305.39 238.37,305.38 238.61,305.38 238.84,305.38 239.08,305.37 239.31,305.37 239.55,305.36 239.78,305.36 240.02,305.35 240.26,305.35 240.49,305.35 240.73,305.34 240.96,305.34 241.2,305.34 241.43,305.33 241.67,305.33 241.9,305.32 242.14,305.32 242.38,305.32 242.61,305.31 242.85,305.31 243.08,305.31 243.32,305.31 243.55,305.3 243.79,305.3 244.02,305.3 244.26,305.29 244.49,305.29 244.73,305.29 244.97,305.29 245.2,305.28 245.44,305.28 245.67,305.28 245.91,305.28 246.14,305.27 246.38,305.27 246.61,305.27 246.85,305.27 247.09,305.27 247.32,305.26 247.56,305.26 247.79,305.26 248.03,305.26 248.26,305.25 248.5,305.25 248.73,305.25 248.97,305.25 249.21,305.25 249.44,305.25 249.68,305.24 249.91,305.24 250.15,305.24 250.38,305.24 250.62,305.24 250.85,305.24 251.09,305.23 251.33,305.23 251.56,305.23 251.8,305.23 252.03,305.23 252.27,305.23 252.5,305.23 252.74,305.22 252.97,305.22 253.21,305.22 253.45,305.22" fill="none" stroke="#ff3838" stroke-width="1.0" stroke-linejoin="round" stroke-linecap="round" />
<rect x="155" y="286.8" width="101.5" height="80" fill="none" stroke="#6e6e6e" stroke-width="0.9"/>
<text x="152" y="365.09" style="font-family:'Liberation Sans',sans-serif;font-size:6.4px;font-weight:bold" text-anchor="end" fill="#1c1c1c" stroke="#1c1c1c" stroke-width="0.32" >0.4</text>
<text x="152" y="346.31" style="font-family:'Liberation Sans',sans-serif;font-size:6.4px;font-weight:bold" text-anchor="end" fill="#1c1c1c" stroke="#1c1c1c" stroke-width="0.32" >0.6</text>
<text x="152" y="327.53" style="font-family:'Liberation Sans',sans-serif;font-size:6.4px;font-weight:bold" text-anchor="end" fill="#1c1c1c" stroke="#1c1c1c" stroke-width="0.32" >0.8</text>
<text x="152" y="308.75" style="font-family:'Liberation Sans',sans-serif;font-size:6.4px;font-weight:bold" text-anchor="end" fill="#1c1c1c" stroke="#1c1c1c" stroke-width="0.32" >1.0</text>
<text x="152" y="289.97" style="font-family:'Liberation Sans',sans-serif;font-size:6.4px;font-weight:bold" text-anchor="end" fill="#1c1c1c" stroke="#1c1c1c" stroke-width="0.32" >1.2</text>
<text x="159.46" y="374.2" style="font-family:'Liberation Sans',sans-serif;font-size:6.4px;font-weight:bold" text-anchor="middle" fill="#1c1c1c" stroke="#1c1c1c" stroke-width="0.32" >-20</text>
<text x="182.96" y="374.2" style="font-family:'Liberation Sans',sans-serif;font-size:6.4px;font-weight:bold" text-anchor="middle" fill="#1c1c1c" stroke="#1c1c1c" stroke-width="0.32" >-10</text>
<text x="206.45" y="374.2" style="font-family:'Liberation Sans',sans-serif;font-size:6.4px;font-weight:bold" text-anchor="middle" fill="#1c1c1c" stroke="#1c1c1c" stroke-width="0.32" >0</text>
<text x="229.95" y="374.2" style="font-family:'Liberation Sans',sans-serif;font-size:6.4px;font-weight:bold" text-anchor="middle" fill="#1c1c1c" stroke="#1c1c1c" stroke-width="0.32" >10</text>
<text x="253.45" y="374.2" style="font-family:'Liberation Sans',sans-serif;font-size:6.4px;font-weight:bold" text-anchor="middle" fill="#1c1c1c" stroke="#1c1c1c" stroke-width="0.32" >20</text>
<path d="M153,362.39H155M153.8,353H155M153,343.61H155M153.8,334.22H155M153,324.83H155M153.8,315.44H155M153,306.05H155M153.8,296.66H155M153,287.27H155M159.46,366.8V368.8M171.21,366.8V368M182.96,366.8V368.8M194.71,366.8V368M206.45,366.8V368.8M218.2,366.8V368M229.95,366.8V368.8M241.7,366.8V368M253.45,366.8V368.8" stroke="#6e6e6e" stroke-width="0.7" fill="none"/>
<text transform="translate(141.87,327) rotate(-90)" style="font-family:'Liberation Sans',sans-serif;font-size:6.3px;font-weight:bold" text-anchor="middle" fill="#1c1c1c" stroke="#1c1c1c" stroke-width="0.32">Normalized transmittance</text>
<text x="206" y="384.74" style="font-family:'Liberation Sans',sans-serif;font-size:6.5px;font-weight:bold" text-anchor="middle" fill="#1c1c1c" stroke="#1c1c1c" stroke-width="0.32" >Z (mm)</text>
<text x="157.6" y="295.7" style="font-family:'Liberation Sans',sans-serif;font-size:6.3px;font-weight:bold" text-anchor="start" fill="#1c1c1c" stroke="#1c1c1c" stroke-width="0.32" >(b)</text>
<text x="255" y="295.8" style="font-family:'Liberation Sans',sans-serif;font-size:6.5px;font-weight:bold" text-anchor="end" fill="#1c1c1c" stroke="#1c1c1c" stroke-width="0.32">0.3 GW/cm<tspan style="font-size:3.90px" dy="-2.2">2</tspan></text>
<rect x="211.8" y="292.2" width="2.4" height="2.4" fill="#111111"/>
<g fill="#111111"><rect x="31.03" y="465.45" width="2.44" height="2.44"/><rect x="31.64" y="464.87" width="2.44" height="2.44"/><rect x="32.97" y="464.16" width="2.44" height="2.44"/><rect x="34.08" y="466.01" width="2.44" height="2.44"/><rect x="34.52" y="467.57" width="2.44" height="2.44"/><rect x="35.4" y="466.06" width="2.44" height="2.44"/><rect x="35.64" y="465.84" width="2.44" height="2.44"/><rect x="37.01" y="465.49" width="2.44" height="2.44"/><rect x="38.35" y="467.59" width="2.44" height="2.44"/><rect x="39.05" y="464.6" width="2.44" height="2.44"/><rect x="39.71" y="467.36" width="2.44" height="2.44"/><rect x="39.77" y="466.8" width="2.44" height="2.44"/><rect x="41.51" y="464.35" width="2.44" height="2.44"/><rect x="42.27" y="466.6" width="2.44" height="2.44"/><rect x="42.25" y="466.34" width="2.44" height="2.44"/><rect x="43.61" y="465.28" width="2.44" height="2.44"/><rect x="43.68" y="465.48" width="2.44" height="2.44"/><rect x="44.6" y="466.87" width="2.44" height="2.44"/><rect x="45.64" y="467.02" width="2.44" height="2.44"/><rect x="46.25" y="465.83" width="2.44" height="2.44"/><rect x="47.77" y="468.12" width="2.44" height="2.44"/><rect x="48.64" y="465.56" width="2.44" height="2.44"/><rect x="48.88" y="466.35" width="2.44" height="2.44"/><rect x="49.65" y="465.91" width="2.44" height="2.44"/><rect x="50.21" y="467.5" width="2.44" height="2.44"/><rect x="50.98" y="466.76" width="2.44" height="2.44"/><rect x="52.53" y="465.51" width="2.44" height="2.44"/><rect x="53.2" y="468.28" width="2.44" height="2.44"/><rect x="53.36" y="466.69" width="2.44" height="2.44"/><rect x="54.66" y="466.76" width="2.44" height="2.44"/><rect x="55.37" y="464.22" width="2.44" height="2.44"/><rect x="56.7" y="463.55" width="2.44" height="2.44"/><rect x="57.35" y="465.58" width="2.44" height="2.44"/><rect x="58.02" y="466.06" width="2.44" height="2.44"/><rect x="58.76" y="467.27" width="2.44" height="2.44"/><rect x="60.04" y="466.71" width="2.44" height="2.44"/><rect x="60.88" y="466.36" width="2.44" height="2.44"/><rect x="60.91" y="467.78" width="2.44" height="2.44"/><rect x="61.6" y="467.11" width="2.44" height="2.44"/><rect x="63.06" y="467.2" width="2.44" height="2.44"/><rect x="63" y="468.6" width="2.44" height="2.44"/><rect x="64.16" y="468.86" width="2.44" height="2.44"/><rect x="64.61" y="467.07" width="2.44" height="2.44"/><rect x="65.71" y="468.61" width="2.44" height="2.44"/><rect x="66.22" y="471.03" width="2.44" height="2.44"/><rect x="67.28" y="468.64" width="2.44" height="2.44"/><rect x="68.68" y="467.5" width="2.44" height="2.44"/><rect x="69.62" y="468.25" width="2.44" height="2.44"/><rect x="70.28" y="465.39" width="2.44" height="2.44"/><rect x="70.81" y="470.11" width="2.44" height="2.44"/><rect x="71.68" y="466.46" width="2.44" height="2.44"/><rect x="72.18" y="468.52" width="2.44" height="2.44"/><rect x="72.75" y="467.22" width="2.44" height="2.44"/><rect x="73.87" y="463.6" width="2.44" height="2.44"/><rect x="83.14" y="467.11" width="2.44" height="2.44"/><rect x="83.9" y="469.4" width="2.44" height="2.44"/><rect x="84.57" y="467.5" width="2.44" height="2.44"/><rect x="85.56" y="470.96" width="2.44" height="2.44"/><rect x="86.16" y="467.3" width="2.44" height="2.44"/><rect x="87.34" y="469.54" width="2.44" height="2.44"/><rect x="87.4" y="466.76" width="2.44" height="2.44"/><rect x="88.68" y="467.29" width="2.44" height="2.44"/><rect x="89.74" y="467.79" width="2.44" height="2.44"/><rect x="89.81" y="468.31" width="2.44" height="2.44"/><rect x="90.94" y="468.17" width="2.44" height="2.44"/><rect x="91.45" y="466.43" width="2.44" height="2.44"/><rect x="92.37" y="465.04" width="2.44" height="2.44"/><rect x="92.71" y="465.61" width="2.44" height="2.44"/><rect x="93.45" y="468.09" width="2.44" height="2.44"/><rect x="95.13" y="468.2" width="2.44" height="2.44"/><rect x="95.57" y="467.12" width="2.44" height="2.44"/><rect x="96.57" y="465.86" width="2.44" height="2.44"/><rect x="97.51" y="466.84" width="2.44" height="2.44"/><rect x="97.93" y="462.58" width="2.44" height="2.44"/><rect x="98.68" y="467.06" width="2.44" height="2.44"/><rect x="99.24" y="466.74" width="2.44" height="2.44"/><rect x="100.79" y="463.59" width="2.44" height="2.44"/><rect x="101.64" y="462.43" width="2.44" height="2.44"/><rect x="102.32" y="466.64" width="2.44" height="2.44"/><rect x="103.29" y="464.58" width="2.44" height="2.44"/><rect x="103.83" y="465.2" width="2.44" height="2.44"/><rect x="104.69" y="463.3" width="2.44" height="2.44"/><rect x="104.89" y="466.54" width="2.44" height="2.44"/><rect x="106.38" y="466.01" width="2.44" height="2.44"/><rect x="106.66" y="466.73" width="2.44" height="2.44"/><rect x="107.59" y="467.03" width="2.44" height="2.44"/><rect x="108.25" y="467.26" width="2.44" height="2.44"/><rect x="109.35" y="467.1" width="2.44" height="2.44"/><rect x="110.26" y="465.35" width="2.44" height="2.44"/><rect x="110.96" y="464.87" width="2.44" height="2.44"/><rect x="111.46" y="465.86" width="2.44" height="2.44"/><rect x="112.15" y="464.36" width="2.44" height="2.44"/><rect x="113.69" y="465.55" width="2.44" height="2.44"/><rect x="113.85" y="465.02" width="2.44" height="2.44"/><rect x="114.81" y="470.11" width="2.44" height="2.44"/><rect x="115.21" y="465.9" width="2.44" height="2.44"/><rect x="116.26" y="466.72" width="2.44" height="2.44"/><rect x="116.8" y="465.53" width="2.44" height="2.44"/><rect x="117.91" y="468.15" width="2.44" height="2.44"/><rect x="119.15" y="466.28" width="2.44" height="2.44"/><rect x="120.27" y="464.99" width="2.44" height="2.44"/><rect x="120.66" y="465.08" width="2.44" height="2.44"/><rect x="121.04" y="466.55" width="2.44" height="2.44"/><rect x="122.3" y="468.74" width="2.44" height="2.44"/><rect x="123.07" y="468.43" width="2.44" height="2.44"/><rect x="124.1" y="466.19" width="2.44" height="2.44"/><rect x="124.56" y="462.46" width="2.44" height="2.44"/><rect x="125.81" y="467.63" width="2.44" height="2.44"/><rect x="126.03" y="466.2" width="2.44" height="2.44"/><rect x="126.67" y="464.59" width="2.44" height="2.44"/><rect x="77.74" y="428.06" width="2.44" height="2.44"/><rect x="77.03" y="433.43" width="2.44" height="2.44"/><rect x="78.69" y="442.37" width="2.44" height="2.44"/><rect x="76.08" y="444" width="2.44" height="2.44"/><rect x="79.88" y="457.01" width="2.44" height="2.44"/><rect x="81.07" y="463.51" width="2.44" height="2.44"/><rect x="84.87" y="470.83" width="2.44" height="2.44"/><rect x="55.64" y="470.02" width="2.44" height="2.44"/></g>
<polyline points="31.91,467.17 32.15,467.17 32.39,467.17 32.63,467.17 32.87,467.17 33.11,467.17 33.34,467.17 33.58,467.17 33.82,467.17 34.06,467.17 34.3,467.17 34.53,467.17 34.77,467.17 35.01,467.17 35.25,467.17 35.49,467.17 35.73,467.17 35.96,467.17 36.2,467.17 36.44,467.17 36.68,467.17 36.92,467.17 37.16,467.17 37.39,467.17 37.63,467.17 37.87,467.17 38.11,467.17 38.35,467.17 38.58,467.17 38.82,467.17 39.06,467.17 39.3,467.17 39.54,467.17 39.78,467.17 40.01,467.17 40.25,467.17 40.49,467.17 40.73,467.17 40.97,467.17 41.2,467.17 41.44,467.17 41.68,467.17 41.92,467.17 42.16,467.17 42.4,467.17 42.63,467.17 42.87,467.17 43.11,467.17 43.35,467.17 43.59,467.17 43.83,467.17 44.06,467.17 44.3,467.17 44.54,467.17 44.78,467.17 45.02,467.17 45.25,467.17 45.49,467.17 45.73,467.17 45.97,467.17 46.21,467.17 46.45,467.17 46.68,467.17 46.92,467.17 47.16,467.17 47.4,467.17 47.64,467.17 47.87,467.17 48.11,467.17 48.35,467.17 48.59,467.17 48.83,467.17 49.07,467.17 49.3,467.17 49.54,467.17 49.78,467.17 50.02,467.17 50.26,467.17 50.5,467.17 50.73,467.17 50.97,467.17 51.21,467.17 51.45,467.17 51.69,467.17 51.92,467.17 52.16,467.17 52.4,467.17 52.64,467.17 52.88,467.17 53.12,467.18 53.35,467.18 53.59,467.18 53.83,467.18 54.07,467.18 54.31,467.18 54.54,467.18 54.78,467.19 55.02,467.19 55.26,467.19 55.5,467.19 55.74,467.2 55.97,467.2 56.21,467.21 56.45,467.21 56.69,467.22 56.93,467.22 57.16,467.23 57.4,467.24 57.64,467.25 57.88,467.26 58.12,467.27 58.36,467.28 58.59,467.29 58.83,467.31 59.07,467.32 59.31,467.34 59.55,467.36 59.79,467.38 60.02,467.4 60.26,467.42 60.5,467.45 60.74,467.48 60.98,467.51 61.21,467.54 61.45,467.57 61.69,467.61 61.93,467.64 62.17,467.68 62.41,467.73 62.64,467.77 62.88,467.82 63.12,467.86 63.36,467.91 63.6,467.97 63.83,468.02 64.07,468.07 64.31,468.13 64.55,468.19 64.79,468.25 65.03,468.31 65.26,468.37 65.5,468.43 65.74,468.49 65.98,468.55 66.22,468.61 66.46,468.67 66.69,468.73 66.93,468.78 67.17,468.84 67.41,468.89 67.65,468.94 67.88,468.99 68.12,469.04 68.36,469.08 68.6,469.12 68.84,469.15 69.08,469.18 69.31,469.21 69.55,469.24 69.79,469.25 70.03,469.27 70.27,469.28 70.5,469.28 70.74,469.28 70.98,469.27 71.22,469.26 71.46,469.24 71.7,469.21 71.93,469.17 72.17,469.11 72.41,469.04 72.65,468.94 72.89,468.82 73.13,468.65 73.36,468.44 73.6,468.15 73.84,467.79 74.08,467.32 74.32,466.72 74.55,465.96 74.79,465.03 75.03,463.9 75.27,462.54 75.51,460.94 75.75,459.09 75.98,456.98 76.22,454.64 76.46,452.09 76.7,449.38 76.94,446.56 77.17,443.71 77.41,440.91 77.65,438.27 77.89,435.87 78.13,433.81 78.37,432.17 78.6,431.02 78.84,430.41 79.08,430.41 79.32,431.01 79.56,432.15 79.79,433.79 80.03,435.85 80.27,438.24 80.51,440.89 80.75,443.68 80.99,446.53 81.22,449.35 81.46,452.06 81.7,454.62 81.94,456.96 82.18,459.07 82.42,460.92 82.65,462.53 82.89,463.89 83.13,465.02 83.37,465.96 83.61,466.71 83.84,467.31 84.08,467.78 84.32,468.15 84.56,468.43 84.8,468.65 85.04,468.82 85.27,468.94 85.51,469.04 85.75,469.11 85.99,469.17 86.23,469.21 86.46,469.24 86.7,469.26 86.94,469.27 87.18,469.28 87.42,469.28 87.66,469.28 87.89,469.27 88.13,469.25 88.37,469.24 88.61,469.21 88.85,469.18 89.09,469.15 89.32,469.12 89.56,469.08 89.8,469.04 90.04,468.99 90.28,468.94 90.51,468.89 90.75,468.84 90.99,468.78 91.23,468.73 91.47,468.67 91.71,468.61 91.94,468.55 92.18,468.49 92.42,468.43 92.66,468.37 92.9,468.31 93.13,468.25 93.37,468.19 93.61,468.13 93.85,468.07 94.09,468.02 94.33,467.97 94.56,467.91 94.8,467.86 95.04,467.82 95.28,467.77 95.52,467.73 95.76,467.68 95.99,467.65 96.23,467.61 96.47,467.57 96.71,467.54 96.95,467.51 97.18,467.48 97.42,467.45 97.66,467.42 97.9,467.4 98.14,467.38 98.38,467.36 98.61,467.34 98.85,467.32 99.09,467.31 99.33,467.29 99.57,467.28 99.8,467.27 100.04,467.26 100.28,467.25 100.52,467.24 100.76,467.23 101,467.22 101.23,467.22 101.47,467.21 101.71,467.21 101.95,467.2 102.19,467.2 102.42,467.19 102.66,467.19 102.9,467.19 103.14,467.19 103.38,467.18 103.62,467.18 103.85,467.18 104.09,467.18 104.33,467.18 104.57,467.18 104.81,467.18 105.05,467.17 105.28,467.17 105.52,467.17 105.76,467.17 106,467.17 106.24,467.17 106.47,467.17 106.71,467.17 106.95,467.17 107.19,467.17 107.43,467.17 107.67,467.17 107.9,467.17 108.14,467.17 108.38,467.17 108.62,467.17 108.86,467.17 109.09,467.17 109.33,467.17 109.57,467.17 109.81,467.17 110.05,467.17 110.29,467.17 110.52,467.17 110.76,467.17 111,467.17 111.24,467.17 111.48,467.17 111.72,467.17 111.95,467.17 112.19,467.17 112.43,467.17 112.67,467.17 112.91,467.17 113.14,467.17 113.38,467.17 113.62,467.17 113.86,467.17 114.1,467.17 114.34,467.17 114.57,467.17 114.81,467.17 115.05,467.17 115.29,467.17 115.53,467.17 115.76,467.17 116,467.17 116.24,467.17 116.48,467.17 116.72,467.17 116.96,467.17 117.19,467.17 117.43,467.17 117.67,467.17 117.91,467.17 118.15,467.17 118.38,467.17 118.62,467.17 118.86,467.17 119.1,467.17 119.34,467.17 119.58,467.17 119.81,467.17 120.05,467.17 120.29,467.17 120.53,467.17 120.77,467.17 121.01,467.17 121.24,467.17 121.48,467.17 121.72,467.17 121.96,467.17 122.2,467.17 122.43,467.17 122.67,467.17 122.91,467.17 123.15,467.17 123.39,467.17 123.63,467.17 123.86,467.17 124.1,467.17 124.34,467.17 124.58,467.17 124.82,467.17 125.05,467.17 125.29,467.17 125.53,467.17 125.77,467.17 126.01,467.17 126.25,467.17 126.48,467.17 126.72,467.17 126.96,467.17" fill="none" stroke="#ff3838" stroke-width="1.0" stroke-linejoin="round" stroke-linecap="round" />
<rect x="27.4" y="394" width="103.6" height="80" fill="none" stroke="#6e6e6e" stroke-width="0.9"/>
<text x="24.4" y="469.06" style="font-family:'Liberation Sans',sans-serif;font-size:6.4px;font-weight:bold" text-anchor="end" fill="#1c1c1c" stroke="#1c1c1c" stroke-width="0.32" >1</text>
<text x="24.4" y="452.8" style="font-family:'Liberation Sans',sans-serif;font-size:6.4px;font-weight:bold" text-anchor="end" fill="#1c1c1c" stroke="#1c1c1c" stroke-width="0.32" >2</text>
<text x="24.4" y="436.54" style="font-family:'Liberation Sans',sans-serif;font-size:6.4px;font-weight:bold" text-anchor="end" fill="#1c1c1c" stroke="#1c1c1c" stroke-width="0.32" >3</text>
<text x="24.4" y="420.28" style="font-family:'Liberation Sans',sans-serif;font-size:6.4px;font-weight:bold" text-anchor="end" fill="#1c1c1c" stroke="#1c1c1c" stroke-width="0.32" >4</text>
<text x="24.4" y="404.02" style="font-family:'Liberation Sans',sans-serif;font-size:6.4px;font-weight:bold" text-anchor="end" fill="#1c1c1c" stroke="#1c1c1c" stroke-width="0.32" >5</text>
<text x="31.91" y="481.4" style="font-family:'Liberation Sans',sans-serif;font-size:6.4px;font-weight:bold" text-anchor="middle" fill="#1c1c1c" stroke="#1c1c1c" stroke-width="0.32" >-20</text>
<text x="55.68" y="481.4" style="font-family:'Liberation Sans',sans-serif;font-size:6.4px;font-weight:bold" text-anchor="middle" fill="#1c1c1c" stroke="#1c1c1c" stroke-width="0.32" >-10</text>
<text x="79.44" y="481.4" style="font-family:'Liberation Sans',sans-serif;font-size:6.4px;font-weight:bold" text-anchor="middle" fill="#1c1c1c" stroke="#1c1c1c" stroke-width="0.32" >0</text>
<text x="103.2" y="481.4" style="font-family:'Liberation Sans',sans-serif;font-size:6.4px;font-weight:bold" text-anchor="middle" fill="#1c1c1c" stroke="#1c1c1c" stroke-width="0.32" >10</text>
<text x="126.96" y="481.4" style="font-family:'Liberation Sans',sans-serif;font-size:6.4px;font-weight:bold" text-anchor="middle" fill="#1c1c1c" stroke="#1c1c1c" stroke-width="0.32" >20</text>
<path d="M25.4,466.36H27.4M26.2,458.23H27.4M25.4,450.1H27.4M26.2,441.97H27.4M25.4,433.84H27.4M26.2,425.71H27.4M25.4,417.58H27.4M26.2,409.45H27.4M25.4,401.32H27.4M31.91,474V476M43.8,474V475.2M55.68,474V476M67.56,474V475.2M79.44,474V476M91.32,474V475.2M103.2,474V476M115.08,474V475.2M126.96,474V476" stroke="#6e6e6e" stroke-width="0.7" fill="none"/>
<text transform="translate(18.98,434.3) rotate(-90)" style="font-family:'Liberation Sans',sans-serif;font-size:6.6px;font-weight:bold" text-anchor="middle" fill="#1c1c1c" stroke="#1c1c1c" stroke-width="0.32">PAZ scan</text>
<text x="79" y="491.34" style="font-family:'Liberation Sans',sans-serif;font-size:6.5px;font-weight:bold" text-anchor="middle" fill="#1c1c1c" stroke="#1c1c1c" stroke-width="0.32" >Z (mm)</text>
<text x="30" y="402.3" style="font-family:'Liberation Sans',sans-serif;font-size:6.3px;font-weight:bold" text-anchor="start" fill="#1c1c1c" stroke="#1c1c1c" stroke-width="0.32" >(c)</text>
<text x="127" y="403" style="font-family:'Liberation Sans',sans-serif;font-size:6.5px;font-weight:bold" text-anchor="end" fill="#1c1c1c" stroke="#1c1c1c" stroke-width="0.32">0.2 GW/cm<tspan style="font-size:3.90px" dy="-2.2">2</tspan></text>
<rect x="84.4" y="399.4" width="2.4" height="2.4" fill="#111111"/>
<g fill="#111111"><rect x="158.8" y="470.04" width="2.44" height="2.44"/><rect x="160.23" y="472.06" width="2.44" height="2.44"/><rect x="160.4" y="469.87" width="2.44" height="2.44"/><rect x="161.46" y="470.55" width="2.44" height="2.44"/><rect x="161.58" y="471.45" width="2.44" height="2.44"/><rect x="163.38" y="467.95" width="2.44" height="2.44"/><rect x="164.1" y="469.15" width="2.44" height="2.44"/><rect x="163.81" y="467.5" width="2.44" height="2.44"/><rect x="165.64" y="470.06" width="2.44" height="2.44"/><rect x="165.4" y="469.98" width="2.44" height="2.44"/><rect x="166.31" y="472.07" width="2.44" height="2.44"/><rect x="167.43" y="467.15" width="2.44" height="2.44"/><rect x="168.56" y="470.01" width="2.44" height="2.44"/><rect x="169.19" y="470" width="2.44" height="2.44"/><rect x="168.92" y="471.66" width="2.44" height="2.44"/><rect x="170.27" y="470.18" width="2.44" height="2.44"/><rect x="171.04" y="472.04" width="2.44" height="2.44"/><rect x="171.7" y="468.07" width="2.44" height="2.44"/><rect x="172.77" y="469.63" width="2.44" height="2.44"/><rect x="172.79" y="469.27" width="2.44" height="2.44"/><rect x="174.24" y="469.58" width="2.44" height="2.44"/><rect x="174.1" y="468.49" width="2.44" height="2.44"/><rect x="174.97" y="471.21" width="2.44" height="2.44"/><rect x="175.68" y="469.23" width="2.44" height="2.44"/><rect x="176.65" y="467.93" width="2.44" height="2.44"/><rect x="177.81" y="470.72" width="2.44" height="2.44"/><rect x="178.31" y="471.29" width="2.44" height="2.44"/><rect x="179.45" y="471.03" width="2.44" height="2.44"/><rect x="179.56" y="470.56" width="2.44" height="2.44"/><rect x="180.82" y="468.97" width="2.44" height="2.44"/><rect x="181.52" y="470.08" width="2.44" height="2.44"/><rect x="181.82" y="472.22" width="2.44" height="2.44"/><rect x="182.56" y="471.63" width="2.44" height="2.44"/><rect x="184.06" y="470.24" width="2.44" height="2.44"/><rect x="184.37" y="470.5" width="2.44" height="2.44"/><rect x="185.49" y="470.99" width="2.44" height="2.44"/><rect x="186.01" y="471.77" width="2.44" height="2.44"/><rect x="186.82" y="470.43" width="2.44" height="2.44"/><rect x="187.06" y="472.12" width="2.44" height="2.44"/><rect x="187.85" y="471.33" width="2.44" height="2.44"/><rect x="188.52" y="473.6" width="2.44" height="2.44"/><rect x="189.96" y="472.44" width="2.44" height="2.44"/><rect x="189.73" y="471.03" width="2.44" height="2.44"/><rect x="191.4" y="473.31" width="2.44" height="2.44"/><rect x="191.49" y="470.48" width="2.44" height="2.44"/><rect x="192.23" y="472.58" width="2.44" height="2.44"/><rect x="193.01" y="474.58" width="2.44" height="2.44"/><rect x="193.64" y="473.81" width="2.44" height="2.44"/><rect x="194.49" y="473.02" width="2.44" height="2.44"/><rect x="194.72" y="472.34" width="2.44" height="2.44"/><rect x="195.51" y="474.47" width="2.44" height="2.44"/><rect x="197.01" y="471.98" width="2.44" height="2.44"/><rect x="197.63" y="471.61" width="2.44" height="2.44"/><rect x="197.65" y="471.56" width="2.44" height="2.44"/><rect x="198.71" y="470.96" width="2.44" height="2.44"/><rect x="199.35" y="467.55" width="2.44" height="2.44"/><rect x="210.1" y="469.03" width="2.44" height="2.44"/><rect x="210.84" y="469.64" width="2.44" height="2.44"/><rect x="211.39" y="471.66" width="2.44" height="2.44"/><rect x="212.16" y="470.57" width="2.44" height="2.44"/><rect x="213.38" y="471.85" width="2.44" height="2.44"/><rect x="213.31" y="473.22" width="2.44" height="2.44"/><rect x="214.92" y="472.25" width="2.44" height="2.44"/><rect x="214.63" y="470.38" width="2.44" height="2.44"/><rect x="215.98" y="470.67" width="2.44" height="2.44"/><rect x="216.05" y="468.6" width="2.44" height="2.44"/><rect x="217.53" y="470.61" width="2.44" height="2.44"/><rect x="218.24" y="471.9" width="2.44" height="2.44"/><rect x="220.07" y="469.96" width="2.44" height="2.44"/><rect x="220.22" y="470.34" width="2.44" height="2.44"/><rect x="221.22" y="471" width="2.44" height="2.44"/><rect x="222.25" y="469.87" width="2.44" height="2.44"/><rect x="222.63" y="470.98" width="2.44" height="2.44"/><rect x="223.01" y="471.18" width="2.44" height="2.44"/><rect x="223.75" y="471.95" width="2.44" height="2.44"/><rect x="224.45" y="469.77" width="2.44" height="2.44"/><rect x="225.97" y="469.87" width="2.44" height="2.44"/><rect x="226.06" y="470.67" width="2.44" height="2.44"/><rect x="227.43" y="469.4" width="2.44" height="2.44"/><rect x="228.06" y="468.59" width="2.44" height="2.44"/><rect x="228.6" y="470.52" width="2.44" height="2.44"/><rect x="228.52" y="468.17" width="2.44" height="2.44"/><rect x="230.32" y="471.46" width="2.44" height="2.44"/><rect x="231.08" y="467.28" width="2.44" height="2.44"/><rect x="230.73" y="468.07" width="2.44" height="2.44"/><rect x="232.22" y="468.23" width="2.44" height="2.44"/><rect x="232.65" y="469.63" width="2.44" height="2.44"/><rect x="233.64" y="468.08" width="2.44" height="2.44"/><rect x="234.39" y="469.72" width="2.44" height="2.44"/><rect x="235.11" y="470.76" width="2.44" height="2.44"/><rect x="235.51" y="469.28" width="2.44" height="2.44"/><rect x="235.96" y="470.42" width="2.44" height="2.44"/><rect x="237.56" y="467.93" width="2.44" height="2.44"/><rect x="238.43" y="468.89" width="2.44" height="2.44"/><rect x="238.32" y="469.61" width="2.44" height="2.44"/><rect x="239.07" y="467.42" width="2.44" height="2.44"/><rect x="240" y="470.42" width="2.44" height="2.44"/><rect x="240.77" y="467.74" width="2.44" height="2.44"/><rect x="242.07" y="467.43" width="2.44" height="2.44"/><rect x="242" y="468.33" width="2.44" height="2.44"/><rect x="242.99" y="466.86" width="2.44" height="2.44"/><rect x="244" y="468.2" width="2.44" height="2.44"/><rect x="244.58" y="469.88" width="2.44" height="2.44"/><rect x="245.1" y="468.93" width="2.44" height="2.44"/><rect x="246.36" y="468.31" width="2.44" height="2.44"/><rect x="246.34" y="468" width="2.44" height="2.44"/><rect x="247.14" y="470.54" width="2.44" height="2.44"/><rect x="248.13" y="469.73" width="2.44" height="2.44"/><rect x="249.32" y="465.18" width="2.44" height="2.44"/><rect x="249.42" y="468.47" width="2.44" height="2.44"/><rect x="249.99" y="469.67" width="2.44" height="2.44"/><rect x="251.69" y="468.67" width="2.44" height="2.44"/><rect x="251.48" y="469.21" width="2.44" height="2.44"/><rect x="252.78" y="468.8" width="2.44" height="2.44"/><rect x="253.14" y="467.78" width="2.44" height="2.44"/><rect x="254.28" y="467.57" width="2.44" height="2.44"/><rect x="204.54" y="407.59" width="2.44" height="2.44"/><rect x="205.49" y="410.82" width="2.44" height="2.44"/><rect x="206.43" y="417.29" width="2.44" height="2.44"/><rect x="203.36" y="438.29" width="2.44" height="2.44"/><rect x="202.18" y="453.64" width="2.44" height="2.44"/><rect x="208.09" y="456.87" width="2.44" height="2.44"/><rect x="208.79" y="464.95" width="2.44" height="2.44"/><rect x="200.53" y="468.19" width="2.44" height="2.44"/><rect x="209.97" y="468.19" width="2.44" height="2.44"/></g>
<polyline points="159.72,471.02 159.96,471.02 160.2,471.02 160.43,471.02 160.67,471.02 160.91,471.02 161.14,471.02 161.38,471.02 161.62,471.02 161.85,471.02 162.09,471.02 162.33,471.02 162.56,471.02 162.8,471.02 163.04,471.02 163.27,471.02 163.51,471.02 163.75,471.02 163.98,471.02 164.22,471.02 164.46,471.02 164.69,471.02 164.93,471.02 165.17,471.02 165.4,471.02 165.64,471.02 165.88,471.02 166.11,471.02 166.35,471.02 166.59,471.02 166.82,471.02 167.06,471.02 167.3,471.02 167.53,471.02 167.77,471.02 168.01,471.02 168.24,471.02 168.48,471.02 168.72,471.02 168.95,471.02 169.19,471.02 169.43,471.02 169.66,471.02 169.9,471.02 170.14,471.02 170.37,471.02 170.61,471.02 170.85,471.02 171.08,471.02 171.32,471.02 171.56,471.02 171.79,471.02 172.03,471.02 172.27,471.02 172.5,471.02 172.74,471.02 172.98,471.02 173.21,471.02 173.45,471.02 173.69,471.02 173.92,471.02 174.16,471.02 174.4,471.03 174.63,471.03 174.87,471.03 175.11,471.03 175.34,471.03 175.58,471.03 175.82,471.03 176.05,471.03 176.29,471.03 176.53,471.03 176.76,471.04 177,471.04 177.24,471.04 177.47,471.04 177.71,471.05 177.95,471.05 178.19,471.05 178.42,471.06 178.66,471.06 178.9,471.07 179.13,471.07 179.37,471.08 179.61,471.08 179.84,471.09 180.08,471.1 180.32,471.11 180.55,471.12 180.79,471.13 181.03,471.14 181.26,471.15 181.5,471.17 181.74,471.18 181.97,471.2 182.21,471.21 182.45,471.23 182.68,471.25 182.92,471.27 183.16,471.29 183.39,471.32 183.63,471.34 183.87,471.37 184.1,471.4 184.34,471.43 184.58,471.46 184.81,471.49 185.05,471.53 185.29,471.57 185.52,471.61 185.76,471.65 186,471.69 186.23,471.73 186.47,471.78 186.71,471.83 186.94,471.88 187.18,471.93 187.42,471.98 187.65,472.03 187.89,472.09 188.13,472.14 188.36,472.2 188.6,472.26 188.84,472.32 189.07,472.38 189.31,472.44 189.55,472.5 189.78,472.55 190.02,472.61 190.26,472.67 190.49,472.73 190.73,472.79 190.97,472.84 191.2,472.9 191.44,472.95 191.68,473.01 191.91,473.06 192.15,473.1 192.39,473.15 192.62,473.19 192.86,473.23 193.1,473.27 193.33,473.3 193.57,473.33 193.81,473.36 194.04,473.38 194.28,473.4 194.52,473.42 194.75,473.43 194.99,473.44 195.23,473.44 195.46,473.44 195.7,473.44 195.94,473.43 196.17,473.42 196.41,473.4 196.65,473.38 196.88,473.35 197.12,473.31 197.36,473.27 197.59,473.22 197.83,473.16 198.07,473.08 198.3,472.98 198.54,472.86 198.78,472.71 199.01,472.52 199.25,472.28 199.49,471.98 199.73,471.6 199.96,471.13 200.2,470.54 200.44,469.81 200.67,468.92 200.91,467.84 201.15,466.55 201.38,465.02 201.62,463.23 201.86,461.16 202.09,458.8 202.33,456.13 202.57,453.18 202.8,449.96 203.04,446.48 203.28,442.81 203.51,438.99 203.75,435.09 203.99,431.2 204.22,427.39 204.46,423.78 204.7,420.45 204.93,417.49 205.17,415 205.41,413.05 205.64,411.7 205.88,411 206.12,410.99 206.35,411.68 206.59,413.02 206.83,414.96 207.06,417.44 207.3,420.38 207.54,423.71 207.77,427.32 208.01,431.12 208.25,435.01 208.48,438.91 208.72,442.73 208.96,446.41 209.19,449.89 209.43,453.12 209.67,456.08 209.9,458.75 210.14,461.12 210.38,463.19 210.61,464.99 210.85,466.53 211.09,467.82 211.32,468.9 211.56,469.8 211.8,470.53 212.03,471.12 212.27,471.59 212.51,471.97 212.74,472.28 212.98,472.52 213.22,472.71 213.45,472.86 213.69,472.98 213.93,473.08 214.16,473.15 214.4,473.22 214.64,473.27 214.87,473.31 215.11,473.35 215.35,473.38 215.58,473.4 215.82,473.42 216.06,473.43 216.29,473.44 216.53,473.44 216.77,473.44 217,473.44 217.24,473.43 217.48,473.42 217.71,473.4 217.95,473.38 218.19,473.36 218.42,473.33 218.66,473.3 218.9,473.27 219.13,473.23 219.37,473.19 219.61,473.15 219.84,473.1 220.08,473.06 220.32,473.01 220.55,472.95 220.79,472.9 221.03,472.85 221.26,472.79 221.5,472.73 221.74,472.67 221.98,472.62 222.21,472.56 222.45,472.5 222.69,472.44 222.92,472.38 223.16,472.32 223.4,472.26 223.63,472.2 223.87,472.15 224.11,472.09 224.34,472.03 224.58,471.98 224.82,471.93 225.05,471.88 225.29,471.83 225.53,471.78 225.76,471.74 226,471.69 226.24,471.65 226.47,471.61 226.71,471.57 226.95,471.53 227.18,471.5 227.42,471.46 227.66,471.43 227.89,471.4 228.13,471.37 228.37,471.34 228.6,471.32 228.84,471.29 229.08,471.27 229.31,471.25 229.55,471.23 229.79,471.21 230.02,471.2 230.26,471.18 230.5,471.17 230.73,471.15 230.97,471.14 231.21,471.13 231.44,471.12 231.68,471.11 231.92,471.1 232.15,471.09 232.39,471.09 232.63,471.08 232.86,471.07 233.1,471.07 233.34,471.06 233.57,471.06 233.81,471.05 234.05,471.05 234.28,471.05 234.52,471.04 234.76,471.04 234.99,471.04 235.23,471.04 235.47,471.03 235.7,471.03 235.94,471.03 236.18,471.03 236.41,471.03 236.65,471.03 236.89,471.03 237.12,471.03 237.36,471.03 237.6,471.03 237.83,471.02 238.07,471.02 238.31,471.02 238.54,471.02 238.78,471.02 239.02,471.02 239.25,471.02 239.49,471.02 239.73,471.02 239.96,471.02 240.2,471.02 240.44,471.02 240.67,471.02 240.91,471.02 241.15,471.02 241.38,471.02 241.62,471.02 241.86,471.02 242.09,471.02 242.33,471.02 242.57,471.02 242.8,471.02 243.04,471.02 243.28,471.02 243.52,471.02 243.75,471.02 243.99,471.02 244.23,471.02 244.46,471.02 244.7,471.02 244.94,471.02 245.17,471.02 245.41,471.02 245.65,471.02 245.88,471.02 246.12,471.02 246.36,471.02 246.59,471.02 246.83,471.02 247.07,471.02 247.3,471.02 247.54,471.02 247.78,471.02 248.01,471.02 248.25,471.02 248.49,471.02 248.72,471.02 248.96,471.02 249.2,471.02 249.43,471.02 249.67,471.02 249.91,471.02 250.14,471.02 250.38,471.02 250.62,471.02 250.85,471.02 251.09,471.02 251.33,471.02 251.56,471.02 251.8,471.02 252.04,471.02 252.27,471.02 252.51,471.02 252.75,471.02 252.98,471.02 253.22,471.02 253.46,471.02 253.69,471.02 253.93,471.02 254.17,471.02" fill="none" stroke="#ff3838" stroke-width="1.0" stroke-linejoin="round" stroke-linecap="round" />
<rect x="155" y="395.4" width="102" height="81.6" fill="none" stroke="#6e6e6e" stroke-width="0.9"/>
<text x="152" y="471.3" style="font-family:'Liberation Sans',sans-serif;font-size:6.4px;font-weight:bold" text-anchor="end" fill="#1c1c1c" stroke="#1c1c1c" stroke-width="0.32" >1</text>
<text x="152" y="455.14" style="font-family:'Liberation Sans',sans-serif;font-size:6.4px;font-weight:bold" text-anchor="end" fill="#1c1c1c" stroke="#1c1c1c" stroke-width="0.32" >2</text>
<text x="152" y="438.98" style="font-family:'Liberation Sans',sans-serif;font-size:6.4px;font-weight:bold" text-anchor="end" fill="#1c1c1c" stroke="#1c1c1c" stroke-width="0.32" >3</text>
<text x="152" y="422.82" style="font-family:'Liberation Sans',sans-serif;font-size:6.4px;font-weight:bold" text-anchor="end" fill="#1c1c1c" stroke="#1c1c1c" stroke-width="0.32" >4</text>
<text x="152" y="406.66" style="font-family:'Liberation Sans',sans-serif;font-size:6.4px;font-weight:bold" text-anchor="end" fill="#1c1c1c" stroke="#1c1c1c" stroke-width="0.32" >5</text>
<text x="159.72" y="484.4" style="font-family:'Liberation Sans',sans-serif;font-size:6.4px;font-weight:bold" text-anchor="middle" fill="#1c1c1c" stroke="#1c1c1c" stroke-width="0.32" >-20</text>
<text x="183.33" y="484.4" style="font-family:'Liberation Sans',sans-serif;font-size:6.4px;font-weight:bold" text-anchor="middle" fill="#1c1c1c" stroke="#1c1c1c" stroke-width="0.32" >-10</text>
<text x="206.94" y="484.4" style="font-family:'Liberation Sans',sans-serif;font-size:6.4px;font-weight:bold" text-anchor="middle" fill="#1c1c1c" stroke="#1c1c1c" stroke-width="0.32" >0</text>
<text x="230.56" y="484.4" style="font-family:'Liberation Sans',sans-serif;font-size:6.4px;font-weight:bold" text-anchor="middle" fill="#1c1c1c" stroke="#1c1c1c" stroke-width="0.32" >10</text>
<text x="254.17" y="484.4" style="font-family:'Liberation Sans',sans-serif;font-size:6.4px;font-weight:bold" text-anchor="middle" fill="#1c1c1c" stroke="#1c1c1c" stroke-width="0.32" >20</text>
<path d="M153,468.6H155M153.8,460.52H155M153,452.44H155M153.8,444.36H155M153,436.28H155M153.8,428.2H155M153,420.12H155M153.8,412.04H155M153,403.96H155M159.72,477V479M171.53,477V478.2M183.33,477V479M195.14,477V478.2M206.94,477V479M218.75,477V478.2M230.56,477V479M242.36,477V478.2M254.17,477V479" stroke="#6e6e6e" stroke-width="0.7" fill="none"/>
<text transform="translate(146.98,436.5) rotate(-90)" style="font-family:'Liberation Sans',sans-serif;font-size:6.6px;font-weight:bold" text-anchor="middle" fill="#1c1c1c" stroke="#1c1c1c" stroke-width="0.32">PAZ scan</text>
<text x="207" y="492.64" style="font-family:'Liberation Sans',sans-serif;font-size:6.5px;font-weight:bold" text-anchor="middle" fill="#1c1c1c" stroke="#1c1c1c" stroke-width="0.32" >Z (mm)</text>
<text x="158" y="404.7" style="font-family:'Liberation Sans',sans-serif;font-size:6.3px;font-weight:bold" text-anchor="start" fill="#1c1c1c" stroke="#1c1c1c" stroke-width="0.32" >(d)</text>
<text x="255" y="404.8" style="font-family:'Liberation Sans',sans-serif;font-size:6.5px;font-weight:bold" text-anchor="end" fill="#1c1c1c" stroke="#1c1c1c" stroke-width="0.32">0.3 GW/cm<tspan style="font-size:3.90px" dy="-2.2">2</tspan></text>
<rect x="212.4" y="401.2" width="2.4" height="2.4" fill="#111111"/>
<clipPath id="c1"><rect x="306.8" y="327.4" width="86.7" height="118.6"/></clipPath>
<line x1="306.8" y1="396.58" x2="393.5" y2="396.58" stroke="#8a8a8a" stroke-width="0.8" stroke-dasharray="1.2,1.2"/>
<g clip-path="url(#c1)"><polyline points="344.95,321.47 345.22,322.02 345.49,322.57 345.77,323.11 346.04,323.66 346.31,324.2 346.58,324.74" fill="none" stroke="#1464a5" stroke-width="2.0" stroke-linejoin="round" stroke-linecap="round" /><polyline points="346.58,324.74 346.86,325.28 347.13,325.82 347.4,326.35 347.68,326.87 347.95,327.4 348.22,327.91" fill="none" stroke="#1464a5" stroke-width="2.0" stroke-linejoin="round" stroke-linecap="round" /><polyline points="348.22,327.91 348.49,328.42 348.77,328.92 349.04,329.42 349.31,329.91 349.58,330.39 349.86,330.86" fill="none" stroke="#1464a5" stroke-width="2.0" stroke-linejoin="round" stroke-linecap="round" /><polyline points="349.86,330.86 350.13,331.32 350.4,331.77 350.68,332.22 350.95,332.65 351.22,333.07 351.49,333.48" fill="none" stroke="#1464a5" stroke-width="2.0" stroke-linejoin="round" stroke-linecap="round" /><polyline points="351.49,333.48 351.77,333.87 352.04,334.25 352.31,334.62 352.59,334.97 352.86,335.31 353.13,335.63" fill="none" stroke="#1464a5" stroke-width="2.0" stroke-linejoin="round" stroke-linecap="round" /><polyline points="353.13,335.63 353.4,335.93 353.68,336.22 353.95,336.49 354.22,336.74 354.49,336.97 354.77,337.18" fill="none" stroke="#1464a5" stroke-width="2.0" stroke-linejoin="round" stroke-linecap="round" /><polyline points="354.77,337.18 355.04,337.37 355.31,337.54 355.59,337.69 355.86,337.81 356.13,337.91 356.4,337.99" fill="none" stroke="#1464a5" stroke-width="2.0" stroke-linejoin="round" stroke-linecap="round" /><polyline points="356.4,337.99 356.68,338.04 356.95,338.07 357.22,338.07 357.5,338.05 357.77,338 358.04,337.92" fill="none" stroke="#1464a5" stroke-width="2.0" stroke-linejoin="round" stroke-linecap="round" /><polyline points="358.04,337.92 358.31,337.82 358.59,337.7 358.86,337.55 359.13,337.39 359.4,337.2 359.68,336.98" fill="none" stroke="#1464a5" stroke-width="2.0" stroke-linejoin="round" stroke-linecap="round" /><polyline points="359.68,336.98 359.95,336.75 360.22,336.5 360.5,336.23 360.77,335.95 361.04,335.64 361.31,335.32" fill="none" stroke="#1464a5" stroke-width="2.0" stroke-linejoin="round" stroke-linecap="round" /><polyline points="361.31,335.32 361.59,334.98 361.86,334.63 362.13,334.26 362.4,333.88 362.68,333.48 362.95,333.07" fill="none" stroke="#1464a5" stroke-width="2.0" stroke-linejoin="round" stroke-linecap="round" /><polyline points="362.95,333.07 363.22,332.65 363.5,332.22 363.77,331.77 364.04,331.32 364.31,330.86 364.59,330.39" fill="none" stroke="#1464a5" stroke-width="2.0" stroke-linejoin="round" stroke-linecap="round" /><polyline points="364.59,330.39 364.86,329.9 365.13,329.42 365.41,328.92 365.68,328.42 365.95,327.91 366.22,327.39" fill="none" stroke="#1464a5" stroke-width="2.0" stroke-linejoin="round" stroke-linecap="round" /><polyline points="366.22,327.39 366.5,326.87 366.77,326.35 367.04,325.82 367.31,325.28 367.59,324.74 367.86,324.2" fill="none" stroke="#1464a5" stroke-width="2.0" stroke-linejoin="round" stroke-linecap="round" /><polyline points="367.86,324.2 368.13,323.66 368.41,323.11 368.68,322.57 368.95,322.02 369.22,321.47" fill="none" stroke="#1464a5" stroke-width="2.0" stroke-linejoin="round" stroke-linecap="round" /><polyline points="312.87,321.47 313.1,321.76 313.34,322.06 313.57,322.35 313.8,322.64 314.04,322.93 314.27,323.22" fill="none" stroke="#da7424" stroke-width="1.2" stroke-linejoin="round" stroke-linecap="round" /><polyline points="314.27,323.22 314.51,323.51 314.74,323.79 314.97,324.07 315.21,324.35 315.44,324.63 315.67,324.9" fill="none" stroke="#da7424" stroke-width="1.2" stroke-linejoin="round" stroke-linecap="round" /><polyline points="315.67,324.9 315.91,325.17 316.14,325.43 316.38,325.69 316.61,325.94 316.84,326.19 317.08,326.44" fill="none" stroke="#da7424" stroke-width="1.2" stroke-linejoin="round" stroke-linecap="round" /><polyline points="317.08,326.44 317.31,326.67 317.54,326.91 317.78,327.13 318.01,327.35 318.25,327.56 318.48,327.76" fill="none" stroke="#da7424" stroke-width="1.2" stroke-linejoin="round" stroke-linecap="round" /><polyline points="318.48,327.76 318.71,327.95 318.95,328.14 319.18,328.32 319.42,328.49 319.65,328.66 319.88,328.82" fill="none" stroke="#da7424" stroke-width="1.2" stroke-linejoin="round" stroke-linecap="round" /><polyline points="319.88,328.82 320.12,328.96 320.35,329.1 320.58,329.24 320.82,329.36 321.05,329.47 321.29,329.58" fill="none" stroke="#da7424" stroke-width="1.2" stroke-linejoin="round" stroke-linecap="round" /><polyline points="321.29,329.58 321.52,329.68 321.75,329.77 321.99,329.85 322.22,329.92 322.45,329.98 322.69,330.04" fill="none" stroke="#da7424" stroke-width="1.2" stroke-linejoin="round" stroke-linecap="round" /><polyline points="322.69,330.04 322.92,330.08 323.16,330.12 323.39,330.14 323.62,330.16 323.86,330.17 324.09,330.17" fill="none" stroke="#da7424" stroke-width="1.2" stroke-linejoin="round" stroke-linecap="round" /><polyline points="324.09,330.17 324.33,330.15 324.56,330.13 324.79,330.1 325.03,330.06 325.26,330.01 325.49,329.95" fill="none" stroke="#da7424" stroke-width="1.2" stroke-linejoin="round" stroke-linecap="round" /><polyline points="325.49,329.95 325.73,329.88 325.96,329.79 326.2,329.7 326.43,329.6 326.66,329.49 326.9,329.36" fill="none" stroke="#da7424" stroke-width="1.2" stroke-linejoin="round" stroke-linecap="round" /><polyline points="326.9,329.36 327.13,329.23 327.36,329.08 327.6,328.92 327.83,328.76 328.07,328.58 328.3,328.39" fill="none" stroke="#da7424" stroke-width="1.2" stroke-linejoin="round" stroke-linecap="round" /><polyline points="328.3,328.39 328.53,328.19 328.77,327.97 329,327.75 329.23,327.51 329.47,327.26 329.7,327.01" fill="none" stroke="#da7424" stroke-width="1.2" stroke-linejoin="round" stroke-linecap="round" /><polyline points="329.7,327.01 329.94,326.74 330.17,326.46 330.4,326.17 330.64,325.87 330.87,325.56 331.11,325.25" fill="none" stroke="#da7424" stroke-width="1.2" stroke-linejoin="round" stroke-linecap="round" /><polyline points="331.11,325.25 331.34,324.93 331.57,324.6 331.81,324.26 332.04,323.93 332.27,323.58 332.51,323.24" fill="none" stroke="#da7424" stroke-width="1.2" stroke-linejoin="round" stroke-linecap="round" /><polyline points="332.51,323.24 332.74,322.89 332.98,322.54 333.21,322.18 333.44,321.83 333.68,321.47" fill="none" stroke="#da7424" stroke-width="1.2" stroke-linejoin="round" stroke-linecap="round" /><polyline points="315.47,321.47 315.66,321.72 315.86,321.96 316.05,322.21 316.25,322.46 316.44,322.7 316.64,322.94" fill="none" stroke="#c8a532" stroke-width="1.0" stroke-linejoin="round" stroke-linecap="round" /><polyline points="316.64,322.94 316.83,323.18 317.03,323.42 317.22,323.66 317.42,323.89 317.61,324.12 317.81,324.35" fill="none" stroke="#c8a532" stroke-width="1.0" stroke-linejoin="round" stroke-linecap="round" /><polyline points="317.81,324.35 318,324.57 318.2,324.79 318.39,325.01 318.59,325.22 318.78,325.43 318.98,325.63" fill="none" stroke="#c8a532" stroke-width="1.0" stroke-linejoin="round" stroke-linecap="round" /><polyline points="318.98,325.63 319.17,325.82 319.37,326.01 319.56,326.19 319.76,326.37 319.95,326.54 320.15,326.7" fill="none" stroke="#c8a532" stroke-width="1.0" stroke-linejoin="round" stroke-linecap="round" /><polyline points="320.15,326.7 320.34,326.86 320.54,327.01 320.73,327.15 320.93,327.28 321.12,327.41 321.31,327.53" fill="none" stroke="#c8a532" stroke-width="1.0" stroke-linejoin="round" stroke-linecap="round" /><polyline points="321.31,327.53 321.51,327.64 321.7,327.74 321.9,327.84 322.09,327.93 322.29,328.01 322.48,328.09" fill="none" stroke="#c8a532" stroke-width="1.0" stroke-linejoin="round" stroke-linecap="round" /><polyline points="322.48,328.09 322.68,328.15 322.87,328.21 323.07,328.26 323.26,328.3 323.46,328.34 323.65,328.36" fill="none" stroke="#c8a532" stroke-width="1.0" stroke-linejoin="round" stroke-linecap="round" /><polyline points="323.65,328.36 323.85,328.38 324.04,328.39 324.24,328.39 324.43,328.38 324.63,328.36 324.82,328.34" fill="none" stroke="#c8a532" stroke-width="1.0" stroke-linejoin="round" stroke-linecap="round" /><polyline points="324.82,328.34 325.02,328.3 325.21,328.26 325.41,328.21 325.6,328.15 325.8,328.09 325.99,328.01" fill="none" stroke="#c8a532" stroke-width="1.0" stroke-linejoin="round" stroke-linecap="round" /><polyline points="325.99,328.01 326.19,327.93 326.38,327.84 326.58,327.74 326.77,327.64 326.97,327.53 327.16,327.41" fill="none" stroke="#c8a532" stroke-width="1.0" stroke-linejoin="round" stroke-linecap="round" /><polyline points="327.16,327.41 327.35,327.28 327.55,327.15 327.74,327.01 327.94,326.86 328.13,326.7 328.33,326.54" fill="none" stroke="#c8a532" stroke-width="1.0" stroke-linejoin="round" stroke-linecap="round" /><polyline points="328.33,326.54 328.52,326.37 328.72,326.19 328.91,326.01 329.11,325.82 329.3,325.63 329.5,325.43" fill="none" stroke="#c8a532" stroke-width="1.0" stroke-linejoin="round" stroke-linecap="round" /><polyline points="329.5,325.43 329.69,325.22 329.89,325.01 330.08,324.79 330.28,324.57 330.47,324.35 330.67,324.12" fill="none" stroke="#c8a532" stroke-width="1.0" stroke-linejoin="round" stroke-linecap="round" /><polyline points="330.67,324.12 330.86,323.89 331.06,323.66 331.25,323.42 331.45,323.18 331.64,322.94 331.84,322.7" fill="none" stroke="#c8a532" stroke-width="1.0" stroke-linejoin="round" stroke-linecap="round" /><polyline points="331.84,322.7 332.03,322.46 332.23,322.21 332.42,321.96 332.62,321.72 332.81,321.47" fill="none" stroke="#c8a532" stroke-width="1.0" stroke-linejoin="round" stroke-linecap="round" /><polyline points="306.8,352.9 307.77,352.93 308.75,353.04 309.72,353.2 310.7,353.41 311.67,353.66 312.64,353.94" fill="none" stroke="#88b23f" stroke-width="1.5" stroke-linejoin="round" stroke-linecap="round" /><polyline points="312.64,353.94 313.62,354.25 314.59,354.58 315.57,354.91 316.54,355.24 317.52,355.56 318.49,355.84" fill="none" stroke="#91b33d" stroke-width="1.5" stroke-linejoin="round" stroke-linecap="round" /><polyline points="318.49,355.84 319.46,356.08 320.44,356.26 321.41,356.35 322.39,356.36 323.36,356.29 324.33,356.18" fill="none" stroke="#97b43c" stroke-width="1.5" stroke-linejoin="round" stroke-linecap="round" /><polyline points="324.33,356.18 325.31,356.04 326.28,355.91 327.26,355.81 328.23,355.76 329.21,355.79 330.18,355.89" fill="none" stroke="#9bb43b" stroke-width="1.5" stroke-linejoin="round" stroke-linecap="round" /><polyline points="330.18,355.89 331.15,356.06 332.13,356.3 333.1,356.6 334.08,356.97 335.05,357.4 336.02,357.9" fill="none" stroke="#9eb43b" stroke-width="1.5" stroke-linejoin="round" stroke-linecap="round" /><polyline points="336.02,357.9 337,358.45 337.97,359.05 338.95,359.7 339.92,360.39 340.9,361.1 341.87,361.83" fill="none" stroke="#a1b43a" stroke-width="1.5" stroke-linejoin="round" stroke-linecap="round" /><polyline points="341.87,361.83 342.84,362.57 343.82,363.31 344.79,364.04 345.77,364.74 346.74,365.42 347.71,366.05" fill="none" stroke="#a4b43a" stroke-width="1.5" stroke-linejoin="round" stroke-linecap="round" /><polyline points="347.71,366.05 348.69,366.63 349.66,367.16 350.64,367.64 351.61,368.05 352.59,368.4 353.56,368.69" fill="none" stroke="#a7b43a" stroke-width="1.5" stroke-linejoin="round" stroke-linecap="round" /><polyline points="353.56,368.69 354.53,368.9 355.51,369.04 356.48,369.1 357.46,369.09 358.43,368.98 359.4,368.78" fill="none" stroke="#a4b43a" stroke-width="1.5" stroke-linejoin="round" stroke-linecap="round" /><polyline points="359.4,368.78 360.38,368.47 361.35,368.05 362.33,367.5 363.3,366.82 364.28,366.01 365.25,365.09" fill="none" stroke="#a1b43a" stroke-width="1.5" stroke-linejoin="round" stroke-linecap="round" /><polyline points="365.25,365.09 366.22,364.11 367.2,363.09 368.17,362.07 369.15,361.08 370.12,360.15 371.09,359.3" fill="none" stroke="#9db43b" stroke-width="1.5" stroke-linejoin="round" stroke-linecap="round" /><polyline points="371.09,359.3 372.07,358.5 373.04,357.77 374.02,357.11 374.99,356.5 375.97,355.95 376.94,355.46" fill="none" stroke="#9ab43b" stroke-width="1.5" stroke-linejoin="round" stroke-linecap="round" /><polyline points="376.94,355.46 377.91,355.02 378.89,354.63 379.86,354.29 380.84,354 381.81,353.76 382.78,353.55" fill="none" stroke="#97b43c" stroke-width="1.5" stroke-linejoin="round" stroke-linecap="round" /><polyline points="382.78,353.55 383.76,353.38 384.73,353.24 385.71,353.13 386.68,353.05 387.66,352.99 388.63,352.95" fill="none" stroke="#8fb33d" stroke-width="1.5" stroke-linejoin="round" stroke-linecap="round" /><polyline points="388.63,352.95 389.6,352.92 390.58,352.91 391.55,352.9 392.53,352.9 393.5,352.9" fill="none" stroke="#88b23f" stroke-width="1.5" stroke-linejoin="round" stroke-linecap="round" /><polyline points="306.8,362.39 307.77,362.34 308.75,362.2 309.72,361.99 310.7,361.72 311.67,361.4 312.64,361.05" fill="none" stroke="#a8b43a" stroke-width="1.5" stroke-linejoin="round" stroke-linecap="round" /><polyline points="312.64,361.05 313.62,360.69 314.59,360.33 315.57,359.98 316.54,359.66 317.52,359.36 318.49,359.09" fill="none" stroke="#a8b43a" stroke-width="1.5" stroke-linejoin="round" stroke-linecap="round" /><polyline points="318.49,359.09 319.46,358.84 320.44,358.63 321.41,358.44 322.39,358.27 323.36,358.13 324.33,358.02" fill="none" stroke="#a8b43a" stroke-width="1.5" stroke-linejoin="round" stroke-linecap="round" /><polyline points="324.33,358.02 325.31,357.93 326.28,357.88 327.26,357.85 328.23,357.87 329.21,357.92 330.18,358.02" fill="none" stroke="#a8b43a" stroke-width="1.5" stroke-linejoin="round" stroke-linecap="round" /><polyline points="330.18,358.02 331.15,358.17 332.13,358.36 333.1,358.61 334.08,358.92 335.05,359.27 336.02,359.67" fill="none" stroke="#a8b43a" stroke-width="1.5" stroke-linejoin="round" stroke-linecap="round" /><polyline points="336.02,359.67 337,360.11 337.97,360.58 338.95,361.08 339.92,361.61 340.9,362.15 341.87,362.7" fill="none" stroke="#a8b43a" stroke-width="1.5" stroke-linejoin="round" stroke-linecap="round" /><polyline points="341.87,362.7 342.84,363.26 343.82,363.82 344.79,364.38 345.77,364.93 346.74,365.46 347.71,365.98" fill="none" stroke="#a8b43a" stroke-width="1.5" stroke-linejoin="round" stroke-linecap="round" /><polyline points="347.71,365.98 348.69,366.47 349.66,366.94 350.64,367.37 351.61,367.77 352.59,368.13 353.56,368.44" fill="none" stroke="#a8b43a" stroke-width="1.5" stroke-linejoin="round" stroke-linecap="round" /><polyline points="353.56,368.44 354.53,368.71 355.51,368.92 356.48,369.07 357.46,369.16 358.43,369.19 359.4,369.16" fill="none" stroke="#a8b43a" stroke-width="1.5" stroke-linejoin="round" stroke-linecap="round" /><polyline points="359.4,369.16 360.38,369.09 361.35,368.97 362.33,368.8 363.3,368.6 364.28,368.37 365.25,368.11" fill="none" stroke="#a8b43a" stroke-width="1.5" stroke-linejoin="round" stroke-linecap="round" /><polyline points="365.25,368.11 366.22,367.82 367.2,367.52 368.17,367.21 369.15,366.88 370.12,366.55 371.09,366.21" fill="none" stroke="#a8b43a" stroke-width="1.5" stroke-linejoin="round" stroke-linecap="round" /><polyline points="371.09,366.21 372.07,365.88 373.04,365.54 374.02,365.21 374.99,364.89 375.97,364.58 376.94,364.29" fill="none" stroke="#a8b43a" stroke-width="1.5" stroke-linejoin="round" stroke-linecap="round" /><polyline points="376.94,364.29 377.91,364.01 378.89,363.75 379.86,363.51 380.84,363.31 381.81,363.12 382.78,362.97" fill="none" stroke="#a8b43a" stroke-width="1.5" stroke-linejoin="round" stroke-linecap="round" /><polyline points="382.78,362.97 383.76,362.83 384.73,362.72 385.71,362.63 386.68,362.56 387.66,362.5 388.63,362.46" fill="none" stroke="#a8b43a" stroke-width="1.5" stroke-linejoin="round" stroke-linecap="round" /><polyline points="388.63,362.46 389.6,362.43 390.58,362.41 391.55,362.39 392.53,362.39 393.5,362.39" fill="none" stroke="#a8b43a" stroke-width="1.5" stroke-linejoin="round" stroke-linecap="round" /><polyline points="306.8,362.39 307.77,362.51 308.75,362.83 309.72,363.32 310.7,363.91 311.67,364.57 312.64,365.24" fill="none" stroke="#2a9e5d" stroke-width="1.5" stroke-linejoin="round" stroke-linecap="round" /><polyline points="312.64,365.24 313.62,365.87 314.59,366.43 315.57,366.91 316.54,367.32 317.52,367.67 318.49,367.96" fill="none" stroke="#2fa05a" stroke-width="1.5" stroke-linejoin="round" stroke-linecap="round" /><polyline points="318.49,367.96 319.46,368.21 320.44,368.41 321.41,368.59 322.39,368.75 323.36,368.89 324.33,369.01" fill="none" stroke="#34a256" stroke-width="1.5" stroke-linejoin="round" stroke-linecap="round" /><polyline points="324.33,369.01 325.31,369.12 326.28,369.21 327.26,369.29 328.23,369.36 329.21,369.42 330.18,369.47" fill="none" stroke="#39a453" stroke-width="1.5" stroke-linejoin="round" stroke-linecap="round" /><polyline points="330.18,369.47 331.15,369.51 332.13,369.55 333.1,369.58 334.08,369.61 335.05,369.64 336.02,369.67" fill="none" stroke="#3fa54f" stroke-width="1.5" stroke-linejoin="round" stroke-linecap="round" /><polyline points="336.02,369.67 337,369.7 337.97,369.73 338.95,369.76 339.92,369.79 340.9,369.83 341.87,369.86" fill="none" stroke="#4aa74d" stroke-width="1.5" stroke-linejoin="round" stroke-linecap="round" /><polyline points="341.87,369.86 342.84,369.88 343.82,369.91 344.79,369.93 345.77,369.94 346.74,369.95 347.71,369.95" fill="none" stroke="#5caa49" stroke-width="1.5" stroke-linejoin="round" stroke-linecap="round" /><polyline points="347.71,369.95 348.69,369.93 349.66,369.91 350.64,369.88 351.61,369.84 352.59,369.79 353.56,369.75" fill="none" stroke="#74ae44" stroke-width="1.5" stroke-linejoin="round" stroke-linecap="round" /><polyline points="353.56,369.75 354.53,369.72 355.51,369.7 356.48,369.7 357.46,369.72 358.43,369.77 359.4,369.84" fill="none" stroke="#8bb23e" stroke-width="1.5" stroke-linejoin="round" stroke-linecap="round" /><polyline points="359.4,369.84 360.38,369.93 361.35,370.03 362.33,370.14 363.3,370.25 364.28,370.37 365.25,370.49" fill="none" stroke="#80b041" stroke-width="1.5" stroke-linejoin="round" stroke-linecap="round" /><polyline points="365.25,370.49 366.22,370.59 367.2,370.69 368.17,370.78 369.15,370.84 370.12,370.89 371.09,370.91" fill="none" stroke="#5caa49" stroke-width="1.5" stroke-linejoin="round" stroke-linecap="round" /><polyline points="371.09,370.91 372.07,370.92 373.04,370.93 374.02,370.95 374.99,371 375.97,371.08 376.94,371.22" fill="none" stroke="#3aa452" stroke-width="1.5" stroke-linejoin="round" stroke-linecap="round" /><polyline points="376.94,371.22 377.91,371.42 378.89,371.7 379.86,372.07 380.84,372.55 381.81,373.12 382.78,373.76" fill="none" stroke="#2a9e5d" stroke-width="1.5" stroke-linejoin="round" stroke-linecap="round" /><polyline points="382.78,373.76 383.76,374.44 384.73,375.12 385.71,375.79 386.68,376.4 387.66,376.93 388.63,377.35" fill="none" stroke="#1d9967" stroke-width="1.5" stroke-linejoin="round" stroke-linecap="round" /><polyline points="388.63,377.35 389.6,377.68 390.58,377.92 391.55,378.08 392.53,378.17 393.5,378.2" fill="none" stroke="#149570" stroke-width="1.5" stroke-linejoin="round" stroke-linecap="round" /><polyline points="306.8,378.2 307.77,378.11 308.75,377.85 309.72,377.47 310.7,377 311.67,376.48 312.64,375.95" fill="none" stroke="#128f78" stroke-width="1.5" stroke-linejoin="round" stroke-linecap="round" /><polyline points="312.64,375.95 313.62,375.44 314.59,374.95 315.57,374.51 316.54,374.1 317.52,373.73 318.49,373.4" fill="none" stroke="#139274" stroke-width="1.5" stroke-linejoin="round" stroke-linecap="round" /><polyline points="318.49,373.4 319.46,373.11 320.44,372.86 321.41,372.65 322.39,372.48 323.36,372.33 324.33,372.22" fill="none" stroke="#149570" stroke-width="1.5" stroke-linejoin="round" stroke-linecap="round" /><polyline points="324.33,372.22 325.31,372.13 326.28,372.07 327.26,372.03 328.23,372 329.21,371.98 330.18,371.98" fill="none" stroke="#17976c" stroke-width="1.5" stroke-linejoin="round" stroke-linecap="round" /><polyline points="330.18,371.98 331.15,371.99 332.13,372 333.1,372.01 334.08,372.01 335.05,372.02 336.02,372.02" fill="none" stroke="#1f9a66" stroke-width="1.5" stroke-linejoin="round" stroke-linecap="round" /><polyline points="336.02,372.02 337,372 337.97,371.97 338.95,371.93 339.92,371.86 340.9,371.77 341.87,371.67" fill="none" stroke="#30a159" stroke-width="1.5" stroke-linejoin="round" stroke-linecap="round" /><polyline points="341.87,371.67 342.84,371.55 343.82,371.41 344.79,371.26 345.77,371.11 346.74,370.95 347.71,370.79" fill="none" stroke="#4ea84c" stroke-width="1.5" stroke-linejoin="round" stroke-linecap="round" /><polyline points="347.71,370.79 348.69,370.63 349.66,370.47 350.64,370.32 351.61,370.18 352.59,370.05 353.56,369.94" fill="none" stroke="#79af42" stroke-width="1.5" stroke-linejoin="round" stroke-linecap="round" /><polyline points="353.56,369.94 354.53,369.84 355.51,369.76 356.48,369.71 357.46,369.69 358.43,369.69 359.4,369.72" fill="none" stroke="#8ab23f" stroke-width="1.5" stroke-linejoin="round" stroke-linecap="round" /><polyline points="359.4,369.72 360.38,369.77 361.35,369.85 362.33,369.96 363.3,370.09 364.28,370.24 365.25,370.42" fill="none" stroke="#6fad45" stroke-width="1.5" stroke-linejoin="round" stroke-linecap="round" /><polyline points="365.25,370.42 366.22,370.62 367.2,370.84 368.17,371.09 369.15,371.36 370.12,371.65 371.09,371.94" fill="none" stroke="#52a94b" stroke-width="1.5" stroke-linejoin="round" stroke-linecap="round" /><polyline points="371.09,371.94 372.07,372.2 373.04,372.43 374.02,372.6 374.99,372.68 375.97,372.65 376.94,372.5" fill="none" stroke="#39a452" stroke-width="1.5" stroke-linejoin="round" stroke-linecap="round" /><polyline points="376.94,372.5 377.91,372.24 378.89,371.88 379.86,371.43 380.84,370.88 381.81,370.26 382.78,369.57" fill="none" stroke="#36a355" stroke-width="1.5" stroke-linejoin="round" stroke-linecap="round" /><polyline points="382.78,369.57 383.76,368.81 384.73,368 385.71,367.16 386.68,366.29 387.66,365.44 388.63,364.64" fill="none" stroke="#38a453" stroke-width="1.5" stroke-linejoin="round" stroke-linecap="round" /><polyline points="388.63,364.64 389.6,363.91 390.58,363.29 391.55,362.81 392.53,362.5 393.5,362.39" fill="none" stroke="#3ba551" stroke-width="1.5" stroke-linejoin="round" stroke-linecap="round" /><polyline points="306.8,393.62 307.77,393.64 308.75,393.69 309.72,393.78 310.7,393.89 311.67,394.02 312.64,394.17" fill="none" stroke="#16976d" stroke-width="1.5" stroke-linejoin="round" stroke-linecap="round" /><polyline points="312.64,394.17 313.62,394.32 314.59,394.47 315.57,394.62 316.54,394.76 317.52,394.9 318.49,395.04" fill="none" stroke="#19986a" stroke-width="1.5" stroke-linejoin="round" stroke-linecap="round" /><polyline points="318.49,395.04 319.46,395.18 320.44,395.34 321.41,395.51 322.39,395.7 323.36,395.91 324.33,396.16" fill="none" stroke="#1d9967" stroke-width="1.5" stroke-linejoin="round" stroke-linecap="round" /><polyline points="324.33,396.16 325.31,396.44 326.28,396.76 327.26,397.1 328.23,397.45 329.21,397.79 330.18,398.11" fill="none" stroke="#219b65" stroke-width="1.5" stroke-linejoin="round" stroke-linecap="round" /><polyline points="330.18,398.11 331.15,398.39 332.13,398.62 333.1,398.79 334.08,398.88 335.05,398.87 336.02,398.76" fill="none" stroke="#259c62" stroke-width="1.5" stroke-linejoin="round" stroke-linecap="round" /><polyline points="336.02,398.76 337,398.52 337.97,398.18 338.95,397.74 339.92,397.22 340.9,396.63 341.87,395.99" fill="none" stroke="#2a9e5d" stroke-width="1.5" stroke-linejoin="round" stroke-linecap="round" /><polyline points="341.87,395.99 342.84,395.31 343.82,394.6 344.79,393.88 345.77,393.16 346.74,392.46 347.71,391.78" fill="none" stroke="#30a059" stroke-width="1.5" stroke-linejoin="round" stroke-linecap="round" /><polyline points="347.71,391.78 348.69,391.13 349.66,390.53 350.64,389.97 351.61,389.48 352.59,389.05 353.56,388.7" fill="none" stroke="#36a355" stroke-width="1.5" stroke-linejoin="round" stroke-linecap="round" /><polyline points="353.56,388.7 354.53,388.43 355.51,388.25 356.48,388.18 357.46,388.22 358.43,388.36 359.4,388.61" fill="none" stroke="#3aa451" stroke-width="1.5" stroke-linejoin="round" stroke-linecap="round" /><polyline points="359.4,388.61 360.38,388.94 361.35,389.35 362.33,389.82 363.3,390.36 364.28,390.95 365.25,391.58" fill="none" stroke="#35a256" stroke-width="1.5" stroke-linejoin="round" stroke-linecap="round" /><polyline points="365.25,391.58 366.22,392.24 367.2,392.92 368.17,393.61 369.15,394.3 370.12,394.99 371.09,395.65" fill="none" stroke="#2d9f5c" stroke-width="1.5" stroke-linejoin="round" stroke-linecap="round" /><polyline points="371.09,395.65 372.07,396.29 373.04,396.89 374.02,397.44 374.99,397.94 375.97,398.36 376.94,398.7" fill="none" stroke="#259c61" stroke-width="1.5" stroke-linejoin="round" stroke-linecap="round" /><polyline points="376.94,398.7 377.91,398.96 378.89,399.11 379.86,399.16 380.84,399.08 381.81,398.88 382.78,398.56" fill="none" stroke="#1d9967" stroke-width="1.5" stroke-linejoin="round" stroke-linecap="round" /><polyline points="382.78,398.56 383.76,398.15 384.73,397.67 385.71,397.13 386.68,396.56 387.66,395.98 388.63,395.41" fill="none" stroke="#16976d" stroke-width="1.5" stroke-linejoin="round" stroke-linecap="round" /><polyline points="388.63,395.41 389.6,394.86 390.58,394.37 391.55,393.98 392.53,393.71 393.5,393.62" fill="none" stroke="#139372" stroke-width="1.5" stroke-linejoin="round" stroke-linecap="round" /><polyline points="306.8,426.63 307.77,426.34 308.75,425.54 309.72,424.33 310.7,422.8 311.67,421.04 312.64,419.15" fill="none" stroke="#d0271e" stroke-width="1.5" stroke-linejoin="round" stroke-linecap="round" /><polyline points="312.64,419.15 313.62,417.24 314.59,415.38 315.57,413.67 316.54,412.12 317.52,410.74 318.49,409.53" fill="none" stroke="#d0271e" stroke-width="1.5" stroke-linejoin="round" stroke-linecap="round" /><polyline points="318.49,409.53 319.46,408.49 320.44,407.63 321.41,406.96 322.39,406.47 323.36,406.17 324.33,406.04" fill="none" stroke="#d0271e" stroke-width="1.5" stroke-linejoin="round" stroke-linecap="round" /><polyline points="324.33,406.04 325.31,406.05 326.28,406.16 327.26,406.36 328.23,406.62 329.21,406.92 330.18,407.22" fill="none" stroke="#d0271e" stroke-width="1.5" stroke-linejoin="round" stroke-linecap="round" /><polyline points="330.18,407.22 331.15,407.5 332.13,407.74 333.1,407.92 334.08,408.01 335.05,407.99 336.02,407.84" fill="none" stroke="#d0271e" stroke-width="1.5" stroke-linejoin="round" stroke-linecap="round" /><polyline points="336.02,407.84 337,407.56 337.97,407.18 338.95,406.73 339.92,406.23 340.9,405.71 341.87,405.18" fill="none" stroke="#d0271e" stroke-width="1.5" stroke-linejoin="round" stroke-linecap="round" /><polyline points="341.87,405.18 342.84,404.69 343.82,404.25 344.79,403.9 345.77,403.64 346.74,403.52 347.71,403.56" fill="none" stroke="#d0271e" stroke-width="1.5" stroke-linejoin="round" stroke-linecap="round" /><polyline points="347.71,403.56 348.69,403.78 349.66,404.18 350.64,404.72 351.61,405.34 352.59,406 353.56,406.63" fill="none" stroke="#d0271e" stroke-width="1.5" stroke-linejoin="round" stroke-linecap="round" /><polyline points="353.56,406.63 354.53,407.2 355.51,407.64 356.48,407.91 357.46,407.95 358.43,407.78 359.4,407.43" fill="none" stroke="#d0271e" stroke-width="1.5" stroke-linejoin="round" stroke-linecap="round" /><polyline points="359.4,407.43 360.38,406.93 361.35,406.33 362.33,405.66 363.3,404.97 364.28,404.28 365.25,403.65" fill="none" stroke="#d0271e" stroke-width="1.5" stroke-linejoin="round" stroke-linecap="round" /><polyline points="365.25,403.65 366.22,403.1 367.2,402.67 368.17,402.38 369.15,402.22 370.12,402.17 371.09,402.23" fill="none" stroke="#d0271e" stroke-width="1.5" stroke-linejoin="round" stroke-linecap="round" /><polyline points="371.09,402.23 372.07,402.38 373.04,402.63 374.02,402.96 374.99,403.35 375.97,403.81 376.94,404.32" fill="none" stroke="#d0271e" stroke-width="1.5" stroke-linejoin="round" stroke-linecap="round" /><polyline points="376.94,404.32 377.91,404.87 378.89,405.45 379.86,406.06 380.84,406.69 381.81,407.32 382.78,407.94" fill="none" stroke="#d0271e" stroke-width="1.5" stroke-linejoin="round" stroke-linecap="round" /><polyline points="382.78,407.94 383.76,408.56 384.73,409.16 385.71,409.73 386.68,410.26 387.66,410.75 388.63,411.19" fill="none" stroke="#d0271e" stroke-width="1.5" stroke-linejoin="round" stroke-linecap="round" /><polyline points="388.63,411.19 389.6,411.57 390.58,411.87 391.55,412.1 392.53,412.25 393.5,412.3" fill="none" stroke="#d0271e" stroke-width="1.5" stroke-linejoin="round" stroke-linecap="round" /><polyline points="306.8,412.4 307.77,412.35 308.75,412.2 309.72,411.98 310.7,411.69 311.67,411.35 312.64,410.97" fill="none" stroke="#d8471f" stroke-width="1.5" stroke-linejoin="round" stroke-linecap="round" /><polyline points="312.64,410.97 313.62,410.57 314.59,410.16 315.57,409.76 316.54,409.38 317.52,409.03 318.49,408.72" fill="none" stroke="#d8491f" stroke-width="1.5" stroke-linejoin="round" stroke-linecap="round" /><polyline points="318.49,408.72 319.46,408.46 320.44,408.23 321.41,408.04 322.39,407.9 323.36,407.78 324.33,407.71" fill="none" stroke="#d84a1f" stroke-width="1.5" stroke-linejoin="round" stroke-linecap="round" /><polyline points="324.33,407.71 325.31,407.67 326.28,407.66 327.26,407.68 328.23,407.73 329.21,407.81 330.18,407.92" fill="none" stroke="#d94c20" stroke-width="1.5" stroke-linejoin="round" stroke-linecap="round" /><polyline points="330.18,407.92 331.15,408.06 332.13,408.22 333.1,408.41 334.08,408.63 335.05,408.88 336.02,409.16" fill="none" stroke="#d94e20" stroke-width="1.5" stroke-linejoin="round" stroke-linecap="round" /><polyline points="336.02,409.16 337,409.47 337.97,409.82 338.95,410.21 339.92,410.64 340.9,411.11 341.87,411.62" fill="none" stroke="#d94f20" stroke-width="1.5" stroke-linejoin="round" stroke-linecap="round" /><polyline points="341.87,411.62 342.84,412.17 343.82,412.74 344.79,413.34 345.77,413.93 346.74,414.52 347.71,415.09" fill="none" stroke="#d95120" stroke-width="1.5" stroke-linejoin="round" stroke-linecap="round" /><polyline points="347.71,415.09 348.69,415.63 349.66,416.12 350.64,416.56 351.61,416.95 352.59,417.28 353.56,417.57" fill="none" stroke="#d95320" stroke-width="1.5" stroke-linejoin="round" stroke-linecap="round" /><polyline points="353.56,417.57 354.53,417.82 355.51,418.05 356.48,418.26 357.46,418.45 358.43,418.63 359.4,418.81" fill="none" stroke="#d95420" stroke-width="1.5" stroke-linejoin="round" stroke-linecap="round" /><polyline points="359.4,418.81 360.38,418.98 361.35,419.15 362.33,419.31 363.3,419.49 364.28,419.66 365.25,419.84" fill="none" stroke="#d95120" stroke-width="1.5" stroke-linejoin="round" stroke-linecap="round" /><polyline points="365.25,419.84 366.22,420.04 367.2,420.24 368.17,420.46 369.15,420.69 370.12,420.92 371.09,421.15" fill="none" stroke="#d94c20" stroke-width="1.5" stroke-linejoin="round" stroke-linecap="round" /><polyline points="371.09,421.15 372.07,421.37 373.04,421.58 374.02,421.77 374.99,421.93 375.97,422.06 376.94,422.15" fill="none" stroke="#d8461f" stroke-width="1.5" stroke-linejoin="round" stroke-linecap="round" /><polyline points="376.94,422.15 377.91,422.19 378.89,422.18 379.86,422.11 380.84,421.99 381.81,421.81 382.78,421.58" fill="none" stroke="#d7401e" stroke-width="1.5" stroke-linejoin="round" stroke-linecap="round" /><polyline points="382.78,421.58 383.76,421.3 384.73,420.97 385.71,420.59 386.68,420.17 387.66,419.7 388.63,419.2" fill="none" stroke="#d73b1e" stroke-width="1.5" stroke-linejoin="round" stroke-linecap="round" /><polyline points="388.63,419.2 389.6,418.7 390.58,418.25 391.55,417.88 392.53,417.63 393.5,417.54" fill="none" stroke="#d5371e" stroke-width="1.5" stroke-linejoin="round" stroke-linecap="round" /><polyline points="306.8,418.33 307.77,418.39 308.75,418.57 309.72,418.85 310.7,419.21 311.67,419.61 312.64,420.05" fill="none" stroke="#db5f22" stroke-width="1.5" stroke-linejoin="round" stroke-linecap="round" /><polyline points="312.64,420.05 313.62,420.49 314.59,420.93 315.57,421.33 316.54,421.68 317.52,421.98 318.49,422.24" fill="none" stroke="#d18e29" stroke-width="1.5" stroke-linejoin="round" stroke-linecap="round" /><polyline points="318.49,422.24 319.46,422.44 320.44,422.6 321.41,422.72 322.39,422.79 323.36,422.82 324.33,422.81" fill="none" stroke="#ca9f30" stroke-width="1.5" stroke-linejoin="round" stroke-linecap="round" /><polyline points="324.33,422.81 325.31,422.76 326.28,422.68 327.26,422.56 328.23,422.4 329.21,422.2 330.18,421.97" fill="none" stroke="#c6a733" stroke-width="1.5" stroke-linejoin="round" stroke-linecap="round" /><polyline points="330.18,421.97 331.15,421.71 332.13,421.41 333.1,421.07 334.08,420.7 335.05,420.3 336.02,419.86" fill="none" stroke="#c1ac34" stroke-width="1.5" stroke-linejoin="round" stroke-linecap="round" /><polyline points="336.02,419.86 337,419.39 337.97,418.88 338.95,418.35 339.92,417.79 340.9,417.21 341.87,416.61" fill="none" stroke="#c0ac34" stroke-width="1.5" stroke-linejoin="round" stroke-linecap="round" /><polyline points="341.87,416.61 342.84,416 343.82,415.38 344.79,414.75 345.77,414.12 346.74,413.5 347.71,412.89" fill="none" stroke="#c0ac34" stroke-width="1.5" stroke-linejoin="round" stroke-linecap="round" /><polyline points="347.71,412.89 348.69,412.28 349.66,411.69 350.64,411.13 351.61,410.6 352.59,410.13 353.56,409.74" fill="none" stroke="#c0ac34" stroke-width="1.5" stroke-linejoin="round" stroke-linecap="round" /><polyline points="353.56,409.74 354.53,409.47 355.51,409.34 356.48,409.38 357.46,409.6 358.43,410 359.4,410.56" fill="none" stroke="#c0ac34" stroke-width="1.5" stroke-linejoin="round" stroke-linecap="round" /><polyline points="359.4,410.56 360.38,411.24 361.35,412.01 362.33,412.85 363.3,413.72 364.28,414.6 365.25,415.46" fill="none" stroke="#c0ac34" stroke-width="1.5" stroke-linejoin="round" stroke-linecap="round" /><polyline points="365.25,415.46 366.22,416.31 367.2,417.13 368.17,417.93 369.15,418.7 370.12,419.44 371.09,420.15" fill="none" stroke="#c0ac34" stroke-width="1.5" stroke-linejoin="round" stroke-linecap="round" /><polyline points="371.09,420.15 372.07,420.82 373.04,421.45 374.02,422.04 374.99,422.59 375.97,423.1 376.94,423.56" fill="none" stroke="#c0ac34" stroke-width="1.5" stroke-linejoin="round" stroke-linecap="round" /><polyline points="376.94,423.56 377.91,423.99 378.89,424.39 379.86,424.75 380.84,425.09 381.81,425.4 382.78,425.69" fill="none" stroke="#c0ac34" stroke-width="1.5" stroke-linejoin="round" stroke-linecap="round" /><polyline points="382.78,425.69 383.76,425.96 384.73,426.21 385.71,426.45 386.68,426.67 387.66,426.88 388.63,427.06" fill="none" stroke="#c0ac34" stroke-width="1.5" stroke-linejoin="round" stroke-linecap="round" /><polyline points="388.63,427.06 389.6,427.22 390.58,427.34 391.55,427.44 392.53,427.5 393.5,427.52" fill="none" stroke="#c0ac34" stroke-width="1.5" stroke-linejoin="round" stroke-linecap="round" /><polyline points="306.8,426.63 307.77,426.66 308.75,426.76 309.72,426.9 310.7,427.09 311.67,427.3 312.64,427.53" fill="none" stroke="#d28d28" stroke-width="1.5" stroke-linejoin="round" stroke-linecap="round" /><polyline points="312.64,427.53 313.62,427.77 314.59,428.01 315.57,428.23 316.54,428.43 317.52,428.61 318.49,428.77" fill="none" stroke="#d18e29" stroke-width="1.5" stroke-linejoin="round" stroke-linecap="round" /><polyline points="318.49,428.77 319.46,428.91 320.44,429.03 321.41,429.14 322.39,429.23 323.36,429.3 324.33,429.36" fill="none" stroke="#d19029" stroke-width="1.5" stroke-linejoin="round" stroke-linecap="round" /><polyline points="324.33,429.36 325.31,429.4 326.28,429.44 327.26,429.46 328.23,429.46 329.21,429.44 330.18,429.39" fill="none" stroke="#d0912a" stroke-width="1.5" stroke-linejoin="round" stroke-linecap="round" /><polyline points="330.18,429.39 331.15,429.33 332.13,429.23 333.1,429.11 334.08,428.95 335.05,428.76 336.02,428.53" fill="none" stroke="#cf922b" stroke-width="1.5" stroke-linejoin="round" stroke-linecap="round" /><polyline points="336.02,428.53 337,428.25 337.97,427.94 338.95,427.59 339.92,427.2 340.9,426.77 341.87,426.32" fill="none" stroke="#cf942b" stroke-width="1.5" stroke-linejoin="round" stroke-linecap="round" /><polyline points="341.87,426.32 342.84,425.84 343.82,425.34 344.79,424.82 345.77,424.28 346.74,423.74 347.71,423.18" fill="none" stroke="#ce952c" stroke-width="1.5" stroke-linejoin="round" stroke-linecap="round" /><polyline points="347.71,423.18 348.69,422.63 349.66,422.09 350.64,421.57 351.61,421.07 352.59,420.6 353.56,420.17" fill="none" stroke="#ce972c" stroke-width="1.5" stroke-linejoin="round" stroke-linecap="round" /><polyline points="353.56,420.17 354.53,419.79 355.51,419.46 356.48,419.2 357.46,419 358.43,418.85 359.4,418.74" fill="none" stroke="#cd982d" stroke-width="1.5" stroke-linejoin="round" stroke-linecap="round" /><polyline points="359.4,418.74 360.38,418.65 361.35,418.54 362.33,418.4 363.3,418.21 364.28,417.94 365.25,417.57" fill="none" stroke="#d18e29" stroke-width="1.5" stroke-linejoin="round" stroke-linecap="round" /><polyline points="365.25,417.57 366.22,417.09 367.2,416.49 368.17,415.83 369.15,415.14 370.12,414.47 371.09,413.86" fill="none" stroke="#d87b25" stroke-width="1.5" stroke-linejoin="round" stroke-linecap="round" /><polyline points="371.09,413.86 372.07,413.34 373.04,412.98 374.02,412.8 374.99,412.85 375.97,413.13 376.94,413.61" fill="none" stroke="#dc6f23" stroke-width="1.5" stroke-linejoin="round" stroke-linecap="round" /><polyline points="376.94,413.61 377.91,414.26 378.89,415.05 379.86,415.94 380.84,416.92 381.81,417.94 382.78,418.98" fill="none" stroke="#db7023" stroke-width="1.5" stroke-linejoin="round" stroke-linecap="round" /><polyline points="382.78,418.98 383.76,420.01 384.73,421.01 385.71,421.96 386.68,422.85 387.66,423.66 388.63,424.39" fill="none" stroke="#db7224" stroke-width="1.5" stroke-linejoin="round" stroke-linecap="round" /><polyline points="388.63,424.39 389.6,425.02 390.58,425.53 391.55,425.91 392.53,426.15 393.5,426.23" fill="none" stroke="#da7324" stroke-width="1.5" stroke-linejoin="round" stroke-linecap="round" /><polyline points="306.8,431.47 307.77,431.53 308.75,431.7 309.72,431.96 310.7,432.29 311.67,432.66 312.64,433.05" fill="none" stroke="#dc6e23" stroke-width="1.5" stroke-linejoin="round" stroke-linecap="round" /><polyline points="312.64,433.05 313.62,433.45 314.59,433.83 315.57,434.17 316.54,434.46 317.52,434.69 318.49,434.87" fill="none" stroke="#dc6e23" stroke-width="1.5" stroke-linejoin="round" stroke-linecap="round" /><polyline points="318.49,434.87 319.46,435 320.44,435.08 321.41,435.11 322.39,435.09 323.36,435.04 324.33,434.94" fill="none" stroke="#dc6e23" stroke-width="1.5" stroke-linejoin="round" stroke-linecap="round" /><polyline points="324.33,434.94 325.31,434.8 326.28,434.63 327.26,434.42 328.23,434.17 329.21,433.88 330.18,433.56" fill="none" stroke="#dc6e23" stroke-width="1.5" stroke-linejoin="round" stroke-linecap="round" /><polyline points="330.18,433.56 331.15,433.2 332.13,432.8 333.1,432.37 334.08,431.9 335.05,431.39 336.02,430.85" fill="none" stroke="#dc6e23" stroke-width="1.5" stroke-linejoin="round" stroke-linecap="round" /><polyline points="336.02,430.85 337,430.28 337.97,429.66 338.95,429.01 339.92,428.29 340.9,427.52 341.87,426.67" fill="none" stroke="#dc6e23" stroke-width="1.5" stroke-linejoin="round" stroke-linecap="round" /><polyline points="341.87,426.67 342.84,425.74 343.82,424.71 344.79,423.59 345.77,422.35 346.74,420.99 347.71,419.55" fill="none" stroke="#dc6e23" stroke-width="1.5" stroke-linejoin="round" stroke-linecap="round" /><polyline points="347.71,419.55 348.69,418.07 349.66,416.6 350.64,415.17 351.61,413.83 352.59,412.62 353.56,411.58" fill="none" stroke="#dc6e23" stroke-width="1.5" stroke-linejoin="round" stroke-linecap="round" /><polyline points="353.56,411.58 354.53,410.76 355.51,410.2 356.48,409.94 357.46,410.02 358.43,410.42 359.4,411.1" fill="none" stroke="#dc6e23" stroke-width="1.5" stroke-linejoin="round" stroke-linecap="round" /><polyline points="359.4,411.1 360.38,411.99 361.35,413.05 362.33,414.21 363.3,415.44 364.28,416.67 365.25,417.86" fill="none" stroke="#dc6e23" stroke-width="1.5" stroke-linejoin="round" stroke-linecap="round" /><polyline points="365.25,417.86 366.22,419.02 367.2,420.15 368.17,421.23 369.15,422.28 370.12,423.28 371.09,424.24" fill="none" stroke="#dc6e23" stroke-width="1.5" stroke-linejoin="round" stroke-linecap="round" /><polyline points="371.09,424.24 372.07,425.17 373.04,426.05 374.02,426.88 374.99,427.68 375.97,428.42 376.94,429.11" fill="none" stroke="#dc6e23" stroke-width="1.5" stroke-linejoin="round" stroke-linecap="round" /><polyline points="376.94,429.11 377.91,429.75 378.89,430.32 379.86,430.82 380.84,431.26 381.81,431.61 382.78,431.88" fill="none" stroke="#dc6e23" stroke-width="1.5" stroke-linejoin="round" stroke-linecap="round" /><polyline points="382.78,431.88 383.76,432.07 384.73,432.16 385.71,432.16 386.68,432.08 387.66,431.94 388.63,431.76" fill="none" stroke="#dc6e23" stroke-width="1.5" stroke-linejoin="round" stroke-linecap="round" /><polyline points="388.63,431.76 389.6,431.57 390.58,431.39 391.55,431.23 392.53,431.12 393.5,431.08" fill="none" stroke="#dc6e23" stroke-width="1.5" stroke-linejoin="round" stroke-linecap="round" /><polyline points="306.8,439.67 307.77,439.7 308.75,439.78 309.72,439.91 310.7,440.07 311.67,440.25 312.64,440.46" fill="none" stroke="#cd982d" stroke-width="1.5" stroke-linejoin="round" stroke-linecap="round" /><polyline points="312.64,440.46 313.62,440.68 314.59,440.9 315.57,441.12 316.54,441.32 317.52,441.51 318.49,441.67" fill="none" stroke="#cd982d" stroke-width="1.5" stroke-linejoin="round" stroke-linecap="round" /><polyline points="318.49,441.67 319.46,441.79 320.44,441.86 321.41,441.89 322.39,441.85 323.36,441.75 324.33,441.59" fill="none" stroke="#cd982d" stroke-width="1.5" stroke-linejoin="round" stroke-linecap="round" /><polyline points="324.33,441.59 325.31,441.37 326.28,441.11 327.26,440.81 328.23,440.48 329.21,440.13 330.18,439.76" fill="none" stroke="#cd982d" stroke-width="1.5" stroke-linejoin="round" stroke-linecap="round" /><polyline points="330.18,439.76 331.15,439.39 332.13,439.02 333.1,438.65 334.08,438.31 335.05,437.98 336.02,437.69" fill="none" stroke="#cd982d" stroke-width="1.5" stroke-linejoin="round" stroke-linecap="round" /><polyline points="336.02,437.69 337,437.44 337.97,437.23 338.95,437.08 339.92,437 340.9,436.98 341.87,437.04" fill="none" stroke="#cd982d" stroke-width="1.5" stroke-linejoin="round" stroke-linecap="round" /><polyline points="341.87,437.04 342.84,437.18 343.82,437.38 344.79,437.65 345.77,437.95 346.74,438.29 347.71,438.65" fill="none" stroke="#cd982d" stroke-width="1.5" stroke-linejoin="round" stroke-linecap="round" /><polyline points="347.71,438.65 348.69,439.02 349.66,439.4 350.64,439.76 351.61,440.1 352.59,440.4 353.56,440.66" fill="none" stroke="#cd982d" stroke-width="1.5" stroke-linejoin="round" stroke-linecap="round" /><polyline points="353.56,440.66 354.53,440.86 355.51,441 356.48,441.06 357.46,441.03 358.43,440.91 359.4,440.72" fill="none" stroke="#cd982d" stroke-width="1.5" stroke-linejoin="round" stroke-linecap="round" /><polyline points="359.4,440.72 360.38,440.46 361.35,440.15 362.33,439.8 363.3,439.42 364.28,439.01 365.25,438.6" fill="none" stroke="#cd982d" stroke-width="1.5" stroke-linejoin="round" stroke-linecap="round" /><polyline points="365.25,438.6 366.22,438.19 367.2,437.79 368.17,437.41 369.15,437.08 370.12,436.78 371.09,436.55" fill="none" stroke="#cd982d" stroke-width="1.5" stroke-linejoin="round" stroke-linecap="round" /><polyline points="371.09,436.55 372.07,436.38 373.04,436.28 374.02,436.26 374.99,436.29 375.97,436.38 376.94,436.52" fill="none" stroke="#cd982d" stroke-width="1.5" stroke-linejoin="round" stroke-linecap="round" /><polyline points="376.94,436.52 377.91,436.7 378.89,436.91 379.86,437.16 380.84,437.42 381.81,437.7 382.78,437.99" fill="none" stroke="#cd982d" stroke-width="1.5" stroke-linejoin="round" stroke-linecap="round" /><polyline points="382.78,437.99 383.76,438.28 384.73,438.56 385.71,438.83 386.68,439.09 387.66,439.32 388.63,439.53" fill="none" stroke="#cd982d" stroke-width="1.5" stroke-linejoin="round" stroke-linecap="round" /><polyline points="388.63,439.53 389.6,439.72 390.58,439.86 391.55,439.98 392.53,440.05 393.5,440.07" fill="none" stroke="#cd982d" stroke-width="1.5" stroke-linejoin="round" stroke-linecap="round" /><polyline points="306.8,425.54 307.77,425.57 308.75,425.65 309.72,425.77 310.7,425.91 311.67,426.08 312.64,426.26" fill="none" stroke="#d48627" stroke-width="1.5" stroke-linejoin="round" stroke-linecap="round" /><polyline points="312.64,426.26 313.62,426.43 314.59,426.6 315.57,426.74 316.54,426.86 317.52,426.95 318.49,427.02" fill="none" stroke="#d48627" stroke-width="1.5" stroke-linejoin="round" stroke-linecap="round" /><polyline points="318.49,427.02 319.46,427.07 320.44,427.1 321.41,427.13 322.39,427.15 323.36,427.18 324.33,427.2" fill="none" stroke="#d48627" stroke-width="1.5" stroke-linejoin="round" stroke-linecap="round" /><polyline points="324.33,427.2 325.31,427.23 326.28,427.27 327.26,427.32 328.23,427.37 329.21,427.44 330.18,427.52" fill="none" stroke="#d48627" stroke-width="1.5" stroke-linejoin="round" stroke-linecap="round" /><polyline points="330.18,427.52 331.15,427.61 332.13,427.71 333.1,427.82 334.08,427.94 335.05,428.07 336.02,428.21" fill="none" stroke="#d48627" stroke-width="1.5" stroke-linejoin="round" stroke-linecap="round" /><polyline points="336.02,428.21 337,428.36 337.97,428.52 338.95,428.7 339.92,428.88 340.9,429.08 341.87,429.28" fill="none" stroke="#d48627" stroke-width="1.5" stroke-linejoin="round" stroke-linecap="round" /><polyline points="341.87,429.28 342.84,429.5 343.82,429.72 344.79,429.95 345.77,430.18 346.74,430.42 347.71,430.64" fill="none" stroke="#d48627" stroke-width="1.5" stroke-linejoin="round" stroke-linecap="round" /><polyline points="347.71,430.64 348.69,430.87 349.66,431.08 350.64,431.29 351.61,431.48 352.59,431.65 353.56,431.81" fill="none" stroke="#d48627" stroke-width="1.5" stroke-linejoin="round" stroke-linecap="round" /><polyline points="353.56,431.81 354.53,431.94 355.51,432.06 356.48,432.14 357.46,432.2 358.43,432.22 359.4,432.22" fill="none" stroke="#d48627" stroke-width="1.5" stroke-linejoin="round" stroke-linecap="round" /><polyline points="359.4,432.22 360.38,432.19 361.35,432.14 362.33,432.06 363.3,431.96 364.28,431.83 365.25,431.68" fill="none" stroke="#d48627" stroke-width="1.5" stroke-linejoin="round" stroke-linecap="round" /><polyline points="365.25,431.68 366.22,431.51 367.2,431.32 368.17,431.12 369.15,430.89 370.12,430.65 371.09,430.39" fill="none" stroke="#d48627" stroke-width="1.5" stroke-linejoin="round" stroke-linecap="round" /><polyline points="371.09,430.39 372.07,430.12 373.04,429.83 374.02,429.53 374.99,429.22 375.97,428.89 376.94,428.55" fill="none" stroke="#d48627" stroke-width="1.5" stroke-linejoin="round" stroke-linecap="round" /><polyline points="376.94,428.55 377.91,428.19 378.89,427.82 379.86,427.43 380.84,427.04 381.81,426.62 382.78,426.19" fill="none" stroke="#d48627" stroke-width="1.5" stroke-linejoin="round" stroke-linecap="round" /><polyline points="382.78,426.19 383.76,425.75 384.73,425.29 385.71,424.82 386.68,424.35 387.66,423.89 388.63,423.46" fill="none" stroke="#d48627" stroke-width="1.5" stroke-linejoin="round" stroke-linecap="round" /><polyline points="388.63,423.46 389.6,423.08 390.58,422.75 391.55,422.5 392.53,422.34 393.5,422.28" fill="none" stroke="#d48627" stroke-width="1.5" stroke-linejoin="round" stroke-linecap="round" /></g>
<rect x="306.8" y="327.4" width="86.7" height="118.6" fill="none" stroke="#4a4a4a" stroke-width="1"/>
<text x="303.5" y="339.48" style="font-family:'Liberation Serif',serif;font-size:6.3px;font-weight:normal" text-anchor="end" fill="#333" >6</text>
<text x="303.5" y="359.25" style="font-family:'Liberation Serif',serif;font-size:6.3px;font-weight:normal" text-anchor="end" fill="#333" >4</text>
<text x="303.5" y="379.02" style="font-family:'Liberation Serif',serif;font-size:6.3px;font-weight:normal" text-anchor="end" fill="#333" >2</text>
<text x="303.5" y="398.78" style="font-family:'Liberation Serif',serif;font-size:6.3px;font-weight:normal" text-anchor="end" fill="#333" >0</text>
<text x="303.5" y="418.55" style="font-family:'Liberation Serif',serif;font-size:6.3px;font-weight:normal" text-anchor="end" fill="#333" >-2</text>
<text x="303.5" y="438.32" style="font-family:'Liberation Serif',serif;font-size:6.3px;font-weight:normal" text-anchor="end" fill="#333" >-4</text>
<text x="306.8" y="454.3" style="font-family:'Liberation Serif',serif;font-size:6.4px;font-weight:normal" text-anchor="middle" fill="#333" >K</text>
<text x="325.12" y="454.3" style="font-family:'Liberation Serif',serif;font-size:6.4px;font-weight:normal" text-anchor="middle" fill="#333" >M</text>
<text x="356.83" y="454.3" style="font-family:'Liberation Serif',serif;font-size:6.4px;font-weight:normal" text-anchor="middle" fill="#333" >Γ</text>
<text x="393.5" y="454.3" style="font-family:'Liberation Serif',serif;font-size:6.4px;font-weight:normal" text-anchor="middle" fill="#333" >K</text>
<path d="M306.8,337.28h1.6M393.5,337.28h-1.6M306.8,357.05h1.6M393.5,357.05h-1.6M306.8,376.82h1.6M393.5,376.82h-1.6M306.8,396.58h1.6M393.5,396.58h-1.6M306.8,416.35h1.6M393.5,416.35h-1.6M306.8,436.12h1.6M393.5,436.12h-1.6M306.8,446v-1.6M306.8,327.4v1.6M325.12,446v-1.6M325.12,327.4v1.6M356.83,446v-1.6M356.83,327.4v1.6M393.5,446v-1.6M393.5,327.4v1.6" stroke="#222" stroke-width="0.7" fill="none"/>
<rect x="393.9" y="327.4" width="2.4" height="118.6" fill="#cfcfcf"/>
<linearGradient id="c1g" x1="0" y1="0" x2="0" y2="1"><stop offset="0" stop-color="#1888c8"/><stop offset="0.1" stop-color="#10a8b0"/><stop offset="0.2" stop-color="#1ebe8c"/><stop offset="0.3" stop-color="#60ce7a"/><stop offset="0.4" stop-color="#b8de78"/><stop offset="0.5" stop-color="#ece878"/><stop offset="0.6" stop-color="#f0d060"/><stop offset="0.7" stop-color="#f0b04c"/><stop offset="0.8" stop-color="#f0843c"/><stop offset="0.9" stop-color="#ee5038"/><stop offset="1" stop-color="#e02438"/></linearGradient>
<rect x="396.3" y="327.4" width="4.4" height="118.6" fill="url(#c1g)" stroke="#444" stroke-width="0.6"/>
<line x1="396.3" y1="351.12" x2="400.7" y2="351.12" stroke="#222" stroke-width="0.8"/>
<line x1="396.3" y1="374.84" x2="400.7" y2="374.84" stroke="#222" stroke-width="0.8"/>
<line x1="396.3" y1="398.56" x2="400.7" y2="398.56" stroke="#222" stroke-width="0.8"/>
<line x1="396.3" y1="422.28" x2="400.7" y2="422.28" stroke="#222" stroke-width="0.8"/>
<text x="404.9" y="333" style="font-family:'Liberation Serif',serif;font-size:8.4px;font-weight:normal" text-anchor="start" fill="#222" >Nb</text>
<text x="404.9" y="445" style="font-family:'Liberation Serif',serif;font-size:8.4px;font-weight:normal" text-anchor="start" fill="#222" >S</text>
<text x="354" y="320.4" style="font-family:'Liberation Serif',serif;font-size:9.6px" text-anchor="middle" fill="#222">NbS<tspan style="font-size:7.6px" dy="2.2">2</tspan></text>
<text x="314.8" y="348.5" style="font-family:'Liberation Serif',serif;font-size:8.4px;font-weight:normal" text-anchor="start" fill="#333" >(a)</text>
<text transform="translate(293,387.5) rotate(-90)" style="font-family:'Liberation Serif',serif;font-size:6.4px;font-style:italic" text-anchor="middle" fill="#1e1e1e">E-E<tspan style="font-size:5px" dy="1.2">F</tspan><tspan dy="-1.2"> (eV)</tspan></text>
<clipPath id="c2"><rect x="433.1" y="327.2" width="86.9" height="118.3"/></clipPath>
<line x1="433.1" y1="396.21" x2="520" y2="396.21" stroke="#8a8a8a" stroke-width="0.8" stroke-dasharray="1.2,1.2"/>
<g clip-path="url(#c2)"><polyline points="441.79,322.27 441.99,322.58 442.18,322.89 442.38,323.2 442.57,323.51 442.77,323.81 442.96,324.12" fill="none" stroke="#dc6e23" stroke-width="1.5" stroke-linejoin="round" stroke-linecap="round" /><polyline points="442.96,324.12 443.16,324.42 443.35,324.72 443.55,325.02 443.74,325.32 443.94,325.62 444.13,325.91" fill="none" stroke="#dc6e23" stroke-width="1.5" stroke-linejoin="round" stroke-linecap="round" /><polyline points="444.13,325.91 444.33,326.2 444.52,326.48 444.72,326.77 444.91,327.05 445.11,327.32 445.31,327.59" fill="none" stroke="#dc6e23" stroke-width="1.5" stroke-linejoin="round" stroke-linecap="round" /><polyline points="445.31,327.59 445.5,327.85 445.7,328.11 445.89,328.37 446.09,328.62 446.28,328.86 446.48,329.1" fill="none" stroke="#dc6e23" stroke-width="1.5" stroke-linejoin="round" stroke-linecap="round" /><polyline points="446.48,329.1 446.67,329.33 446.87,329.55 447.06,329.77 447.26,329.98 447.45,330.18 447.65,330.37" fill="none" stroke="#dc6e23" stroke-width="1.5" stroke-linejoin="round" stroke-linecap="round" /><polyline points="447.65,330.37 447.84,330.55 448.04,330.72 448.23,330.88 448.43,331.03 448.62,331.17 448.82,331.3" fill="none" stroke="#dc6e23" stroke-width="1.5" stroke-linejoin="round" stroke-linecap="round" /><polyline points="448.82,331.3 449.02,331.41 449.21,331.51 449.41,331.6 449.6,331.68 449.8,331.74 449.99,331.78" fill="none" stroke="#dc6e23" stroke-width="1.5" stroke-linejoin="round" stroke-linecap="round" /><polyline points="449.99,331.78 450.19,331.82 450.38,331.83 450.58,331.83 450.77,331.82 450.97,331.78 451.16,331.74" fill="none" stroke="#dc6e23" stroke-width="1.5" stroke-linejoin="round" stroke-linecap="round" /><polyline points="451.16,331.74 451.36,331.68 451.55,331.6 451.75,331.51 451.94,331.41 452.14,331.3 452.34,331.17" fill="none" stroke="#dc6e23" stroke-width="1.5" stroke-linejoin="round" stroke-linecap="round" /><polyline points="452.34,331.17 452.53,331.03 452.73,330.88 452.92,330.72 453.12,330.55 453.31,330.37 453.51,330.18" fill="none" stroke="#dc6e23" stroke-width="1.5" stroke-linejoin="round" stroke-linecap="round" /><polyline points="453.51,330.18 453.7,329.98 453.9,329.77 454.09,329.55 454.29,329.33 454.48,329.1 454.68,328.86" fill="none" stroke="#dc6e23" stroke-width="1.5" stroke-linejoin="round" stroke-linecap="round" /><polyline points="454.68,328.86 454.87,328.62 455.07,328.37 455.26,328.11 455.46,327.85 455.65,327.59 455.85,327.32" fill="none" stroke="#dc6e23" stroke-width="1.5" stroke-linejoin="round" stroke-linecap="round" /><polyline points="455.85,327.32 456.05,327.05 456.24,326.77 456.44,326.48 456.63,326.2 456.83,325.91 457.02,325.62" fill="none" stroke="#dc6e23" stroke-width="1.5" stroke-linejoin="round" stroke-linecap="round" /><polyline points="457.02,325.62 457.22,325.32 457.41,325.02 457.61,324.72 457.8,324.42 458,324.12 458.19,323.81" fill="none" stroke="#dc6e23" stroke-width="1.5" stroke-linejoin="round" stroke-linecap="round" /><polyline points="458.19,323.81 458.39,323.51 458.58,323.2 458.78,322.89 458.97,322.58 459.17,322.27" fill="none" stroke="#dc6e23" stroke-width="1.5" stroke-linejoin="round" stroke-linecap="round" /><polyline points="497.41,322.27 497.63,322.58 497.86,322.88 498.08,323.19 498.3,323.49 498.53,323.79 498.75,324.09" fill="none" stroke="#d28c28" stroke-width="1.5" stroke-linejoin="round" stroke-linecap="round" /><polyline points="498.75,324.09 498.98,324.38 499.2,324.67 499.43,324.96 499.65,325.24 499.88,325.51 500.1,325.78" fill="none" stroke="#d28c28" stroke-width="1.5" stroke-linejoin="round" stroke-linecap="round" /><polyline points="500.1,325.78 500.33,326.04 500.55,326.3 500.77,326.54 501,326.78 501.22,327.01 501.45,327.23" fill="none" stroke="#d28c28" stroke-width="1.5" stroke-linejoin="round" stroke-linecap="round" /><polyline points="501.45,327.23 501.67,327.43 501.9,327.63 502.12,327.82 502.35,327.99 502.57,328.15 502.8,328.3" fill="none" stroke="#d28c28" stroke-width="1.5" stroke-linejoin="round" stroke-linecap="round" /><polyline points="502.8,328.3 503.02,328.44 503.24,328.56 503.47,328.67 503.69,328.77 503.92,328.86 504.14,328.93" fill="none" stroke="#d28c28" stroke-width="1.5" stroke-linejoin="round" stroke-linecap="round" /><polyline points="504.14,328.93 504.37,329 504.59,329.06 504.82,329.11 505.04,329.15 505.27,329.18 505.49,329.2" fill="none" stroke="#d28c28" stroke-width="1.5" stroke-linejoin="round" stroke-linecap="round" /><polyline points="505.49,329.2 505.72,329.21 505.94,329.22 506.16,329.22 506.39,329.21 506.61,329.2 506.84,329.18" fill="none" stroke="#d28c28" stroke-width="1.5" stroke-linejoin="round" stroke-linecap="round" /><polyline points="506.84,329.18 507.06,329.16 507.29,329.13 507.51,329.1 507.74,329.06 507.96,329.02 508.19,328.97" fill="none" stroke="#d28c28" stroke-width="1.5" stroke-linejoin="round" stroke-linecap="round" /><polyline points="508.19,328.97 508.41,328.92 508.63,328.86 508.86,328.8 509.08,328.73 509.31,328.65 509.53,328.57" fill="none" stroke="#d28c28" stroke-width="1.5" stroke-linejoin="round" stroke-linecap="round" /><polyline points="509.53,328.57 509.76,328.48 509.98,328.38 510.21,328.28 510.43,328.18 510.66,328.06 510.88,327.94" fill="none" stroke="#d28c28" stroke-width="1.5" stroke-linejoin="round" stroke-linecap="round" /><polyline points="510.88,327.94 511.1,327.82 511.33,327.68 511.55,327.54 511.78,327.39 512,327.24 512.23,327.08" fill="none" stroke="#d28c28" stroke-width="1.5" stroke-linejoin="round" stroke-linecap="round" /><polyline points="512.23,327.08 512.45,326.91 512.68,326.74 512.9,326.56 513.13,326.38 513.35,326.19 513.58,326" fill="none" stroke="#d28c28" stroke-width="1.5" stroke-linejoin="round" stroke-linecap="round" /><polyline points="513.58,326 513.8,325.8 514.02,325.6 514.25,325.4 514.47,325.19 514.7,324.98 514.92,324.76" fill="none" stroke="#d28c28" stroke-width="1.5" stroke-linejoin="round" stroke-linecap="round" /><polyline points="514.92,324.76 515.15,324.55 515.37,324.33 515.6,324.1 515.82,323.88 516.05,323.65 516.27,323.42" fill="none" stroke="#d28c28" stroke-width="1.5" stroke-linejoin="round" stroke-linecap="round" /><polyline points="516.27,323.42 516.49,323.2 516.72,322.96 516.94,322.73 517.17,322.5 517.39,322.27" fill="none" stroke="#d28c28" stroke-width="1.5" stroke-linejoin="round" stroke-linecap="round" /><polyline points="433.1,326.21 434.08,326.44 435.05,327.06 436.03,328.01 437.01,329.24 437.98,330.68 438.96,332.26" fill="none" stroke="#b8b437" stroke-width="1.5" stroke-linejoin="round" stroke-linecap="round" /><polyline points="438.96,332.26 439.93,333.92 440.91,335.59 441.89,337.22 442.86,338.74 443.84,340.15 444.82,341.42" fill="none" stroke="#b5b438" stroke-width="1.5" stroke-linejoin="round" stroke-linecap="round" /><polyline points="444.82,341.42 445.79,342.55 446.77,343.52 447.75,344.33 448.72,344.95 449.7,345.38 450.68,345.61" fill="none" stroke="#b2b438" stroke-width="1.5" stroke-linejoin="round" stroke-linecap="round" /><polyline points="450.68,345.61 451.65,345.62 452.63,345.41 453.6,345 454.58,344.42 455.56,343.69 456.53,342.82" fill="none" stroke="#b0b438" stroke-width="1.5" stroke-linejoin="round" stroke-linecap="round" /><polyline points="456.53,342.82 457.51,341.85 458.49,340.79 459.46,339.68 460.44,338.52 461.42,337.35 462.39,336.19" fill="none" stroke="#adb439" stroke-width="1.5" stroke-linejoin="round" stroke-linecap="round" /><polyline points="462.39,336.19 463.37,335.06 464.34,333.99 465.32,333 466.3,332.11 467.27,331.34 468.25,330.72" fill="none" stroke="#abb439" stroke-width="1.5" stroke-linejoin="round" stroke-linecap="round" /><polyline points="468.25,330.72 469.23,330.28 470.2,330.03 471.18,329.97 472.16,330.12 473.13,330.46 474.11,330.99" fill="none" stroke="#a2b43a" stroke-width="1.5" stroke-linejoin="round" stroke-linecap="round" /><polyline points="474.11,330.99 475.09,331.71 476.06,332.6 477.04,333.67 478.01,334.87 478.99,336.1 479.97,337.27" fill="none" stroke="#259c61" stroke-width="1.5" stroke-linejoin="round" stroke-linecap="round" /><polyline points="479.97,337.27 480.94,338.28 481.92,339.05 482.9,339.47 483.87,339.47 484.85,339.04 485.83,338.27" fill="none" stroke="#107b91" stroke-width="1.5" stroke-linejoin="round" stroke-linecap="round" /><polyline points="485.83,338.27 486.8,337.23 487.78,335.98 488.76,334.61 489.73,333.18 490.71,331.77 491.68,330.44" fill="none" stroke="#16976c" stroke-width="1.5" stroke-linejoin="round" stroke-linecap="round" /><polyline points="491.68,330.44 492.66,329.24 493.64,328.2 494.61,327.35 495.59,326.74 496.57,326.4 497.54,326.31" fill="none" stroke="#9fb43b" stroke-width="1.5" stroke-linejoin="round" stroke-linecap="round" /><polyline points="497.54,326.31 498.52,326.44 499.5,326.76 500.47,327.23 501.45,327.83 502.42,328.53 503.4,329.29" fill="none" stroke="#acb439" stroke-width="1.5" stroke-linejoin="round" stroke-linecap="round" /><polyline points="503.4,329.29 504.38,330.09 505.35,330.88 506.33,331.66 507.31,332.37 508.28,333.01 509.26,333.58" fill="none" stroke="#b0b438" stroke-width="1.5" stroke-linejoin="round" stroke-linecap="round" /><polyline points="509.26,333.58 510.24,334.07 511.21,334.5 512.19,334.87 513.17,335.19 514.14,335.44 515.12,335.65" fill="none" stroke="#b4b438" stroke-width="1.5" stroke-linejoin="round" stroke-linecap="round" /><polyline points="515.12,335.65 516.09,335.81 517.07,335.93 518.05,336.01 519.02,336.06 520,336.07" fill="none" stroke="#b7b437" stroke-width="1.5" stroke-linejoin="round" stroke-linecap="round" /><polyline points="433.1,340.41 434.08,340.4 435.05,340.38 436.03,340.35 437.01,340.32 437.98,340.31 438.96,340.33" fill="none" stroke="#bbb236" stroke-width="1.5" stroke-linejoin="round" stroke-linecap="round" /><polyline points="438.96,340.33 439.93,340.37 440.91,340.47 441.89,340.61 442.86,340.82 443.84,341.1 444.82,341.45" fill="none" stroke="#bab337" stroke-width="1.5" stroke-linejoin="round" stroke-linecap="round" /><polyline points="444.82,341.45 445.79,341.87 446.77,342.33 447.75,342.82 448.72,343.33 449.7,343.85 450.68,344.36" fill="none" stroke="#b7b437" stroke-width="1.5" stroke-linejoin="round" stroke-linecap="round" /><polyline points="450.68,344.36 451.65,344.85 452.63,345.3 453.6,345.7 454.58,346.04 455.56,346.29 456.53,346.46" fill="none" stroke="#b3b438" stroke-width="1.5" stroke-linejoin="round" stroke-linecap="round" /><polyline points="456.53,346.46 457.51,346.52 458.49,346.47 459.46,346.28 460.44,345.96 461.42,345.49 462.39,344.86" fill="none" stroke="#afb438" stroke-width="1.5" stroke-linejoin="round" stroke-linecap="round" /><polyline points="462.39,344.86 463.37,344.07 464.34,343.11 465.32,341.96 466.3,340.62 467.27,339.07 468.25,337.32" fill="none" stroke="#acb439" stroke-width="1.5" stroke-linejoin="round" stroke-linecap="round" /><polyline points="468.25,337.32 469.23,335.45 470.2,333.7 471.18,332.3 472.16,331.47 473.13,331.18 474.11,331.37" fill="none" stroke="#a2b43a" stroke-width="1.5" stroke-linejoin="round" stroke-linecap="round" /><polyline points="474.11,331.37 475.09,331.93 476.06,332.78 477.04,333.84 478.01,335.01 478.99,336.2 479.97,337.33" fill="none" stroke="#259c61" stroke-width="1.5" stroke-linejoin="round" stroke-linecap="round" /><polyline points="479.97,337.33 480.94,338.31 481.92,339.06 482.9,339.47 483.87,339.48 484.85,339.09 485.83,338.4" fill="none" stroke="#107b91" stroke-width="1.5" stroke-linejoin="round" stroke-linecap="round" /><polyline points="485.83,338.4 486.8,337.48 487.78,336.42 488.76,335.3 489.73,334.21 490.71,333.23 491.68,332.44" fill="none" stroke="#16976c" stroke-width="1.5" stroke-linejoin="round" stroke-linecap="round" /><polyline points="491.68,332.44 492.66,331.92 493.64,331.7 494.61,331.75 495.59,332.02 496.57,332.47 497.54,333.07" fill="none" stroke="#9fb43b" stroke-width="1.5" stroke-linejoin="round" stroke-linecap="round" /><polyline points="497.54,333.07 498.52,333.78 499.5,334.56 500.47,335.36 501.45,336.16 502.42,336.92 503.4,337.59" fill="none" stroke="#aeb439" stroke-width="1.5" stroke-linejoin="round" stroke-linecap="round" /><polyline points="503.4,337.59 504.38,338.17 505.35,338.67 506.33,339.09 507.31,339.45 508.28,339.74 509.26,339.97" fill="none" stroke="#b3b438" stroke-width="1.5" stroke-linejoin="round" stroke-linecap="round" /><polyline points="509.26,339.97 510.24,340.14 511.21,340.28 512.19,340.37 513.17,340.43 514.14,340.46 515.12,340.47" fill="none" stroke="#b9b437" stroke-width="1.5" stroke-linejoin="round" stroke-linecap="round" /><polyline points="515.12,340.47 516.09,340.47 517.07,340.45 518.05,340.43 519.02,340.42 520,340.41" fill="none" stroke="#bbb236" stroke-width="1.5" stroke-linejoin="round" stroke-linecap="round" /><polyline points="433.1,361.7 434.08,361.55 435.05,361.15 436.03,360.57 437.01,359.87 437.98,359.12 438.96,358.41" fill="none" stroke="#9db43b" stroke-width="1.5" stroke-linejoin="round" stroke-linecap="round" /><polyline points="438.96,358.41 439.93,357.78 440.91,357.27 441.89,356.85 442.86,356.53 443.84,356.3 444.82,356.15" fill="none" stroke="#9db43b" stroke-width="1.5" stroke-linejoin="round" stroke-linecap="round" /><polyline points="444.82,356.15 445.79,356.08 446.77,356.08 447.75,356.15 448.72,356.27 449.7,356.45 450.68,356.67" fill="none" stroke="#9db43b" stroke-width="1.5" stroke-linejoin="round" stroke-linecap="round" /><polyline points="450.68,356.67 451.65,356.93 452.63,357.22 453.6,357.54 454.58,357.88 455.56,358.24 456.53,358.6" fill="none" stroke="#9db43b" stroke-width="1.5" stroke-linejoin="round" stroke-linecap="round" /><polyline points="456.53,358.6 457.51,358.97 458.49,359.32 459.46,359.67 460.44,360 461.42,360.3 462.39,360.57" fill="none" stroke="#9db43b" stroke-width="1.5" stroke-linejoin="round" stroke-linecap="round" /><polyline points="462.39,360.57 463.37,360.81 464.34,361 465.32,361.14 466.3,361.22 467.27,361.23 468.25,361.18" fill="none" stroke="#9db43b" stroke-width="1.5" stroke-linejoin="round" stroke-linecap="round" /><polyline points="468.25,361.18 469.23,361.06 470.2,360.88 471.18,360.66 472.16,360.41 473.13,360.15 474.11,359.87" fill="none" stroke="#9db43b" stroke-width="1.5" stroke-linejoin="round" stroke-linecap="round" /><polyline points="474.11,359.87 475.09,359.61 476.06,359.37 477.04,359.17 478.01,359.01 478.99,358.92 479.97,358.9" fill="none" stroke="#9db43b" stroke-width="1.5" stroke-linejoin="round" stroke-linecap="round" /><polyline points="479.97,358.9 480.94,358.96 481.92,359.13 482.9,359.41 483.87,359.81 484.85,360.33 485.83,360.93" fill="none" stroke="#9db43b" stroke-width="1.5" stroke-linejoin="round" stroke-linecap="round" /><polyline points="485.83,360.93 486.8,361.59 487.78,362.28 488.76,362.97 489.73,363.63 490.71,364.24 491.68,364.78" fill="none" stroke="#9db43b" stroke-width="1.5" stroke-linejoin="round" stroke-linecap="round" /><polyline points="491.68,364.78 492.66,365.2 493.64,365.48 494.61,365.6 495.59,365.53 496.57,365.26 497.54,364.8" fill="none" stroke="#9db43b" stroke-width="1.5" stroke-linejoin="round" stroke-linecap="round" /><polyline points="497.54,364.8 498.52,364.19 499.5,363.46 500.47,362.65 501.45,361.79 502.42,360.91 503.4,360.04" fill="none" stroke="#9db43b" stroke-width="1.5" stroke-linejoin="round" stroke-linecap="round" /><polyline points="503.4,360.04 504.38,359.21 505.35,358.46 506.33,357.82 507.31,357.32 508.28,356.99 509.26,356.87" fill="none" stroke="#9db43b" stroke-width="1.5" stroke-linejoin="round" stroke-linecap="round" /><polyline points="509.26,356.87 510.24,356.98 511.21,357.29 512.19,357.74 513.17,358.31 514.14,358.95 515.12,359.61" fill="none" stroke="#9db43b" stroke-width="1.5" stroke-linejoin="round" stroke-linecap="round" /><polyline points="515.12,359.61 516.09,360.25 517.07,360.82 518.05,361.28 519.02,361.59 520,361.7" fill="none" stroke="#9db43b" stroke-width="1.5" stroke-linejoin="round" stroke-linecap="round" /><polyline points="433.1,361.7 434.08,361.81 435.05,362.08 436.03,362.47 437.01,362.94 437.98,363.43 438.96,363.9" fill="none" stroke="#abb439" stroke-width="1.5" stroke-linejoin="round" stroke-linecap="round" /><polyline points="438.96,363.9 439.93,364.29 440.91,364.56 441.89,364.66 442.86,364.56 443.84,364.28 444.82,363.87" fill="none" stroke="#abb439" stroke-width="1.5" stroke-linejoin="round" stroke-linecap="round" /><polyline points="444.82,363.87 445.79,363.36 446.77,362.79 447.75,362.2 448.72,361.63 449.7,361.1 450.68,360.68" fill="none" stroke="#abb439" stroke-width="1.5" stroke-linejoin="round" stroke-linecap="round" /><polyline points="450.68,360.68 451.65,360.38 452.63,360.23 453.6,360.23 454.58,360.35 455.56,360.59 456.53,360.93" fill="none" stroke="#abb439" stroke-width="1.5" stroke-linejoin="round" stroke-linecap="round" /><polyline points="456.53,360.93 457.51,361.34 458.49,361.83 459.46,362.36 460.44,362.94 461.42,363.53 462.39,364.13" fill="none" stroke="#abb439" stroke-width="1.5" stroke-linejoin="round" stroke-linecap="round" /><polyline points="462.39,364.13 463.37,364.73 464.34,365.29 465.32,365.82 466.3,366.3 467.27,366.71 468.25,367.03" fill="none" stroke="#abb439" stroke-width="1.5" stroke-linejoin="round" stroke-linecap="round" /><polyline points="468.25,367.03 469.23,367.25 470.2,367.36 471.18,367.34 472.16,367.18 473.13,366.88 474.11,366.48" fill="none" stroke="#abb439" stroke-width="1.5" stroke-linejoin="round" stroke-linecap="round" /><polyline points="474.11,366.48 475.09,365.99 476.06,365.43 477.04,364.83 478.01,364.2 478.99,363.56 479.97,362.93" fill="none" stroke="#abb439" stroke-width="1.5" stroke-linejoin="round" stroke-linecap="round" /><polyline points="479.97,362.93 480.94,362.34 481.92,361.81 482.9,361.35 483.87,360.99 484.85,360.73 485.83,360.57" fill="none" stroke="#abb439" stroke-width="1.5" stroke-linejoin="round" stroke-linecap="round" /><polyline points="485.83,360.57 486.8,360.51 487.78,360.54 488.76,360.66 489.73,360.87 490.71,361.16 491.68,361.53" fill="none" stroke="#abb439" stroke-width="1.5" stroke-linejoin="round" stroke-linecap="round" /><polyline points="491.68,361.53 492.66,361.99 493.64,362.52 494.61,363.12 495.59,363.77 496.57,364.46 497.54,365.16" fill="none" stroke="#abb439" stroke-width="1.5" stroke-linejoin="round" stroke-linecap="round" /><polyline points="497.54,365.16 498.52,365.83 499.5,366.47 500.47,367.04 501.45,367.51 502.42,367.88 503.4,368.1" fill="none" stroke="#abb439" stroke-width="1.5" stroke-linejoin="round" stroke-linecap="round" /><polyline points="503.4,368.1 504.38,368.17 505.35,368.08 506.33,367.87 507.31,367.55 508.28,367.13 509.26,366.64" fill="none" stroke="#abb439" stroke-width="1.5" stroke-linejoin="round" stroke-linecap="round" /><polyline points="509.26,366.64 510.24,366.09 511.21,365.51 512.19,364.91 513.17,364.31 514.14,363.73 515.12,363.19" fill="none" stroke="#abb439" stroke-width="1.5" stroke-linejoin="round" stroke-linecap="round" /><polyline points="515.12,363.19 516.09,362.71 517.07,362.3 518.05,361.98 519.02,361.78 520,361.7" fill="none" stroke="#abb439" stroke-width="1.5" stroke-linejoin="round" stroke-linecap="round" /><polyline points="433.1,379.84 434.08,379.77 435.05,379.57 436.03,379.26 437.01,378.86 437.98,378.41 438.96,377.92" fill="none" stroke="#0f808d" stroke-width="1.5" stroke-linejoin="round" stroke-linecap="round" /><polyline points="438.96,377.92 439.93,377.41 440.91,376.91 441.89,376.45 442.86,376.03 443.84,375.67 444.82,375.35" fill="none" stroke="#107d90" stroke-width="1.5" stroke-linejoin="round" stroke-linecap="round" /><polyline points="444.82,375.35 445.79,375.08 446.77,374.86 447.75,374.69 448.72,374.56 449.7,374.46 450.68,374.41" fill="none" stroke="#107a93" stroke-width="1.5" stroke-linejoin="round" stroke-linecap="round" /><polyline points="450.68,374.41 451.65,374.4 452.63,374.43 453.6,374.5 454.58,374.61 455.56,374.76 456.53,374.94" fill="none" stroke="#117696" stroke-width="1.5" stroke-linejoin="round" stroke-linecap="round" /><polyline points="456.53,374.94 457.51,375.17 458.49,375.44 459.46,375.75 460.44,376.1 461.42,376.49 462.39,376.93" fill="none" stroke="#117696" stroke-width="1.5" stroke-linejoin="round" stroke-linecap="round" /><polyline points="462.39,376.93 463.37,377.4 464.34,377.92 465.32,378.48 466.3,379.07 467.27,379.71 468.25,380.37" fill="none" stroke="#0f828c" stroke-width="1.5" stroke-linejoin="round" stroke-linecap="round" /><polyline points="468.25,380.37 469.23,381.07 470.2,381.8 471.18,382.56 472.16,383.35 473.13,384.16 474.11,384.98" fill="none" stroke="#118c7d" stroke-width="1.5" stroke-linejoin="round" stroke-linecap="round" /><polyline points="474.11,384.98 475.09,385.79 476.06,386.57 477.04,387.31 478.01,387.98 478.99,388.56 479.97,389.05" fill="none" stroke="#14966e" stroke-width="1.5" stroke-linejoin="round" stroke-linecap="round" /><polyline points="479.97,389.05 480.94,389.42 481.92,389.64 482.9,389.72 483.87,389.62 484.85,389.35 485.83,388.94" fill="none" stroke="#239b63" stroke-width="1.5" stroke-linejoin="round" stroke-linecap="round" /><polyline points="485.83,388.94 486.8,388.39 487.78,387.74 488.76,387 489.73,386.19 490.71,385.34 491.68,384.45" fill="none" stroke="#18986b" stroke-width="1.5" stroke-linejoin="round" stroke-linecap="round" /><polyline points="491.68,384.45 492.66,383.55 493.64,382.67 494.61,381.81 495.59,380.99 496.57,380.22 497.54,379.5" fill="none" stroke="#129077" stroke-width="1.5" stroke-linejoin="round" stroke-linecap="round" /><polyline points="497.54,379.5 498.52,378.83 499.5,378.22 500.47,377.68 501.45,377.2 502.42,376.81 503.4,376.49" fill="none" stroke="#108784" stroke-width="1.5" stroke-linejoin="round" stroke-linecap="round" /><polyline points="503.4,376.49 504.38,376.26 505.35,376.12 506.33,376.07 507.31,376.13 508.28,376.28 509.26,376.52" fill="none" stroke="#0f7f8e" stroke-width="1.5" stroke-linejoin="round" stroke-linecap="round" /><polyline points="509.26,376.52 510.24,376.82 511.21,377.17 512.19,377.56 513.17,377.96 514.14,378.36 515.12,378.75" fill="none" stroke="#0f818d" stroke-width="1.5" stroke-linejoin="round" stroke-linecap="round" /><polyline points="515.12,378.75 516.09,379.1 517.07,379.4 518.05,379.63 519.02,379.79 520,379.84" fill="none" stroke="#108588" stroke-width="1.5" stroke-linejoin="round" stroke-linecap="round" /><polyline points="433.1,379.84 434.08,379.82 435.05,379.77 436.03,379.69 437.01,379.58 437.98,379.46 438.96,379.33" fill="none" stroke="#118b7e" stroke-width="1.5" stroke-linejoin="round" stroke-linecap="round" /><polyline points="438.96,379.33 439.93,379.19 440.91,379.06 441.89,378.94 442.86,378.84 443.84,378.75 444.82,378.68" fill="none" stroke="#118a80" stroke-width="1.5" stroke-linejoin="round" stroke-linecap="round" /><polyline points="444.82,378.68 445.79,378.63 446.77,378.6 447.75,378.58 448.72,378.59 449.7,378.62 450.68,378.67" fill="none" stroke="#118982" stroke-width="1.5" stroke-linejoin="round" stroke-linecap="round" /><polyline points="450.68,378.67 451.65,378.75 452.63,378.85 453.6,378.97 454.58,379.11 455.56,379.28 456.53,379.46" fill="none" stroke="#108784" stroke-width="1.5" stroke-linejoin="round" stroke-linecap="round" /><polyline points="456.53,379.46 457.51,379.67 458.49,379.9 459.46,380.15 460.44,380.43 461.42,380.72 462.39,381.03" fill="none" stroke="#108784" stroke-width="1.5" stroke-linejoin="round" stroke-linecap="round" /><polyline points="462.39,381.03 463.37,381.37 464.34,381.72 465.32,382.1 466.3,382.49 467.27,382.91 468.25,383.35" fill="none" stroke="#128e7a" stroke-width="1.5" stroke-linejoin="round" stroke-linecap="round" /><polyline points="468.25,383.35 469.23,383.81 470.2,384.3 471.18,384.8 472.16,385.34 473.13,385.89 474.11,386.46" fill="none" stroke="#14966e" stroke-width="1.5" stroke-linejoin="round" stroke-linecap="round" /><polyline points="474.11,386.46 475.09,387.02 476.06,387.57 477.04,388.08 478.01,388.55 478.99,388.96 479.97,389.3" fill="none" stroke="#249c62" stroke-width="1.5" stroke-linejoin="round" stroke-linecap="round" /><polyline points="479.97,389.3 480.94,389.55 481.92,389.69 482.9,389.72 483.87,389.62 484.85,389.4 485.83,389.06" fill="none" stroke="#30a059" stroke-width="1.5" stroke-linejoin="round" stroke-linecap="round" /><polyline points="485.83,389.06 486.8,388.64 487.78,388.14 488.76,387.59 489.73,386.99 490.71,386.37 491.68,385.75" fill="none" stroke="#289d5f" stroke-width="1.5" stroke-linejoin="round" stroke-linecap="round" /><polyline points="491.68,385.75 492.66,385.13 493.64,384.55 494.61,384 495.59,383.51 496.57,383.06 497.54,382.65" fill="none" stroke="#1b9969" stroke-width="1.5" stroke-linejoin="round" stroke-linecap="round" /><polyline points="497.54,382.65 498.52,382.3 499.5,381.98 500.47,381.71 501.45,381.48 502.42,381.3 503.4,381.15" fill="none" stroke="#139372" stroke-width="1.5" stroke-linejoin="round" stroke-linecap="round" /><polyline points="503.4,381.15 504.38,381.04 505.35,380.97 506.33,380.93 507.31,380.93 508.28,380.97 509.26,381.03" fill="none" stroke="#128d7b" stroke-width="1.5" stroke-linejoin="round" stroke-linecap="round" /><polyline points="509.26,381.03 510.24,381.11 511.21,381.21 512.19,381.32 513.17,381.44 514.14,381.56 515.12,381.68" fill="none" stroke="#128d7c" stroke-width="1.5" stroke-linejoin="round" stroke-linecap="round" /><polyline points="515.12,381.68 516.09,381.78 517.07,381.88 518.05,381.95 519.02,382 520,382.01" fill="none" stroke="#128e7b" stroke-width="1.5" stroke-linejoin="round" stroke-linecap="round" /><polyline points="433.1,382.01 434.08,382.16 435.05,382.56 436.03,383.18 437.01,383.99 437.98,384.94 438.96,386" fill="none" stroke="#18986b" stroke-width="1.5" stroke-linejoin="round" stroke-linecap="round" /><polyline points="438.96,386 439.93,387.12 440.91,388.28 441.89,389.42 442.86,390.52 443.84,391.57 444.82,392.56" fill="none" stroke="#209b65" stroke-width="1.5" stroke-linejoin="round" stroke-linecap="round" /><polyline points="444.82,392.56 445.79,393.49 446.77,394.35 447.75,395.13 448.72,395.83 449.7,396.44 450.68,396.95" fill="none" stroke="#289e5f" stroke-width="1.5" stroke-linejoin="round" stroke-linecap="round" /><polyline points="450.68,396.95 451.65,397.36 452.63,397.67 453.6,397.89 454.58,398.01 455.56,398.05 456.53,398.01" fill="none" stroke="#2ea05b" stroke-width="1.5" stroke-linejoin="round" stroke-linecap="round" /><polyline points="456.53,398.01 457.51,397.91 458.49,397.74 459.46,397.53 460.44,397.26 461.42,396.96 462.39,396.62" fill="none" stroke="#30a159" stroke-width="1.5" stroke-linejoin="round" stroke-linecap="round" /><polyline points="462.39,396.62 463.37,396.26 464.34,395.89 465.32,395.5 466.3,395.1 467.27,394.7 468.25,394.3" fill="none" stroke="#33a257" stroke-width="1.5" stroke-linejoin="round" stroke-linecap="round" /><polyline points="468.25,394.3 469.23,393.9 470.2,393.51 471.18,393.14 472.16,392.78 473.13,392.43 474.11,392.11" fill="none" stroke="#36a354" stroke-width="1.5" stroke-linejoin="round" stroke-linecap="round" /><polyline points="474.11,392.11 475.09,391.8 476.06,391.51 477.04,391.23 478.01,390.97 478.99,390.71 479.97,390.47" fill="none" stroke="#39a452" stroke-width="1.5" stroke-linejoin="round" stroke-linecap="round" /><polyline points="479.97,390.47 480.94,390.23 481.92,390 482.9,389.78 483.87,389.56 484.85,389.34 485.83,389.12" fill="none" stroke="#3ba551" stroke-width="1.5" stroke-linejoin="round" stroke-linecap="round" /><polyline points="485.83,389.12 486.8,388.91 487.78,388.7 488.76,388.48 489.73,388.27 490.71,388.06 491.68,387.84" fill="none" stroke="#37a354" stroke-width="1.5" stroke-linejoin="round" stroke-linecap="round" /><polyline points="491.68,387.84 492.66,387.62 493.64,387.4 494.61,387.18 495.59,386.95 496.57,386.73 497.54,386.49" fill="none" stroke="#32a157" stroke-width="1.5" stroke-linejoin="round" stroke-linecap="round" /><polyline points="497.54,386.49 498.52,386.26 499.5,386.03 500.47,385.79 501.45,385.55 502.42,385.31 503.4,385.07" fill="none" stroke="#2d9f5b" stroke-width="1.5" stroke-linejoin="round" stroke-linecap="round" /><polyline points="503.4,385.07 504.38,384.83 505.35,384.58 506.33,384.34 507.31,384.1 508.28,383.85 509.26,383.61" fill="none" stroke="#289d5f" stroke-width="1.5" stroke-linejoin="round" stroke-linecap="round" /><polyline points="509.26,383.61 510.24,383.38 511.21,383.16 512.19,382.95 513.17,382.75 514.14,382.57 515.12,382.41" fill="none" stroke="#239c63" stroke-width="1.5" stroke-linejoin="round" stroke-linecap="round" /><polyline points="515.12,382.41 516.09,382.28 517.07,382.16 518.05,382.08 519.02,382.03 520,382.01" fill="none" stroke="#1e9a66" stroke-width="1.5" stroke-linejoin="round" stroke-linecap="round" /><polyline points="433.1,416.62 434.08,416.49 435.05,416.15 436.03,415.62 437.01,414.94 437.98,414.14 438.96,413.25" fill="none" stroke="#d73c1e" stroke-width="1.5" stroke-linejoin="round" stroke-linecap="round" /><polyline points="438.96,413.25 439.93,412.31 440.91,411.35 441.89,410.41 442.86,409.51 443.84,408.66 444.82,407.88" fill="none" stroke="#d73c1e" stroke-width="1.5" stroke-linejoin="round" stroke-linecap="round" /><polyline points="444.82,407.88 445.79,407.15 446.77,406.49 447.75,405.91 448.72,405.41 449.7,405 450.68,404.68" fill="none" stroke="#d73c1e" stroke-width="1.5" stroke-linejoin="round" stroke-linecap="round" /><polyline points="450.68,404.68 451.65,404.45 452.63,404.33 453.6,404.28 454.58,404.29 455.56,404.34 456.53,404.42" fill="none" stroke="#d8461f" stroke-width="1.5" stroke-linejoin="round" stroke-linecap="round" /><polyline points="456.53,404.42 457.51,404.49 458.49,404.55 459.46,404.57 460.44,404.53 461.42,404.42 462.39,404.23" fill="none" stroke="#da5821" stroke-width="1.5" stroke-linejoin="round" stroke-linecap="round" /><polyline points="462.39,404.23 463.37,403.96 464.34,403.64 465.32,403.25 466.3,402.82 467.27,402.35 468.25,401.86" fill="none" stroke="#dc6b23" stroke-width="1.5" stroke-linejoin="round" stroke-linecap="round" /><polyline points="468.25,401.86 469.23,401.34 470.2,400.81 471.18,400.26 472.16,399.67 473.13,399.04 474.11,398.34" fill="none" stroke="#d87a25" stroke-width="1.5" stroke-linejoin="round" stroke-linecap="round" /><polyline points="474.11,398.34 475.09,397.56 476.06,396.69 477.04,395.7 478.01,394.64 478.99,393.58 479.97,392.59" fill="none" stroke="#d38827" stroke-width="1.5" stroke-linejoin="round" stroke-linecap="round" /><polyline points="479.97,392.59 480.94,391.75 481.92,391.13 482.9,390.81 483.87,390.87 484.85,391.28 485.83,391.98" fill="none" stroke="#cf942b" stroke-width="1.5" stroke-linejoin="round" stroke-linecap="round" /><polyline points="485.83,391.98 486.8,392.92 487.78,394 488.76,395.18 489.73,396.39 490.71,397.56 491.68,398.7" fill="none" stroke="#d38a28" stroke-width="1.5" stroke-linejoin="round" stroke-linecap="round" /><polyline points="491.68,398.7 492.66,399.79 493.64,400.84 494.61,401.84 495.59,402.78 496.57,403.67 497.54,404.5" fill="none" stroke="#d68126" stroke-width="1.5" stroke-linejoin="round" stroke-linecap="round" /><polyline points="497.54,404.5 498.52,405.27 499.5,405.97 500.47,406.61 501.45,407.22 502.42,407.79 503.4,408.34" fill="none" stroke="#d87b25" stroke-width="1.5" stroke-linejoin="round" stroke-linecap="round" /><polyline points="503.4,408.34 504.38,408.88 505.35,409.41 506.33,409.96 507.31,410.53 508.28,411.13 509.26,411.77" fill="none" stroke="#da7524" stroke-width="1.5" stroke-linejoin="round" stroke-linecap="round" /><polyline points="509.26,411.77 510.24,412.46 511.21,413.19 512.19,413.94 513.17,414.68 514.14,415.4 515.12,416.07" fill="none" stroke="#db7023" stroke-width="1.5" stroke-linejoin="round" stroke-linecap="round" /><polyline points="515.12,416.07 516.09,416.67 517.07,417.17 518.05,417.56 519.02,417.81 520,417.9" fill="none" stroke="#db6822" stroke-width="1.5" stroke-linejoin="round" stroke-linecap="round" /><polyline points="433.1,417.9 434.08,417.83 435.05,417.66 436.03,417.39 437.01,417.07 437.98,416.71 438.96,416.33" fill="none" stroke="#d12a1e" stroke-width="1.5" stroke-linejoin="round" stroke-linecap="round" /><polyline points="438.96,416.33 439.93,415.98 440.91,415.66 441.89,415.41 442.86,415.24 443.84,415.14 444.82,415.1" fill="none" stroke="#d12a1e" stroke-width="1.5" stroke-linejoin="round" stroke-linecap="round" /><polyline points="444.82,415.1 445.79,415.08 446.77,415.09 447.75,415.09 448.72,415.07 449.7,415.02 450.68,414.91" fill="none" stroke="#d12a1e" stroke-width="1.5" stroke-linejoin="round" stroke-linecap="round" /><polyline points="450.68,414.91 451.65,414.74 452.63,414.51 453.6,414.22 454.58,413.89 455.56,413.51 456.53,413.1" fill="none" stroke="#d12a1e" stroke-width="1.5" stroke-linejoin="round" stroke-linecap="round" /><polyline points="456.53,413.1 457.51,412.66 458.49,412.2 459.46,411.72 460.44,411.23 461.42,410.74 462.39,410.25" fill="none" stroke="#d12a1e" stroke-width="1.5" stroke-linejoin="round" stroke-linecap="round" /><polyline points="462.39,410.25 463.37,409.77 464.34,409.31 465.32,408.87 466.3,408.46 467.27,408.08 468.25,407.75" fill="none" stroke="#d12a1e" stroke-width="1.5" stroke-linejoin="round" stroke-linecap="round" /><polyline points="468.25,407.75 469.23,407.46 470.2,407.24 471.18,407.07 472.16,406.98 473.13,406.96 474.11,407.03" fill="none" stroke="#d12a1e" stroke-width="1.5" stroke-linejoin="round" stroke-linecap="round" /><polyline points="474.11,407.03 475.09,407.2 476.06,407.47 477.04,407.85 478.01,408.36 478.99,408.96 479.97,409.57" fill="none" stroke="#d12a1e" stroke-width="1.5" stroke-linejoin="round" stroke-linecap="round" /><polyline points="479.97,409.57 480.94,410.14 481.92,410.59 482.9,410.86 483.87,410.88 484.85,410.68 485.83,410.3" fill="none" stroke="#d12a1e" stroke-width="1.5" stroke-linejoin="round" stroke-linecap="round" /><polyline points="485.83,410.3 486.8,409.81 487.78,409.27 488.76,408.74 489.73,408.29 490.71,407.97 491.68,407.82" fill="none" stroke="#d12a1e" stroke-width="1.5" stroke-linejoin="round" stroke-linecap="round" /><polyline points="491.68,407.82 492.66,407.83 493.64,407.98 494.61,408.25 495.59,408.61 496.57,409.06 497.54,409.57" fill="none" stroke="#d12a1e" stroke-width="1.5" stroke-linejoin="round" stroke-linecap="round" /><polyline points="497.54,409.57 498.52,410.12 499.5,410.7 500.47,411.28 501.45,411.84 502.42,412.37 503.4,412.86" fill="none" stroke="#d12a1e" stroke-width="1.5" stroke-linejoin="round" stroke-linecap="round" /><polyline points="503.4,412.86 504.38,413.29 505.35,413.67 506.33,414.02 507.31,414.34 508.28,414.63 509.26,414.9" fill="none" stroke="#d12a1e" stroke-width="1.5" stroke-linejoin="round" stroke-linecap="round" /><polyline points="509.26,414.9 510.24,415.16 511.21,415.41 512.19,415.66 513.17,415.9 514.14,416.13 515.12,416.34" fill="none" stroke="#d12a1e" stroke-width="1.5" stroke-linejoin="round" stroke-linecap="round" /><polyline points="515.12,416.34 516.09,416.53 517.07,416.69 518.05,416.81 519.02,416.88 520,416.91" fill="none" stroke="#d12a1e" stroke-width="1.5" stroke-linejoin="round" stroke-linecap="round" /><polyline points="433.1,419.18 434.08,419.17 435.05,419.13 436.03,419.07 437.01,418.99 437.98,418.9 438.96,418.79" fill="none" stroke="#c0ac34" stroke-width="1.5" stroke-linejoin="round" stroke-linecap="round" /><polyline points="438.96,418.79 439.93,418.66 440.91,418.53 441.89,418.38 442.86,418.23 443.84,418.07 444.82,417.91" fill="none" stroke="#c0ac34" stroke-width="1.5" stroke-linejoin="round" stroke-linecap="round" /><polyline points="444.82,417.91 445.79,417.75 446.77,417.59 447.75,417.44 448.72,417.29 449.7,417.14 450.68,417.01" fill="none" stroke="#c0ac34" stroke-width="1.5" stroke-linejoin="round" stroke-linecap="round" /><polyline points="450.68,417.01 451.65,416.89 452.63,416.78 453.6,416.68 454.58,416.6 455.56,416.53 456.53,416.46" fill="none" stroke="#c0ac34" stroke-width="1.5" stroke-linejoin="round" stroke-linecap="round" /><polyline points="456.53,416.46 457.51,416.41 458.49,416.36 459.46,416.32 460.44,416.28 461.42,416.25 462.39,416.23" fill="none" stroke="#c0ac34" stroke-width="1.5" stroke-linejoin="round" stroke-linecap="round" /><polyline points="462.39,416.23 463.37,416.21 464.34,416.19 465.32,416.17 466.3,416.15 467.27,416.13 468.25,416.11" fill="none" stroke="#c0ac34" stroke-width="1.5" stroke-linejoin="round" stroke-linecap="round" /><polyline points="468.25,416.11 469.23,416.09 470.2,416.07 471.18,416.05 472.16,416.02 473.13,416 474.11,415.97" fill="none" stroke="#c0ac34" stroke-width="1.5" stroke-linejoin="round" stroke-linecap="round" /><polyline points="474.11,415.97 475.09,415.94 476.06,415.92 477.04,415.89 478.01,415.86 478.99,415.84 479.97,415.81" fill="none" stroke="#c0ac34" stroke-width="1.5" stroke-linejoin="round" stroke-linecap="round" /><polyline points="479.97,415.81 480.94,415.78 481.92,415.76 482.9,415.74 483.87,415.71 484.85,415.69 485.83,415.68" fill="none" stroke="#c0ac34" stroke-width="1.5" stroke-linejoin="round" stroke-linecap="round" /><polyline points="485.83,415.68 486.8,415.67 487.78,415.66 488.76,415.67 489.73,415.68 490.71,415.7 491.68,415.74" fill="none" stroke="#c0ac34" stroke-width="1.5" stroke-linejoin="round" stroke-linecap="round" /><polyline points="491.68,415.74 492.66,415.79 493.64,415.86 494.61,415.94 495.59,416.04 496.57,416.16 497.54,416.3" fill="none" stroke="#c0ac34" stroke-width="1.5" stroke-linejoin="round" stroke-linecap="round" /><polyline points="497.54,416.3 498.52,416.46 499.5,416.65 500.47,416.85 501.45,417.07 502.42,417.31 503.4,417.56" fill="none" stroke="#c0ac34" stroke-width="1.5" stroke-linejoin="round" stroke-linecap="round" /><polyline points="503.4,417.56 504.38,417.82 505.35,418.08 506.33,418.35 507.31,418.61 508.28,418.88 509.26,419.14" fill="none" stroke="#c0ac34" stroke-width="1.5" stroke-linejoin="round" stroke-linecap="round" /><polyline points="509.26,419.14 510.24,419.39 511.21,419.63 512.19,419.86 513.17,420.07 514.14,420.26 515.12,420.43" fill="none" stroke="#c0ac34" stroke-width="1.5" stroke-linejoin="round" stroke-linecap="round" /><polyline points="515.12,420.43 516.09,420.58 517.07,420.69 518.05,420.78 519.02,420.84 520,420.85" fill="none" stroke="#c0ac34" stroke-width="1.5" stroke-linejoin="round" stroke-linecap="round" /><polyline points="433.1,420.85 434.08,420.87 435.05,420.9 436.03,420.95 437.01,421.02 437.98,421.09 438.96,421.16" fill="none" stroke="#dc6e23" stroke-width="1.5" stroke-linejoin="round" stroke-linecap="round" /><polyline points="438.96,421.16 439.93,421.23 440.91,421.3 441.89,421.35 442.86,421.39 443.84,421.42 444.82,421.45" fill="none" stroke="#dc6e23" stroke-width="1.5" stroke-linejoin="round" stroke-linecap="round" /><polyline points="444.82,421.45 445.79,421.5 446.77,421.55 447.75,421.64 448.72,421.76 449.7,421.91 450.68,422.12" fill="none" stroke="#dc6e23" stroke-width="1.5" stroke-linejoin="round" stroke-linecap="round" /><polyline points="450.68,422.12 451.65,422.39 452.63,422.71 453.6,423.08 454.58,423.47 455.56,423.86 456.53,424.24" fill="none" stroke="#dc6e23" stroke-width="1.5" stroke-linejoin="round" stroke-linecap="round" /><polyline points="456.53,424.24 457.51,424.58 458.49,424.87 459.46,425.09 460.44,425.21 461.42,425.23 462.39,425.12" fill="none" stroke="#dc6e23" stroke-width="1.5" stroke-linejoin="round" stroke-linecap="round" /><polyline points="462.39,425.12 463.37,424.85 464.34,424.42 465.32,423.81 466.3,423.04 467.27,422.11 468.25,421.06" fill="none" stroke="#dc6e23" stroke-width="1.5" stroke-linejoin="round" stroke-linecap="round" /><polyline points="468.25,421.06 469.23,419.9 470.2,418.66 471.18,417.35 472.16,415.99 473.13,414.62 474.11,413.24" fill="none" stroke="#dc6e23" stroke-width="1.5" stroke-linejoin="round" stroke-linecap="round" /><polyline points="474.11,413.24 475.09,411.9 476.06,410.62 477.04,409.43 478.01,408.35 478.99,407.44 479.97,406.71" fill="none" stroke="#dc6e23" stroke-width="1.5" stroke-linejoin="round" stroke-linecap="round" /><polyline points="479.97,406.71 480.94,406.2 481.92,405.94 482.9,405.98 483.87,406.33 484.85,406.98 485.83,407.84" fill="none" stroke="#dc6e23" stroke-width="1.5" stroke-linejoin="round" stroke-linecap="round" /><polyline points="485.83,407.84 486.8,408.86 487.78,409.96 488.76,411.07 489.73,412.13 490.71,413.09 491.68,413.94" fill="none" stroke="#dc6e23" stroke-width="1.5" stroke-linejoin="round" stroke-linecap="round" /><polyline points="491.68,413.94 492.66,414.7 493.64,415.36 494.61,415.95 495.59,416.47 496.57,416.93 497.54,417.33" fill="none" stroke="#dc6e23" stroke-width="1.5" stroke-linejoin="round" stroke-linecap="round" /><polyline points="497.54,417.33 498.52,417.69 499.5,418.01 500.47,418.3 501.45,418.57 502.42,418.83 503.4,419.09" fill="none" stroke="#dc6e23" stroke-width="1.5" stroke-linejoin="round" stroke-linecap="round" /><polyline points="503.4,419.09 504.38,419.34 505.35,419.59 506.33,419.83 507.31,420.07 508.28,420.3 509.26,420.51" fill="none" stroke="#dc6e23" stroke-width="1.5" stroke-linejoin="round" stroke-linecap="round" /><polyline points="509.26,420.51 510.24,420.72 511.21,420.91 512.19,421.09 513.17,421.26 514.14,421.4 515.12,421.53" fill="none" stroke="#dc6e23" stroke-width="1.5" stroke-linejoin="round" stroke-linecap="round" /><polyline points="515.12,421.53 516.09,421.64 517.07,421.72 518.05,421.79 519.02,421.83 520,421.84" fill="none" stroke="#dc6e23" stroke-width="1.5" stroke-linejoin="round" stroke-linecap="round" /><polyline points="433.1,430.42 434.08,430.29 435.05,429.95 436.03,429.44 437.01,428.82 437.98,428.15 438.96,427.47" fill="none" stroke="#caa030" stroke-width="1.5" stroke-linejoin="round" stroke-linecap="round" /><polyline points="438.96,427.47 439.93,426.84 440.91,426.3 441.89,425.87 442.86,425.52 443.84,425.25 444.82,425.05" fill="none" stroke="#caa030" stroke-width="1.5" stroke-linejoin="round" stroke-linecap="round" /><polyline points="444.82,425.05 445.79,424.91 446.77,424.82 447.75,424.78 448.72,424.76 449.7,424.77 450.68,424.78" fill="none" stroke="#caa030" stroke-width="1.5" stroke-linejoin="round" stroke-linecap="round" /><polyline points="450.68,424.78 451.65,424.8 452.63,424.81 453.6,424.82 454.58,424.81 455.56,424.79 456.53,424.76" fill="none" stroke="#caa030" stroke-width="1.5" stroke-linejoin="round" stroke-linecap="round" /><polyline points="456.53,424.76 457.51,424.71 458.49,424.65 459.46,424.57 460.44,424.46 461.42,424.34 462.39,424.19" fill="none" stroke="#caa030" stroke-width="1.5" stroke-linejoin="round" stroke-linecap="round" /><polyline points="462.39,424.19 463.37,424.01 464.34,423.81 465.32,423.58 466.3,423.32 467.27,423.02 468.25,422.69" fill="none" stroke="#caa030" stroke-width="1.5" stroke-linejoin="round" stroke-linecap="round" /><polyline points="468.25,422.69 469.23,422.33 470.2,421.94 471.18,421.54 472.16,421.13 473.13,420.71 474.11,420.31" fill="none" stroke="#caa030" stroke-width="1.5" stroke-linejoin="round" stroke-linecap="round" /><polyline points="474.11,420.31 475.09,419.92 476.06,419.55 477.04,419.21 478.01,418.91 478.99,418.66 479.97,418.46" fill="none" stroke="#caa030" stroke-width="1.5" stroke-linejoin="round" stroke-linecap="round" /><polyline points="479.97,418.46 480.94,418.32 481.92,418.26 482.9,418.27 483.87,418.36 484.85,418.54 485.83,418.79" fill="none" stroke="#caa030" stroke-width="1.5" stroke-linejoin="round" stroke-linecap="round" /><polyline points="485.83,418.79 486.8,419.11 487.78,419.49 488.76,419.91 489.73,420.37 490.71,420.87 491.68,421.38" fill="none" stroke="#caa030" stroke-width="1.5" stroke-linejoin="round" stroke-linecap="round" /><polyline points="491.68,421.38 492.66,421.91 493.64,422.45 494.61,422.98 495.59,423.5 496.57,424 497.54,424.47" fill="none" stroke="#caa030" stroke-width="1.5" stroke-linejoin="round" stroke-linecap="round" /><polyline points="497.54,424.47 498.52,424.9 499.5,425.29 500.47,425.65 501.45,425.98 502.42,426.3 503.4,426.6" fill="none" stroke="#caa030" stroke-width="1.5" stroke-linejoin="round" stroke-linecap="round" /><polyline points="503.4,426.6 504.38,426.9 505.35,427.21 506.33,427.53 507.31,427.88 508.28,428.25 509.26,428.64" fill="none" stroke="#caa030" stroke-width="1.5" stroke-linejoin="round" stroke-linecap="round" /><polyline points="509.26,428.64 510.24,429.03 511.21,429.43 512.19,429.82 513.17,430.19 514.14,430.54 515.12,430.86" fill="none" stroke="#caa030" stroke-width="1.5" stroke-linejoin="round" stroke-linecap="round" /><polyline points="515.12,430.86 516.09,431.14 517.07,431.37 518.05,431.55 519.02,431.66 520,431.7" fill="none" stroke="#caa030" stroke-width="1.5" stroke-linejoin="round" stroke-linecap="round" /><polyline points="433.1,430.42 434.08,430.42 435.05,430.42 436.03,430.43 437.01,430.44 437.98,430.45 438.96,430.46" fill="none" stroke="#da7424" stroke-width="1.5" stroke-linejoin="round" stroke-linecap="round" /><polyline points="438.96,430.46 439.93,430.47 440.91,430.49 441.89,430.5 442.86,430.52 443.84,430.54 444.82,430.56" fill="none" stroke="#da7424" stroke-width="1.5" stroke-linejoin="round" stroke-linecap="round" /><polyline points="444.82,430.56 445.79,430.58 446.77,430.6 447.75,430.63 448.72,430.65 449.7,430.67 450.68,430.69" fill="none" stroke="#da7424" stroke-width="1.5" stroke-linejoin="round" stroke-linecap="round" /><polyline points="450.68,430.69 451.65,430.72 452.63,430.74 453.6,430.76 454.58,430.78 455.56,430.81 456.53,430.83" fill="none" stroke="#da7424" stroke-width="1.5" stroke-linejoin="round" stroke-linecap="round" /><polyline points="456.53,430.83 457.51,430.86 458.49,430.88 459.46,430.91 460.44,430.94 461.42,430.96 462.39,431" fill="none" stroke="#da7424" stroke-width="1.5" stroke-linejoin="round" stroke-linecap="round" /><polyline points="462.39,431 463.37,431.03 464.34,431.06 465.32,431.1 466.3,431.14 467.27,431.18 468.25,431.22" fill="none" stroke="#da7424" stroke-width="1.5" stroke-linejoin="round" stroke-linecap="round" /><polyline points="468.25,431.22 469.23,431.27 470.2,431.32 471.18,431.37 472.16,431.42 473.13,431.46 474.11,431.51" fill="none" stroke="#da7424" stroke-width="1.5" stroke-linejoin="round" stroke-linecap="round" /><polyline points="474.11,431.51 475.09,431.55 476.06,431.59 477.04,431.63 478.01,431.66 478.99,431.68 479.97,431.7" fill="none" stroke="#da7424" stroke-width="1.5" stroke-linejoin="round" stroke-linecap="round" /><polyline points="479.97,431.7 480.94,431.71 481.92,431.71 482.9,431.7 483.87,431.69 484.85,431.66 485.83,431.62" fill="none" stroke="#da7424" stroke-width="1.5" stroke-linejoin="round" stroke-linecap="round" /><polyline points="485.83,431.62 486.8,431.57 487.78,431.52 488.76,431.47 489.73,431.4 490.71,431.34 491.68,431.27" fill="none" stroke="#da7424" stroke-width="1.5" stroke-linejoin="round" stroke-linecap="round" /><polyline points="491.68,431.27 492.66,431.2 493.64,431.14 494.61,431.07 495.59,431.01 496.57,430.95 497.54,430.89" fill="none" stroke="#da7424" stroke-width="1.5" stroke-linejoin="round" stroke-linecap="round" /><polyline points="497.54,430.89 498.52,430.84 499.5,430.79 500.47,430.76 501.45,430.73 502.42,430.71 503.4,430.71" fill="none" stroke="#da7424" stroke-width="1.5" stroke-linejoin="round" stroke-linecap="round" /><polyline points="503.4,430.71 504.38,430.71 505.35,430.73 506.33,430.75 507.31,430.78 508.28,430.81 509.26,430.85" fill="none" stroke="#da7424" stroke-width="1.5" stroke-linejoin="round" stroke-linecap="round" /><polyline points="509.26,430.85 510.24,430.89 511.21,430.93 512.19,430.98 513.17,431.02 514.14,431.06 515.12,431.1" fill="none" stroke="#da7424" stroke-width="1.5" stroke-linejoin="round" stroke-linecap="round" /><polyline points="515.12,431.1 516.09,431.14 517.07,431.16 518.05,431.19 519.02,431.2 520,431.21" fill="none" stroke="#da7424" stroke-width="1.5" stroke-linejoin="round" stroke-linecap="round" /><polyline points="433.1,433.87 434.08,433.94 435.05,434.14 436.03,434.46 437.01,434.88 437.98,435.38 438.96,435.93" fill="none" stroke="#d58326" stroke-width="1.5" stroke-linejoin="round" stroke-linecap="round" /><polyline points="438.96,435.93 439.93,436.53 440.91,437.16 441.89,437.8 442.86,438.42 443.84,439.02 444.82,439.57" fill="none" stroke="#d58326" stroke-width="1.5" stroke-linejoin="round" stroke-linecap="round" /><polyline points="444.82,439.57 445.79,440.07 446.77,440.48 447.75,440.79 448.72,440.99 449.7,441.05 450.68,440.96" fill="none" stroke="#d58326" stroke-width="1.5" stroke-linejoin="round" stroke-linecap="round" /><polyline points="450.68,440.96 451.65,440.7 452.63,440.27 453.6,439.69 454.58,438.99 455.56,438.19 456.53,437.33" fill="none" stroke="#d58326" stroke-width="1.5" stroke-linejoin="round" stroke-linecap="round" /><polyline points="456.53,437.33 457.51,436.42 458.49,435.51 459.46,434.62 460.44,433.77 461.42,432.99 462.39,432.31" fill="none" stroke="#d58326" stroke-width="1.5" stroke-linejoin="round" stroke-linecap="round" /><polyline points="462.39,432.31 463.37,431.77 464.34,431.37 465.32,431.13 466.3,431.02 467.27,431.03 468.25,431.15" fill="none" stroke="#d58326" stroke-width="1.5" stroke-linejoin="round" stroke-linecap="round" /><polyline points="468.25,431.15 469.23,431.37 470.2,431.66 471.18,432.02 472.16,432.44 473.13,432.89 474.11,433.37" fill="none" stroke="#d58326" stroke-width="1.5" stroke-linejoin="round" stroke-linecap="round" /><polyline points="474.11,433.37 475.09,433.86 476.06,434.35 477.04,434.82 478.01,435.26 478.99,435.65 479.97,435.99" fill="none" stroke="#d58326" stroke-width="1.5" stroke-linejoin="round" stroke-linecap="round" /><polyline points="479.97,435.99 480.94,436.26 481.92,436.44 482.9,436.53 483.87,436.5 484.85,436.36 485.83,436.12" fill="none" stroke="#d58326" stroke-width="1.5" stroke-linejoin="round" stroke-linecap="round" /><polyline points="485.83,436.12 486.8,435.8 487.78,435.42 488.76,434.97 489.73,434.47 490.71,433.95 491.68,433.4" fill="none" stroke="#d58326" stroke-width="1.5" stroke-linejoin="round" stroke-linecap="round" /><polyline points="491.68,433.4 492.66,432.85 493.64,432.31 494.61,431.78 495.59,431.29 496.57,430.84 497.54,430.45" fill="none" stroke="#d58326" stroke-width="1.5" stroke-linejoin="round" stroke-linecap="round" /><polyline points="497.54,430.45 498.52,430.13 499.5,429.89 500.47,429.75 501.45,429.72 502.42,429.8 503.4,429.97" fill="none" stroke="#d58326" stroke-width="1.5" stroke-linejoin="round" stroke-linecap="round" /><polyline points="503.4,429.97 504.38,430.23 505.35,430.56 506.33,430.95 507.31,431.4 508.28,431.88 509.26,432.39" fill="none" stroke="#d58326" stroke-width="1.5" stroke-linejoin="round" stroke-linecap="round" /><polyline points="509.26,432.39 510.24,432.92 511.21,433.45 512.19,433.97 513.17,434.48 514.14,434.95 515.12,435.39" fill="none" stroke="#d58326" stroke-width="1.5" stroke-linejoin="round" stroke-linecap="round" /><polyline points="515.12,435.39 516.09,435.77 517.07,436.08 518.05,436.32 519.02,436.48 520,436.53" fill="none" stroke="#d58326" stroke-width="1.5" stroke-linejoin="round" stroke-linecap="round" /></g>
<rect x="433.1" y="327.2" width="86.9" height="118.3" fill="none" stroke="#4a4a4a" stroke-width="1"/>
<text x="429.8" y="339.26" style="font-family:'Liberation Serif',serif;font-size:6.3px;font-weight:normal" text-anchor="end" fill="#333" >6</text>
<text x="429.8" y="358.97" style="font-family:'Liberation Serif',serif;font-size:6.3px;font-weight:normal" text-anchor="end" fill="#333" >4</text>
<text x="429.8" y="378.69" style="font-family:'Liberation Serif',serif;font-size:6.3px;font-weight:normal" text-anchor="end" fill="#333" >2</text>
<text x="429.8" y="398.41" style="font-family:'Liberation Serif',serif;font-size:6.3px;font-weight:normal" text-anchor="end" fill="#333" >0</text>
<text x="429.8" y="418.12" style="font-family:'Liberation Serif',serif;font-size:6.3px;font-weight:normal" text-anchor="end" fill="#333" >-2</text>
<text x="429.8" y="437.84" style="font-family:'Liberation Serif',serif;font-size:6.3px;font-weight:normal" text-anchor="end" fill="#333" >-4</text>
<text x="433.1" y="453.8" style="font-family:'Liberation Serif',serif;font-size:6.4px;font-weight:normal" text-anchor="middle" fill="#333" >K</text>
<text x="451.46" y="453.8" style="font-family:'Liberation Serif',serif;font-size:6.4px;font-weight:normal" text-anchor="middle" fill="#333" >M</text>
<text x="483.24" y="453.8" style="font-family:'Liberation Serif',serif;font-size:6.4px;font-weight:normal" text-anchor="middle" fill="#333" >Γ</text>
<text x="520" y="453.8" style="font-family:'Liberation Serif',serif;font-size:6.4px;font-weight:normal" text-anchor="middle" fill="#333" >K</text>
<path d="M433.1,337.06h1.6M520,337.06h-1.6M433.1,356.77h1.6M520,356.77h-1.6M433.1,376.49h1.6M520,376.49h-1.6M433.1,396.21h1.6M520,396.21h-1.6M433.1,415.93h1.6M520,415.93h-1.6M433.1,435.64h1.6M520,435.64h-1.6M433.1,445.5v-1.6M433.1,327.2v1.6M451.46,445.5v-1.6M451.46,327.2v1.6M483.24,445.5v-1.6M483.24,327.2v1.6M520,445.5v-1.6M520,327.2v1.6" stroke="#222" stroke-width="0.7" fill="none"/>
<rect x="520.4" y="327.2" width="2" height="118.3" fill="#cfcfcf"/>
<linearGradient id="c2g" x1="0" y1="0" x2="0" y2="1"><stop offset="0" stop-color="#1888c8"/><stop offset="0.1" stop-color="#10a8b0"/><stop offset="0.2" stop-color="#1ebe8c"/><stop offset="0.3" stop-color="#60ce7a"/><stop offset="0.4" stop-color="#b8de78"/><stop offset="0.5" stop-color="#ece878"/><stop offset="0.6" stop-color="#f0d060"/><stop offset="0.7" stop-color="#f0b04c"/><stop offset="0.8" stop-color="#f0843c"/><stop offset="0.9" stop-color="#ee5038"/><stop offset="1" stop-color="#e02438"/></linearGradient>
<rect x="522.4" y="327.2" width="4.4" height="118.3" fill="url(#c2g)" stroke="#444" stroke-width="0.6"/>
<line x1="522.4" y1="350.86" x2="526.8" y2="350.86" stroke="#222" stroke-width="0.8"/>
<line x1="522.4" y1="374.52" x2="526.8" y2="374.52" stroke="#222" stroke-width="0.8"/>
<line x1="522.4" y1="398.18" x2="526.8" y2="398.18" stroke="#222" stroke-width="0.8"/>
<line x1="522.4" y1="421.84" x2="526.8" y2="421.84" stroke="#222" stroke-width="0.8"/>
<text x="531" y="332.8" style="font-family:'Liberation Serif',serif;font-size:8.4px;font-weight:normal" text-anchor="start" fill="#222" >Zr</text>
<text x="531" y="444.5" style="font-family:'Liberation Serif',serif;font-size:8.4px;font-weight:normal" text-anchor="start" fill="#222" >Te</text>
<text x="481.7" y="320.2" style="font-family:'Liberation Serif',serif;font-size:9.6px" text-anchor="middle" fill="#222">ZrTe<tspan style="font-size:7.6px" dy="2.2">2</tspan></text>
<text x="440.4" y="352" style="font-family:'Liberation Serif',serif;font-size:8.4px;font-weight:normal" text-anchor="start" fill="#333" >(b)</text>
<text transform="translate(419.4,387.15) rotate(-90)" style="font-family:'Liberation Serif',serif;font-size:6.4px;font-style:italic" text-anchor="middle" fill="#1e1e1e">E-E<tspan style="font-size:5px" dy="1.2">F</tspan><tspan dy="-1.2"> (eV)</tspan></text>
<line x1="351.7" y1="413.3" x2="351.7" y2="371.2" stroke="#e7a6fb" stroke-width="2.2"/><line x1="351.7" y1="413.3" x2="351.7" y2="371.2" stroke="#cc3ef4" stroke-width="1.1"/><path d="M351.7,369.2L349.6,374.2L353.8,374.2Z" fill="#cc3ef4"/><path d="M351.7,392.6L349.6,397.6L353.8,397.6Z" fill="#cc3ef4"/>
<line x1="359.4" y1="410.4" x2="359.4" y2="391" stroke="#111" stroke-width="0.9"/><path d="M359.4,389L357.6,393.5L361.2,393.5Z" fill="#111"/>
<rect x="338.5" y="380.1" width="9.9" height="6.2" fill="#b232f0"/><text x="343.45" y="384.9" style="font-family:'Liberation Serif',serif;font-size:4.9px;font-weight:bold" text-anchor="middle" fill="#fff" >2PA</text>
<rect x="361" y="380" width="9.9" height="6.3" fill="#111"/><text x="365.95" y="384.85" style="font-family:'Liberation Serif',serif;font-size:4.9px;font-weight:bold" text-anchor="middle" fill="#fff" >1PA</text>
<line x1="451.7" y1="404.5" x2="451.7" y2="361.6" stroke="#e7a6fb" stroke-width="2.2"/><line x1="451.7" y1="404.5" x2="451.7" y2="361.6" stroke="#cc3ef4" stroke-width="1.1"/><path d="M451.7,359.6L449.6,364.6L453.8,364.6Z" fill="#cc3ef4"/><path d="M451.7,384.2L449.6,389.2L453.8,389.2Z" fill="#cc3ef4"/>
<line x1="478.5" y1="409.3" x2="478.5" y2="366.5" stroke="#e7a6fb" stroke-width="2.2"/><line x1="478.5" y1="409.3" x2="478.5" y2="366.5" stroke="#cc3ef4" stroke-width="1.1"/><path d="M478.5,364.5L476.4,369.5L480.6,369.5Z" fill="#cc3ef4"/><path d="M478.5,388.6L476.4,393.6L480.6,393.6Z" fill="#cc3ef4"/>
<line x1="483.3" y1="410.4" x2="483.3" y2="390.6" stroke="#111" stroke-width="0.9"/><path d="M483.3,388.6L481.5,393.1L485.1,393.1Z" fill="#111"/>
<rect x="464.8" y="370.2" width="9.8" height="5.5" fill="#b232f0"/><text x="469.7" y="374.65" style="font-family:'Liberation Serif',serif;font-size:4.9px;font-weight:bold" text-anchor="middle" fill="#fff" >2PA</text>
<rect x="488.3" y="387.9" width="9.2" height="5" fill="#111"/><text x="492.9" y="392.1" style="font-family:'Liberation Serif',serif;font-size:4.9px;font-weight:bold" text-anchor="middle" fill="#fff" >1PA</text></svg>
</body></html>
